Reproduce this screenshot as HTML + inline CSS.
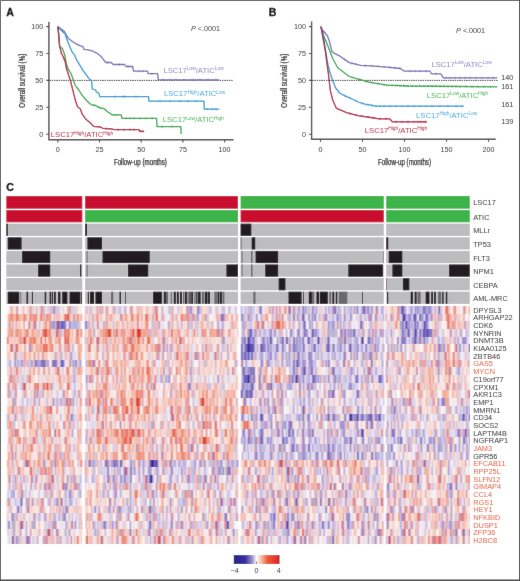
<!DOCTYPE html>
<html><head><meta charset="utf-8"><title>Figure</title><style>
html,body{margin:0;padding:0;background:#fff;}
body{width:520px;height:581px;overflow:hidden;position:relative;}
svg{position:absolute;left:0;top:0;display:block;}
text{font-family:"Liberation Sans",sans-serif;}
</style></head><body>
<svg width="520" height="581" viewBox="0 0 520 581">
<defs><filter id="gb" filterUnits="userSpaceOnUse" x="0" y="0" width="520" height="581"><feConvolveMatrix order="3" kernelMatrix="0 1 0 1 12 1 0 1 0" divisor="16" edgeMode="duplicate"/></filter></defs>
<g filter="url(#gb)"><rect width="520" height="581" fill="#fff"/>
<text x="6.3" y="15.6" font-size="10.6" fill="#000" text-anchor="start" font-family="Liberation Sans, sans-serif" font-weight="bold" stroke="#000" stroke-width="0.3">A</text>
<text x="268.8" y="15.6" font-size="10.6" fill="#000" text-anchor="start" font-family="Liberation Sans, sans-serif" font-weight="bold" stroke="#000" stroke-width="0.3">B</text>
<text x="6.3" y="190.5" font-size="10.6" fill="#000" text-anchor="start" font-family="Liberation Sans, sans-serif" font-weight="bold" stroke="#000" stroke-width="0.3">C</text>
<path d="M48.9 21.7V139.7H233.6" fill="none" stroke="#4a4a4a" stroke-width="1.4"/>
<path d="M46.1 26.6h2.8M46.1 53.5h2.8M46.1 80.4h2.8M46.1 107.3h2.8M46.1 134.2h2.8M57.8 139.7v2.8M99.5 139.7v2.8M141.2 139.7v2.8M182.9 139.7v2.8M224.6 139.7v2.8" stroke="#4a4a4a" stroke-width="1.1"/>
<text x="43.2" y="29.1" font-size="7.2" fill="#2a2a2a" text-anchor="end" font-family="Liberation Sans, sans-serif" >100</text>
<text x="43.2" y="56.0" font-size="7.2" fill="#2a2a2a" text-anchor="end" font-family="Liberation Sans, sans-serif" >75</text>
<text x="43.2" y="82.9" font-size="7.2" fill="#2a2a2a" text-anchor="end" font-family="Liberation Sans, sans-serif" >50</text>
<text x="43.2" y="109.8" font-size="7.2" fill="#2a2a2a" text-anchor="end" font-family="Liberation Sans, sans-serif" >25</text>
<text x="43.2" y="136.7" font-size="7.2" fill="#2a2a2a" text-anchor="end" font-family="Liberation Sans, sans-serif" >0</text>
<text x="57.8" y="152.2" font-size="7.2" fill="#2a2a2a" text-anchor="middle" font-family="Liberation Sans, sans-serif" >0</text>
<text x="99.5" y="152.2" font-size="7.2" fill="#2a2a2a" text-anchor="middle" font-family="Liberation Sans, sans-serif" >25</text>
<text x="141.2" y="152.2" font-size="7.2" fill="#2a2a2a" text-anchor="middle" font-family="Liberation Sans, sans-serif" >50</text>
<text x="182.9" y="152.2" font-size="7.2" fill="#2a2a2a" text-anchor="middle" font-family="Liberation Sans, sans-serif" >75</text>
<text x="224.6" y="152.2" font-size="7.2" fill="#2a2a2a" text-anchor="middle" font-family="Liberation Sans, sans-serif" >100</text>
<path d="M49.5 80.4H233" stroke="#111" stroke-width="1.0" stroke-dasharray="1.3 1.0"/>
<text transform="translate(25.0 80.7) rotate(-90)" font-size="8.6" fill="#222" stroke="#222" stroke-width="0.25" text-anchor="middle" font-family="Liberation Sans, sans-serif" textLength="54" lengthAdjust="spacingAndGlyphs">Overall survival (%)</text>
<text x="140.4" y="164.6" font-size="8.6" fill="#222" stroke="#222" stroke-width="0.25" text-anchor="middle" font-family="Liberation Sans, sans-serif" textLength="53" lengthAdjust="spacingAndGlyphs">Follow-up (months)</text>
<text x="191" y="31.2" font-size="7.2" fill="#333" font-family="Liberation Sans, sans-serif"><tspan font-style="italic">P</tspan> &lt;.0001</text>
<path d="M57.8 26.6 L61.2 29.1 L64.3 31.2 L65.3 33.3 L68.4 38.4 L72.5 41.5 L75.6 43.6 L79.8 45.6 L82.9 46.7 L83.9 49.3 L88.0 49.8 L92.2 50.8 L95.0 52.4 L97.7 53.7 L101.0 56.4 L103.1 59.1 L105.8 62.5 L111.2 62.5 L113.2 64.5 L124.6 64.5 L126.0 66.5 L132.7 66.5 L133.5 71.2 L147.5 71.2 L148.3 73.7 L157.6 73.7 L158.3 79.8 L219.2 79.8" fill="none" stroke="#766bb2" stroke-width="1.3" stroke-linejoin="round"/>
<path d="M57.8 26.6 L61.2 30.2 L65.3 34.3 L66.4 38.4 L67.4 40.5 L69.4 45.6 L71.5 50.8 L73.1 53.4 L74.6 54.9 L76.7 60.1 L79.8 65.2 L81.8 68.3 L82.9 70.4 L86.0 74.5 L89.1 78.7 L91.6 80.7 L92.2 88.8 L95.7 90.0 L96.3 92.0 L99.0 93.4 L99.7 96.6 L148.6 96.6 L148.9 101.2 L204.0 101.2 L204.3 109.2 L219.3 109.2" fill="none" stroke="#2b97cf" stroke-width="1.3" stroke-linejoin="round"/>
<path d="M57.8 26.6 L58.6 35.3 L59.6 46.7 L62.2 48.2 L64.8 54.9 L66.4 64.2 L68.4 69.4 L71.0 73.5 L73.6 80.7 L75.1 85.0 L76.5 87.0 L78.8 90.0 L82.2 95.4 L86.9 100.8 L89.6 103.5 L91.6 104.8 L95.7 105.5 L99.0 107.5 L104.4 108.8 L107.1 111.5 L110.5 113.6 L111.8 114.9 L121.2 114.9 L121.9 118.3 L156.6 118.3 L157.0 126.6 L180.8 126.6 L181.2 134.0" fill="none" stroke="#31a345" stroke-width="1.3" stroke-linejoin="round"/>
<path d="M57.8 26.6 L58.6 32.2 L59.6 45.6 L61.2 52.9 L63.3 57.0 L65.3 62.2 L66.4 68.3 L68.4 74.5 L70.5 80.7 L71.5 85.0 L72.8 90.0 L75.5 100.8 L77.5 106.8 L80.2 108.8 L82.2 114.2 L85.6 118.9 L89.6 122.3 L93.6 126.3 L100.4 127.0 L103.1 128.4 L112.5 129.0 L113.8 129.7 L139.2 129.7 L139.6 131.4 L144.2 131.4" fill="none" stroke="#b0153b" stroke-width="1.3" stroke-linejoin="round"/>
<path d="M108.0 61.4v2.2M119.2 63.4v2.2M128.0 65.4v2.2M139.4 70.1v2.2M143.0 70.1v2.2M152.0 72.6v2.2M163.0 78.7v2.2M170.0 78.7v2.2M176.0 78.7v2.2M184.0 78.7v2.2M192.0 78.7v2.2M200.0 78.7v2.2M208.0 78.7v2.2M216.0 78.7v2.2" stroke="#766bb2" stroke-width="0.8" fill="none"/>
<path d="M115.0 95.5v2.2M122.8 95.5v2.2M124.5 95.5v2.2M136.0 95.5v2.2M160.0 100.1v2.2M170.0 100.1v2.2M180.0 100.1v2.2M188.0 100.1v2.2M196.0 100.1v2.2M207.0 108.1v2.2M212.0 108.1v2.2M216.0 108.1v2.2" stroke="#2b97cf" stroke-width="0.8" fill="none"/>
<path d="M94.0 104.1v2.2M98.0 105.8v2.2M114.0 113.8v2.2M117.0 113.8v2.2M126.0 117.2v2.2M130.0 117.2v2.2M134.0 117.2v2.2M140.0 117.2v2.2M146.0 117.2v2.2M152.0 117.2v2.2M162.0 125.5v2.2M172.0 125.5v2.2" stroke="#31a345" stroke-width="0.8" fill="none"/>
<path d="M106.0 127.5v2.2M118.0 128.6v2.2M124.0 128.6v2.2M130.0 128.6v2.2M134.0 128.6v2.2M141.0 130.3v2.2M143.0 130.3v2.2" stroke="#b0153b" stroke-width="0.8" fill="none"/>
<text x="163.4" y="73.1" fill="#8b82c2" font-size="7.7" font-family="Liberation Sans, sans-serif">LSC17<tspan font-size="4.8" dy="-2.7">Low</tspan><tspan dy="2.7">/ATIC</tspan><tspan font-size="4.8" dy="-2.7">Low</tspan></text>
<text x="163.9" y="96.2" fill="#3aa7de" font-size="7.7" font-family="Liberation Sans, sans-serif">LSC17<tspan font-size="4.8" dy="-2.7">High</tspan><tspan dy="2.7">/ATIC</tspan><tspan font-size="4.8" dy="-2.7">Low</tspan></text>
<text x="162.7" y="122.2" fill="#42b050" font-size="7.7" font-family="Liberation Sans, sans-serif">LSC17<tspan font-size="4.8" dy="-2.7">Low</tspan><tspan dy="2.7">/ATIC</tspan><tspan font-size="4.8" dy="-2.7">High</tspan></text>
<text x="50.8" y="137.3" fill="#b8203f" font-size="7.7" font-family="Liberation Sans, sans-serif">LSC17<tspan font-size="4.8" dy="-2.7">High</tspan><tspan dy="2.7">/ATIC</tspan><tspan font-size="4.8" dy="-2.7">High</tspan></text>
<path d="M311.6 21.5V139.3H495.8" fill="none" stroke="#4a4a4a" stroke-width="1.4"/>
<path d="M308.8 26.6h2.8M308.8 53.5h2.8M308.8 80.4h2.8M308.8 107.3h2.8M308.8 134.2h2.8M320.5 139.3v2.8M362.5 139.3v2.8M404.5 139.3v2.8M446.5 139.3v2.8M488.5 139.3v2.8" stroke="#4a4a4a" stroke-width="1.1"/>
<text x="306.0" y="29.1" font-size="7.2" fill="#2a2a2a" text-anchor="end" font-family="Liberation Sans, sans-serif" >100</text>
<text x="306.0" y="56.0" font-size="7.2" fill="#2a2a2a" text-anchor="end" font-family="Liberation Sans, sans-serif" >75</text>
<text x="306.0" y="82.9" font-size="7.2" fill="#2a2a2a" text-anchor="end" font-family="Liberation Sans, sans-serif" >50</text>
<text x="306.0" y="109.8" font-size="7.2" fill="#2a2a2a" text-anchor="end" font-family="Liberation Sans, sans-serif" >25</text>
<text x="306.0" y="136.7" font-size="7.2" fill="#2a2a2a" text-anchor="end" font-family="Liberation Sans, sans-serif" >0</text>
<text x="320.5" y="152.2" font-size="7.2" fill="#2a2a2a" text-anchor="middle" font-family="Liberation Sans, sans-serif" >0</text>
<text x="362.5" y="152.2" font-size="7.2" fill="#2a2a2a" text-anchor="middle" font-family="Liberation Sans, sans-serif" >50</text>
<text x="404.5" y="152.2" font-size="7.2" fill="#2a2a2a" text-anchor="middle" font-family="Liberation Sans, sans-serif" >100</text>
<text x="446.5" y="152.2" font-size="7.2" fill="#2a2a2a" text-anchor="middle" font-family="Liberation Sans, sans-serif" >150</text>
<text x="488.5" y="152.2" font-size="7.2" fill="#2a2a2a" text-anchor="middle" font-family="Liberation Sans, sans-serif" >200</text>
<path d="M312.2 80.4H498" stroke="#111" stroke-width="1.0" stroke-dasharray="1.3 1.0"/>
<text transform="translate(286.5 80.7) rotate(-90)" font-size="8.6" fill="#222" stroke="#222" stroke-width="0.25" text-anchor="middle" font-family="Liberation Sans, sans-serif" textLength="54" lengthAdjust="spacingAndGlyphs">Overall survival (%)</text>
<text x="404.5" y="164.6" font-size="8.6" fill="#222" stroke="#222" stroke-width="0.25" text-anchor="middle" font-family="Liberation Sans, sans-serif" textLength="53" lengthAdjust="spacingAndGlyphs">Follow-up (months)</text>
<text x="456.1" y="32.9" font-size="7.2" fill="#333" font-family="Liberation Sans, sans-serif"><tspan font-style="italic">P</tspan> &lt;.0001</text>
<path d="M320.9 26.6 L322.5 30.0 L325.8 33.8 L327.5 36.0 L329.2 40.7 L332.0 51.7 L335.0 53.6 L340.0 56.2 L349.2 62.6 L360.8 65.4 L370.8 65.8 L387.0 67.1 L400.4 68.5 L404.4 71.2 L430.0 71.2 L431.4 73.8 L440.8 73.8 L443.5 77.9 L497.3 77.9" fill="none" stroke="#766bb2" stroke-width="1.3" stroke-linejoin="round"/>
<path d="M320.9 26.6 L324.4 37.9 L325.8 40.7 L328.5 47.5 L332.7 58.5 L337.7 67.7 L349.2 76.5 L358.5 79.2 L368.0 81.9 L376.0 83.3 L387.0 85.2 L408.5 86.0 L497.3 86.8" fill="none" stroke="#31a345" stroke-width="1.3" stroke-linejoin="round"/>
<path d="M320.9 26.6 L323.0 33.8 L325.8 51.7 L327.8 64.1 L329.9 72.3 L332.7 80.6 L335.4 87.5 L339.6 93.0 L345.0 95.8 L353.3 99.5 L358.0 102.0 L365.0 104.2 L376.0 106.2 L463.7 106.2" fill="none" stroke="#2b97cf" stroke-width="1.3" stroke-linejoin="round"/>
<path d="M320.9 26.6 L325.0 49.2 L328.5 74.6 L330.4 90.8 L332.7 100.0 L336.2 108.1 L346.5 112.7 L358.1 115.7 L370.8 117.5 L378.8 118.8 L389.6 118.8 L392.3 121.8 L426.8 121.8" fill="none" stroke="#b0153b" stroke-width="1.3" stroke-linejoin="round"/>
<path d="M345.0 58.6v2.2M352.0 62.2v2.2M356.0 63.1v2.2M365.0 64.5v2.2M372.0 64.8v2.2M378.0 65.3v2.2M384.0 65.8v2.2M390.0 66.3v2.2M395.0 66.8v2.2M400.0 67.4v2.2M410.0 70.1v2.2M415.0 70.1v2.2M420.0 70.1v2.2M426.0 70.1v2.2M436.0 72.7v2.2M446.0 76.8v2.2M450.0 76.8v2.2M455.0 76.8v2.2M460.0 76.8v2.2M465.0 76.8v2.2M470.0 76.8v2.2M476.0 76.8v2.2M482.0 76.8v2.2M488.0 76.8v2.2M493.0 76.8v2.2" stroke="#766bb2" stroke-width="0.8" fill="none"/>
<path d="M352.0 76.2v2.2M360.0 78.5v2.2M366.0 80.2v2.2M372.0 81.5v2.2M378.0 82.5v2.2M384.0 83.6v2.2M388.0 84.1v2.2M392.0 84.3v2.2M396.0 84.4v2.2M400.0 84.6v2.2M404.0 84.7v2.2M408.0 84.9v2.2M412.0 84.9v2.2M416.0 85.0v2.2M420.0 85.0v2.2M424.0 85.0v2.2M428.0 85.1v2.2M432.0 85.1v2.2M436.0 85.1v2.2M440.0 85.2v2.2M444.0 85.2v2.2M448.0 85.3v2.2M452.0 85.3v2.2M456.0 85.3v2.2M460.0 85.4v2.2M466.0 85.4v2.2M472.0 85.5v2.2M478.0 85.5v2.2M484.0 85.6v2.2M490.0 85.6v2.2" stroke="#31a345" stroke-width="0.8" fill="none"/>
<path d="M345.0 94.7v2.2M350.0 96.9v2.2M356.0 99.8v2.2M362.0 102.2v2.2M368.0 103.6v2.2M372.0 104.4v2.2M376.0 105.1v2.2M380.0 105.1v2.2M384.0 105.1v2.2M390.0 105.1v2.2M396.0 105.1v2.2M402.0 105.1v2.2M408.0 105.1v2.2M414.0 105.1v2.2M420.0 105.1v2.2M426.0 105.1v2.2M432.0 105.1v2.2M440.0 105.1v2.2M448.0 105.1v2.2M456.0 105.1v2.2M462.0 105.1v2.2" stroke="#2b97cf" stroke-width="0.8" fill="none"/>
<path d="M350.0 112.5v2.2M356.0 114.1v2.2M362.0 115.2v2.2M368.0 116.0v2.2M374.0 116.9v2.2M380.0 117.7v2.2M386.0 117.7v2.2M396.0 120.7v2.2M402.0 120.7v2.2M408.0 120.7v2.2M414.0 120.7v2.2M418.0 120.7v2.2M421.0 120.7v2.2M424.0 120.7v2.2M426.0 120.7v2.2" stroke="#b0153b" stroke-width="0.8" fill="none"/>
<text x="431.4" y="67.1" fill="#8b82c2" font-size="7.7" font-family="Liberation Sans, sans-serif">LSC17<tspan font-size="4.8" dy="-2.7">Low</tspan><tspan dy="2.7">/ATIC</tspan><tspan font-size="4.8" dy="-2.7">Low</tspan></text>
<text x="426.8" y="98.1" fill="#42b050" font-size="7.7" font-family="Liberation Sans, sans-serif">LSC17<tspan font-size="4.8" dy="-2.7">Low</tspan><tspan dy="2.7">/ATIC</tspan><tspan font-size="4.8" dy="-2.7">High</tspan></text>
<text x="416.0" y="117.5" fill="#3aa7de" font-size="7.7" font-family="Liberation Sans, sans-serif">LSC17<tspan font-size="4.8" dy="-2.7">High</tspan><tspan dy="2.7">/ATIC</tspan><tspan font-size="4.8" dy="-2.7">Low</tspan></text>
<text x="364.8" y="133.1" fill="#b8203f" font-size="7.7" font-family="Liberation Sans, sans-serif">LSC17<tspan font-size="4.8" dy="-2.7">High</tspan><tspan dy="2.7">/ATIC</tspan><tspan font-size="4.8" dy="-2.7">High</tspan></text>
<text x="501.2" y="80.1" font-size="7.2" fill="#222" text-anchor="start" font-family="Liberation Sans, sans-serif" >140</text>
<text x="501.2" y="89.1" font-size="7.2" fill="#222" text-anchor="start" font-family="Liberation Sans, sans-serif" >161</text>
<text x="501.2" y="107" font-size="7.2" fill="#222" text-anchor="start" font-family="Liberation Sans, sans-serif" >161</text>
<text x="501.2" y="124.4" font-size="7.2" fill="#222" text-anchor="start" font-family="Liberation Sans, sans-serif" >139</text>
<rect x="6.3" y="196" width="76.0" height="12.7" fill="#c8102e"/>
<rect x="6.3" y="210.1" width="76.0" height="12.2" fill="#c8102e"/>
<rect x="6.3" y="223.7" width="76.0" height="12.2" fill="#bdbdbf"/>
<rect x="6.3" y="237.3" width="76.0" height="12.2" fill="#bdbdbf"/>
<rect x="6.3" y="250.9" width="76.0" height="12.2" fill="#bdbdbf"/>
<rect x="6.3" y="264.5" width="76.0" height="12.2" fill="#bdbdbf"/>
<rect x="6.3" y="278.1" width="76.0" height="12.2" fill="#bdbdbf"/>
<rect x="6.3" y="291.7" width="76.0" height="12.2" fill="#bdbdbf"/>
<rect x="85.1" y="196" width="152.9" height="12.7" fill="#c8102e"/>
<rect x="85.1" y="210.1" width="152.9" height="12.2" fill="#3cb449"/>
<rect x="85.1" y="223.7" width="152.9" height="12.2" fill="#bdbdbf"/>
<rect x="85.1" y="237.3" width="152.9" height="12.2" fill="#bdbdbf"/>
<rect x="85.1" y="250.9" width="152.9" height="12.2" fill="#bdbdbf"/>
<rect x="85.1" y="264.5" width="152.9" height="12.2" fill="#bdbdbf"/>
<rect x="85.1" y="278.1" width="152.9" height="12.2" fill="#bdbdbf"/>
<rect x="85.1" y="291.7" width="152.9" height="12.2" fill="#bdbdbf"/>
<rect x="240.6" y="196" width="143.2" height="12.7" fill="#3cb449"/>
<rect x="240.6" y="210.1" width="143.2" height="12.2" fill="#c8102e"/>
<rect x="240.6" y="223.7" width="143.2" height="12.2" fill="#bdbdbf"/>
<rect x="240.6" y="237.3" width="143.2" height="12.2" fill="#bdbdbf"/>
<rect x="240.6" y="250.9" width="143.2" height="12.2" fill="#bdbdbf"/>
<rect x="240.6" y="264.5" width="143.2" height="12.2" fill="#bdbdbf"/>
<rect x="240.6" y="278.1" width="143.2" height="12.2" fill="#bdbdbf"/>
<rect x="240.6" y="291.7" width="143.2" height="12.2" fill="#bdbdbf"/>
<rect x="386.2" y="196" width="83.6" height="12.7" fill="#3cb449"/>
<rect x="386.2" y="210.1" width="83.6" height="12.2" fill="#3cb449"/>
<rect x="386.2" y="223.7" width="83.6" height="12.2" fill="#bdbdbf"/>
<rect x="386.2" y="237.3" width="83.6" height="12.2" fill="#bdbdbf"/>
<rect x="386.2" y="250.9" width="83.6" height="12.2" fill="#bdbdbf"/>
<rect x="386.2" y="264.5" width="83.6" height="12.2" fill="#bdbdbf"/>
<rect x="386.2" y="278.1" width="83.6" height="12.2" fill="#bdbdbf"/>
<rect x="386.2" y="291.7" width="83.6" height="12.2" fill="#bdbdbf"/>
<rect x="6.3" y="223.7" width="1.5" height="12.2" fill="#231f20"/>
<rect x="85.1" y="223.7" width="1.9" height="12.2" fill="#231f20"/>
<rect x="240.6" y="223.7" width="10.7" height="12.2" fill="#231f20"/>
<rect x="7.8" y="237.3" width="13.8" height="12.2" fill="#231f20"/>
<rect x="87.4" y="237.3" width="14.6" height="12.2" fill="#231f20"/>
<rect x="240.6" y="237.3" width="1.0" height="12.2" fill="#6a6a6a"/>
<rect x="251.7" y="237.3" width="3.5" height="12.2" fill="#231f20"/>
<rect x="386.2" y="237.3" width="2.0" height="12.2" fill="#231f20"/>
<rect x="22.1" y="250.9" width="28.1" height="12.2" fill="#231f20"/>
<rect x="86.6" y="250.9" width="1.0" height="12.2" fill="#6a6a6a"/>
<rect x="102.5" y="250.9" width="47.3" height="12.2" fill="#231f20"/>
<rect x="241.5" y="250.9" width="1.0" height="12.2" fill="#6a6a6a"/>
<rect x="251" y="250.9" width="1.5" height="12.2" fill="#6a6a6a"/>
<rect x="255.6" y="250.9" width="22.5" height="12.2" fill="#231f20"/>
<rect x="383.2" y="250.9" width="0.6" height="12.2" fill="#6a6a6a"/>
<rect x="388.8" y="250.9" width="13.5" height="12.2" fill="#231f20"/>
<rect x="38.1" y="264.5" width="12.1" height="12.2" fill="#231f20"/>
<rect x="80" y="264.5" width="1.3" height="12.2" fill="#231f20"/>
<rect x="86.6" y="264.5" width="1.0" height="12.2" fill="#6a6a6a"/>
<rect x="128" y="264.5" width="20.2" height="12.2" fill="#231f20"/>
<rect x="226.4" y="264.5" width="11.6" height="12.2" fill="#231f20"/>
<rect x="241.5" y="264.5" width="1.0" height="12.2" fill="#6a6a6a"/>
<rect x="251" y="264.5" width="1.5" height="12.2" fill="#6a6a6a"/>
<rect x="265.2" y="264.5" width="12.9" height="12.2" fill="#231f20"/>
<rect x="348.3" y="264.5" width="34.6" height="12.2" fill="#231f20"/>
<rect x="392.4" y="264.5" width="9.9" height="12.2" fill="#231f20"/>
<rect x="449.1" y="264.5" width="20.7" height="12.2" fill="#231f20"/>
<rect x="278.7" y="278.1" width="6.7" height="12.2" fill="#231f20"/>
<rect x="386.2" y="278.1" width="0.8" height="12.2" fill="#6a6a6a"/>
<rect x="402.9" y="278.1" width="6.4" height="12.2" fill="#231f20"/>
<rect x="7.8" y="291.7" width="11.4" height="12.2" fill="#231f20"/>
<rect x="20.4" y="291.7" width="0.8" height="12.2" fill="#6a6a6a"/>
<rect x="26.5" y="291.7" width="1.6" height="12.2" fill="#231f20"/>
<rect x="31.9" y="291.7" width="1.1" height="12.2" fill="#231f20"/>
<rect x="44.7" y="291.7" width="1.5" height="12.2" fill="#231f20"/>
<rect x="49.6" y="291.7" width="1.6" height="12.2" fill="#231f20"/>
<rect x="51.9" y="291.7" width="1.1" height="12.2" fill="#231f20"/>
<rect x="53.9" y="291.7" width="1.9" height="12.2" fill="#231f20"/>
<rect x="58" y="291.7" width="2.4" height="12.2" fill="#231f20"/>
<rect x="62.2" y="291.7" width="5.1" height="12.2" fill="#231f20"/>
<rect x="69.6" y="291.7" width="10.8" height="12.2" fill="#231f20"/>
<rect x="81.2" y="291.7" width="0.8" height="12.2" fill="#231f20"/>
<rect x="87.8" y="291.7" width="1.2" height="12.2" fill="#231f20"/>
<rect x="90" y="291.7" width="4.0" height="12.2" fill="#231f20"/>
<rect x="95.5" y="291.7" width="6.5" height="12.2" fill="#231f20"/>
<rect x="111" y="291.7" width="2.3" height="12.2" fill="#6a6a6a"/>
<rect x="119.5" y="291.7" width="1.5" height="12.2" fill="#231f20"/>
<rect x="125" y="291.7" width="0.7" height="12.2" fill="#231f20"/>
<rect x="153.1" y="291.7" width="8.8" height="12.2" fill="#231f20"/>
<rect x="163.8" y="291.7" width="2.1" height="12.2" fill="#231f20"/>
<rect x="165.9" y="291.7" width="2.1" height="12.2" fill="#6a6a6a"/>
<rect x="170.8" y="291.7" width="1.1" height="12.2" fill="#6a6a6a"/>
<rect x="173.8" y="291.7" width="2.0" height="12.2" fill="#231f20"/>
<rect x="176.9" y="291.7" width="1.9" height="12.2" fill="#231f20"/>
<rect x="180" y="291.7" width="1.9" height="12.2" fill="#231f20"/>
<rect x="183" y="291.7" width="1.4" height="12.2" fill="#6a6a6a"/>
<rect x="185" y="291.7" width="1.9" height="12.2" fill="#231f20"/>
<rect x="187.5" y="291.7" width="1.2" height="12.2" fill="#6a6a6a"/>
<rect x="189.4" y="291.7" width="1.2" height="12.2" fill="#231f20"/>
<rect x="191.25" y="291.7" width="1.8" height="12.2" fill="#231f20"/>
<rect x="194.4" y="291.7" width="1.2" height="12.2" fill="#6a6a6a"/>
<rect x="196.25" y="291.7" width="1.2" height="12.2" fill="#231f20"/>
<rect x="198.1" y="291.7" width="2.5" height="12.2" fill="#231f20"/>
<rect x="201.9" y="291.7" width="2.5" height="12.2" fill="#6a6a6a"/>
<rect x="205" y="291.7" width="2.5" height="12.2" fill="#231f20"/>
<rect x="208.1" y="291.7" width="1.9" height="12.2" fill="#231f20"/>
<rect x="214.4" y="291.7" width="2.5" height="12.2" fill="#6a6a6a"/>
<rect x="217.5" y="291.7" width="1.9" height="12.2" fill="#231f20"/>
<rect x="220" y="291.7" width="1.9" height="12.2" fill="#231f20"/>
<rect x="222.5" y="291.7" width="1.9" height="12.2" fill="#6a6a6a"/>
<rect x="253.3" y="291.7" width="2.2" height="12.2" fill="#6a6a6a"/>
<rect x="288.5" y="291.7" width="13.1" height="12.2" fill="#231f20"/>
<rect x="303.2" y="291.7" width="0.8" height="12.2" fill="#231f20"/>
<rect x="308.8" y="291.7" width="3.1" height="12.2" fill="#231f20"/>
<rect x="311.9" y="291.7" width="2.3" height="12.2" fill="#6a6a6a"/>
<rect x="316.5" y="291.7" width="2.7" height="12.2" fill="#231f20"/>
<rect x="320" y="291.7" width="7.8" height="12.2" fill="#231f20"/>
<rect x="329.3" y="291.7" width="1.9" height="12.2" fill="#6a6a6a"/>
<rect x="332.4" y="291.7" width="1.8" height="12.2" fill="#231f20"/>
<rect x="335.8" y="291.7" width="1.5" height="12.2" fill="#231f20"/>
<rect x="338.8" y="291.7" width="8.5" height="12.2" fill="#6a6a6a"/>
<rect x="362" y="291.7" width="0.8" height="12.2" fill="#231f20"/>
<rect x="387" y="291.7" width="1.2" height="12.2" fill="#231f20"/>
<rect x="410.7" y="291.7" width="2.2" height="12.2" fill="#231f20"/>
<rect x="414.7" y="291.7" width="1.9" height="12.2" fill="#231f20"/>
<rect x="417.5" y="291.7" width="3.1" height="12.2" fill="#6a6a6a"/>
<rect x="425.7" y="291.7" width="3.7" height="12.2" fill="#231f20"/>
<rect x="431.2" y="291.7" width="1.8" height="12.2" fill="#231f20"/>
<rect x="434" y="291.7" width="1.8" height="12.2" fill="#231f20"/>
<rect x="438.1" y="291.7" width="3.1" height="12.2" fill="#6a6a6a"/>
<rect x="442.2" y="291.7" width="1.4" height="12.2" fill="#231f20"/>
<rect x="445.8" y="291.7" width="1.5" height="12.2" fill="#231f20"/>
<text x="473.2" y="205.25" font-size="7.9" fill="#2a2a2a" text-anchor="start" font-family="Liberation Sans, sans-serif" transform="translate(473.2 0) scale(0.94 1) translate(-473.2 0)">LSC17</text>
<text x="473.2" y="219.79999999999998" font-size="7.9" fill="#2a2a2a" text-anchor="start" font-family="Liberation Sans, sans-serif" transform="translate(473.2 0) scale(0.94 1) translate(-473.2 0)">ATIC</text>
<text x="473.2" y="233.39999999999998" font-size="7.9" fill="#2a2a2a" text-anchor="start" font-family="Liberation Sans, sans-serif" transform="translate(473.2 0) scale(0.94 1) translate(-473.2 0)">MLLr</text>
<text x="473.2" y="246.99999999999997" font-size="7.9" fill="#2a2a2a" text-anchor="start" font-family="Liberation Sans, sans-serif" transform="translate(473.2 0) scale(0.94 1) translate(-473.2 0)">TP53</text>
<text x="473.2" y="260.6" font-size="7.9" fill="#2a2a2a" text-anchor="start" font-family="Liberation Sans, sans-serif" transform="translate(473.2 0) scale(0.94 1) translate(-473.2 0)">FLT3</text>
<text x="473.2" y="274.20000000000005" font-size="7.9" fill="#2a2a2a" text-anchor="start" font-family="Liberation Sans, sans-serif" transform="translate(473.2 0) scale(0.94 1) translate(-473.2 0)">NPM1</text>
<text x="473.2" y="287.80000000000007" font-size="7.9" fill="#2a2a2a" text-anchor="start" font-family="Liberation Sans, sans-serif" transform="translate(473.2 0) scale(0.94 1) translate(-473.2 0)">CEBPA</text>
<text x="473.2" y="301.40000000000003" font-size="7.9" fill="#2a2a2a" text-anchor="start" font-family="Liberation Sans, sans-serif" transform="translate(473.2 0) scale(0.94 1) translate(-473.2 0)">AML-MRC</text>
<text x="473.2" y="312.73999999999995" font-size="7.8" fill="#2a2a2a" text-anchor="start" font-family="Liberation Sans, sans-serif" transform="translate(473.2 0) scale(0.95 1) translate(-473.2 0)">DPYSL3</text>
<text x="473.2" y="320.41999999999996" font-size="7.8" fill="#2a2a2a" text-anchor="start" font-family="Liberation Sans, sans-serif" transform="translate(473.2 0) scale(0.95 1) translate(-473.2 0)">ARHGAP22</text>
<text x="473.2" y="328.09999999999997" font-size="7.8" fill="#2a2a2a" text-anchor="start" font-family="Liberation Sans, sans-serif" transform="translate(473.2 0) scale(0.95 1) translate(-473.2 0)">CDK6</text>
<text x="473.2" y="335.78" font-size="7.8" fill="#2a2a2a" text-anchor="start" font-family="Liberation Sans, sans-serif" transform="translate(473.2 0) scale(0.95 1) translate(-473.2 0)">NYNRIN</text>
<text x="473.2" y="343.46" font-size="7.8" fill="#2a2a2a" text-anchor="start" font-family="Liberation Sans, sans-serif" transform="translate(473.2 0) scale(0.95 1) translate(-473.2 0)">DNMT3B</text>
<text x="473.2" y="351.14" font-size="7.8" fill="#2a2a2a" text-anchor="start" font-family="Liberation Sans, sans-serif" transform="translate(473.2 0) scale(0.95 1) translate(-473.2 0)">KIAA0125</text>
<text x="473.2" y="358.82" font-size="7.8" fill="#2a2a2a" text-anchor="start" font-family="Liberation Sans, sans-serif" transform="translate(473.2 0) scale(0.95 1) translate(-473.2 0)">ZBTB46</text>
<text x="473.2" y="366.5" font-size="7.8" fill="#e05a3c" text-anchor="start" font-family="Liberation Sans, sans-serif" transform="translate(473.2 0) scale(0.95 1) translate(-473.2 0)">GAS5</text>
<text x="473.2" y="374.17999999999995" font-size="7.8" fill="#e05a3c" text-anchor="start" font-family="Liberation Sans, sans-serif" transform="translate(473.2 0) scale(0.95 1) translate(-473.2 0)">MYCN</text>
<text x="473.2" y="381.85999999999996" font-size="7.8" fill="#2a2a2a" text-anchor="start" font-family="Liberation Sans, sans-serif" transform="translate(473.2 0) scale(0.95 1) translate(-473.2 0)">C19orf77</text>
<text x="473.2" y="389.53999999999996" font-size="7.8" fill="#2a2a2a" text-anchor="start" font-family="Liberation Sans, sans-serif" transform="translate(473.2 0) scale(0.95 1) translate(-473.2 0)">CPXM1</text>
<text x="473.2" y="397.21999999999997" font-size="7.8" fill="#2a2a2a" text-anchor="start" font-family="Liberation Sans, sans-serif" transform="translate(473.2 0) scale(0.95 1) translate(-473.2 0)">AKR1C3</text>
<text x="473.2" y="404.9" font-size="7.8" fill="#2a2a2a" text-anchor="start" font-family="Liberation Sans, sans-serif" transform="translate(473.2 0) scale(0.95 1) translate(-473.2 0)">EMP1</text>
<text x="473.2" y="412.58" font-size="7.8" fill="#2a2a2a" text-anchor="start" font-family="Liberation Sans, sans-serif" transform="translate(473.2 0) scale(0.95 1) translate(-473.2 0)">MMRN1</text>
<text x="473.2" y="420.26" font-size="7.8" fill="#2a2a2a" text-anchor="start" font-family="Liberation Sans, sans-serif" transform="translate(473.2 0) scale(0.95 1) translate(-473.2 0)">CD34</text>
<text x="473.2" y="427.93999999999994" font-size="7.8" fill="#2a2a2a" text-anchor="start" font-family="Liberation Sans, sans-serif" transform="translate(473.2 0) scale(0.95 1) translate(-473.2 0)">SOCS2</text>
<text x="473.2" y="435.62" font-size="7.8" fill="#2a2a2a" text-anchor="start" font-family="Liberation Sans, sans-serif" transform="translate(473.2 0) scale(0.95 1) translate(-473.2 0)">LAPTM4B</text>
<text x="473.2" y="443.29999999999995" font-size="7.8" fill="#2a2a2a" text-anchor="start" font-family="Liberation Sans, sans-serif" transform="translate(473.2 0) scale(0.95 1) translate(-473.2 0)">NGFRAP1</text>
<text x="473.2" y="450.97999999999996" font-size="7.8" fill="#e05a3c" text-anchor="start" font-family="Liberation Sans, sans-serif" transform="translate(473.2 0) scale(0.95 1) translate(-473.2 0)">JAM3</text>
<text x="473.2" y="458.65999999999997" font-size="7.8" fill="#2a2a2a" text-anchor="start" font-family="Liberation Sans, sans-serif" transform="translate(473.2 0) scale(0.95 1) translate(-473.2 0)">GPR56</text>
<text x="473.2" y="466.34" font-size="7.8" fill="#e05a3c" text-anchor="start" font-family="Liberation Sans, sans-serif" transform="translate(473.2 0) scale(0.95 1) translate(-473.2 0)">EFCAB11</text>
<text x="473.2" y="474.02" font-size="7.8" fill="#e05a3c" text-anchor="start" font-family="Liberation Sans, sans-serif" transform="translate(473.2 0) scale(0.95 1) translate(-473.2 0)">RPP25L</text>
<text x="473.2" y="481.69999999999993" font-size="7.8" fill="#e05a3c" text-anchor="start" font-family="Liberation Sans, sans-serif" transform="translate(473.2 0) scale(0.95 1) translate(-473.2 0)">SLFN12</text>
<text x="473.2" y="489.38" font-size="7.8" fill="#e05a3c" text-anchor="start" font-family="Liberation Sans, sans-serif" transform="translate(473.2 0) scale(0.95 1) translate(-473.2 0)">GIMAP4</text>
<text x="473.2" y="497.05999999999995" font-size="7.8" fill="#e05a3c" text-anchor="start" font-family="Liberation Sans, sans-serif" transform="translate(473.2 0) scale(0.95 1) translate(-473.2 0)">CCL4</text>
<text x="473.2" y="504.74" font-size="7.8" fill="#e05a3c" text-anchor="start" font-family="Liberation Sans, sans-serif" transform="translate(473.2 0) scale(0.95 1) translate(-473.2 0)">RGS1</text>
<text x="473.2" y="512.42" font-size="7.8" fill="#e05a3c" text-anchor="start" font-family="Liberation Sans, sans-serif" transform="translate(473.2 0) scale(0.95 1) translate(-473.2 0)">HEY1</text>
<text x="473.2" y="520.1" font-size="7.8" fill="#e05a3c" text-anchor="start" font-family="Liberation Sans, sans-serif" transform="translate(473.2 0) scale(0.95 1) translate(-473.2 0)">NFKBID</text>
<text x="473.2" y="527.78" font-size="7.8" fill="#e05a3c" text-anchor="start" font-family="Liberation Sans, sans-serif" transform="translate(473.2 0) scale(0.95 1) translate(-473.2 0)">DUSP1</text>
<text x="473.2" y="535.4599999999999" font-size="7.8" fill="#e05a3c" text-anchor="start" font-family="Liberation Sans, sans-serif" transform="translate(473.2 0) scale(0.95 1) translate(-473.2 0)">ZFP36</text>
<text x="473.2" y="543.14" font-size="7.8" fill="#e05a3c" text-anchor="start" font-family="Liberation Sans, sans-serif" transform="translate(473.2 0) scale(0.95 1) translate(-473.2 0)">H2BC8</text>
<defs><filter id="bl" filterUnits="userSpaceOnUse" x="6" y="306" width="464" height="238"><feConvolveMatrix order="3 1" kernelMatrix="1 2 1" divisor="4" edgeMode="duplicate"/></filter></defs>
<g shape-rendering="crispEdges" filter="url(#bl)"><path d="M338 309.8h1M357 309.8h1M426 309.8h1M242 317.5h1M293 317.5h1M315 317.5h1M344 317.5h1M404 317.5h1M414 317.5h1M420 317.5h1M422 317.5h1M56 325.2h1M58 325.2h1M403 325.2h1M351 332.9h1M402 332.9h1M405 332.9h1M424 332.9h1M427 332.9h1M242 340.6h1M244 340.6h1M249 340.6h1M282 340.6h1M286 340.6h1M424 340.6h1M242 348.2h1M248 348.2h2M251 348.2h1M268 348.2h1M297 348.2h1M333 348.2h1M242 355.9h1M251 355.9h1M262 355.9h1M282 355.9h1M35 363.6h1M70 363.6h1M282 363.6h1M371 363.6h1M244 371.3h1M248 371.3h1M251 371.3h1M253 371.3h1M332 371.3h1M438 371.3h1M248 379.0h2M259 379.0h1M289 379.0h1M297 379.0h1M251 386.6h1M271 386.6h1M242 394.3h1M247 394.3h1M249 394.3h1M251 394.3h1M73 402.0h1M71 417.4h1M328 417.4h1M350 417.4h1M357 417.4h2M371 417.4h1M459 417.4h1M285 425.0h1M303 425.0h1M293 432.7h1M312 432.7h1M400 432.7h1M256 440.4h1M401 440.4h1M438 440.4h1M459 440.4h1M282 448.1h1M293 448.1h1M381 448.1h1M388 448.1h1M357 455.8h1M362 455.8h1M120 463.4h2M151 463.4h3M156 463.4h1M228 463.4h1M108 471.1h1M220 471.1h1M223 471.1h1M226 471.1h1M9 478.8h1M130 478.8h1M150 478.8h1M152 478.8h1M418 478.8h1M66 486.5h1M334 486.5h1M342 486.5h1M130 494.2h1M273 494.2h1M9 501.8h1M21 501.8h1M61 501.8h1M130 509.5h1M150 509.5h1M346 517.2h1M149 524.9h1M228 524.9h1M268 524.9h1M288 524.9h1M368 524.9h1M130 532.6h1M13 540.2h1M262 540.2h1M333 540.2h1" stroke="#322396" stroke-width="7.68"/><path d="M313 332.9h1M363 332.9h1M420 332.9h1M362 340.6h1M414 340.6h1M276 348.2h1M303 348.2h1M397 348.2h1M363 355.9h1M371 355.9h1M43 363.6h1M268 363.6h1M297 363.6h1M166 379.0h1M245 379.0h1M251 379.0h1M53 402.0h1M367 417.4h1M379 417.4h1M463 417.4h1M271 425.0h1M362 432.7h1M262 440.4h1M378 440.4h1M270 448.1h1M280 448.1h1M357 448.1h1M340 455.8h1M105 463.4h1M204 463.4h1M228 471.1h1M288 478.8h1M346 494.2h1M203 517.2h1M9 524.9h1M12 524.9h1M32 524.9h1M66 524.9h1M120 532.6h1M295 540.2h1" stroke="#3c2b9e" stroke-width="7.68"/><path d="M344 309.8h1M363 309.8h1M303 317.5h1M62 325.2h1M400 325.2h1M405 325.2h2M415 325.2h1M424 325.2h1M328 332.9h1M267 340.6h1M270 340.6h1M309 340.6h1M341 340.6h1M416 340.6h1M289 348.2h1M329 348.2h1M391 348.2h1M245 355.9h1M248 355.9h1M61 363.6h1M63 363.6h1M303 371.3h1M303 379.0h1M357 379.0h1M268 386.6h1M282 394.3h1M300 402.0h1M303 409.7h1M467 409.7h1M256 417.4h1M262 417.4h1M334 417.4h1M376 417.4h1M443 417.4h1M282 432.7h1M282 440.4h1M351 440.4h1M191 448.1h1M282 455.8h1M305 455.8h1M292 471.1h1M157 478.8h1M22 494.2h1M170 501.8h1M296 501.8h1M320 501.8h1M66 509.5h1M256 509.5h1M12 517.2h1M291 517.2h1M319 517.2h1M14 524.9h1M21 524.9h1M54 524.9h1M322 524.9h1M387 524.9h1M233 532.6h1M305 540.2h1" stroke="#4534a5" stroke-width="7.68"/><path d="M289 309.8h1M371 309.8h1M75 325.2h1M262 325.2h1M312 325.2h1M250 332.9h1M290 332.9h1M332 332.9h1M415 332.9h1M434 332.9h1M222 340.6h1M264 340.6h1M361 340.6h1M420 340.6h1M438 340.6h1M247 348.2h1M350 348.2h1M294 355.9h1M438 355.9h1M31 363.6h1M303 363.6h1M382 363.6h1M297 371.3h1M369 371.3h1M450 371.3h1M247 379.0h1M253 379.0h1M295 379.0h1M312 379.0h1M340 379.0h1M242 386.6h1M244 386.6h1M391 394.3h1M391 409.7h1M420 409.7h1M299 417.4h1M303 417.4h1M351 417.4h1M288 432.7h1M343 432.7h1M361 432.7h1M251 440.4h1M400 440.4h1M421 440.4h1M244 448.1h1M260 448.1h1M421 448.1h1M438 448.1h1M256 455.8h1M344 455.8h1M393 455.8h1M44 463.4h1M217 463.4h1M15 478.8h1M67 478.8h1M113 478.8h1M151 478.8h1M198 478.8h1M215 478.8h1M11 494.2h1M298 494.2h1M320 494.2h1M32 501.8h1M150 501.8h1M367 509.5h1M130 524.9h1M298 524.9h1M451 524.9h1M463 532.6h1M16 540.2h1M37 540.2h1M267 540.2h1" stroke="#4e3cac" stroke-width="7.68"/><path d="M402 309.8h1M405 309.8h1M222 317.5h1M403 317.5h1M419 317.5h1M426 317.5h1M337 325.2h1M360 325.2h1M425 325.2h1M330 332.9h1M336 332.9h1M353 332.9h1M409 332.9h1M423 332.9h1M426 332.9h1M248 340.6h1M253 340.6h1M271 340.6h1M287 340.6h1M317 340.6h1M328 340.6h1M260 348.2h1M293 348.2h1M244 355.9h1M252 355.9h1M286 355.9h1M321 355.9h1M332 355.9h1M357 355.9h1M15 363.6h1M45 363.6h1M328 363.6h1M242 371.3h1M293 371.3h1M311 371.3h1M271 379.0h1M380 379.0h1M303 386.6h1M37 394.3h1M241 394.3h1M13 402.0h1M70 402.0h1M98 409.7h1M275 409.7h1M328 409.7h1M362 409.7h1M251 417.4h1M321 417.4h1M349 417.4h1M383 417.4h1M438 417.4h1M262 432.7h1M465 432.7h1M434 440.4h1M463 440.4h1M308 448.1h1M428 448.1h1M434 448.1h1M299 455.8h1M303 455.8h1M328 455.8h1M89 463.4h1M92 463.4h1M170 463.4h1M237 463.4h1M297 463.4h1M148 471.1h1M200 478.8h1M388 486.5h1M80 494.2h1M189 494.2h1M215 494.2h1M220 494.2h1M286 494.2h1M26 501.8h1M57 501.8h1M287 501.8h1M316 501.8h1M328 501.8h1M28 509.5h1M220 509.5h1M326 509.5h1M364 509.5h1M172 524.9h1M207 524.9h1M273 524.9h1M287 524.9h1M57 532.6h1M65 532.6h1M332 532.6h1M26 540.2h1M451 540.2h1M456 540.2h1" stroke="#5844b4" stroke-width="7.68"/><path d="M191 309.8h1M325 309.8h1M401 309.8h1M403 309.8h1M424 309.8h1M428 309.8h1M431 309.8h1M312 317.5h1M375 317.5h1M438 317.5h1M54 325.2h1M77 325.2h1M303 325.2h1M305 325.2h1M332 325.2h1M254 332.9h1M312 332.9h1M334 332.9h1M345 332.9h1M391 332.9h1M414 332.9h1M245 340.6h1M247 340.6h1M297 340.6h1M318 340.6h1M344 340.6h1M350 340.6h1M368 340.6h2M401 340.6h1M427 340.6h1M282 348.2h1M344 348.2h1M366 348.2h1M375 348.2h1M388 348.2h1M444 348.2h1M456 348.2h1M270 355.9h1M308 355.9h1M351 355.9h1M354 355.9h1M73 363.6h1M242 363.6h1M305 363.6h1M190 371.3h1M260 371.3h1M312 371.3h1M357 371.3h1M169 379.0h1M191 379.0h1M244 379.0h1M296 379.0h1M338 379.0h1M371 379.0h1M379 379.0h1M438 379.0h1M270 386.6h1M330 386.6h1M350 386.6h1M344 394.3h1M15 402.0h1M280 402.0h1M371 402.0h1M282 409.7h1M357 409.7h1M450 409.7h1M172 417.4h1M261 417.4h1M329 417.4h1M338 417.4h1M362 417.4h1M378 417.4h1M265 425.0h1M344 425.0h1M357 425.0h1M367 425.0h1M371 425.0h1M15 432.7h1M72 432.7h1M278 432.7h1M289 432.7h1M297 432.7h1M363 432.7h1M466 432.7h1M244 440.4h1M249 440.4h1M286 440.4h1M291 440.4h1M376 440.4h1M262 448.1h1M284 448.1h1M309 448.1h1M366 448.1h1M441 448.1h1M446 448.1h1M467 448.1h1M263 455.8h1M317 455.8h1M372 455.8h1M375 455.8h1M113 463.4h1M157 463.4h1M396 463.4h1M425 463.4h1M125 471.1h1M156 471.1h1M163 471.1h1M181 471.1h1M194 471.1h1M212 471.1h1M287 471.1h2M391 471.1h1M448 471.1h1M139 478.8h1M146 478.8h1M177 478.8h1M205 478.8h1M322 478.8h1M440 478.8h1M456 478.8h1M74 486.5h1M120 486.5h1M65 494.2h1M108 494.2h1M288 494.2h1M325 494.2h1M183 501.8h1M329 501.8h1M333 501.8h1M377 501.8h1M18 509.5h1M113 509.5h1M371 509.5h1M451 509.5h1M226 517.2h1M34 524.9h1M256 524.9h1M286 524.9h1M442 524.9h1M288 532.6h1M12 540.2h1M71 540.2h1M327 540.2h1M332 540.2h1M368 540.2h1" stroke="#6350ba" stroke-width="7.68"/><path d="M293 309.8h1M303 309.8h1M312 309.8h1M350 309.8h1M438 309.8h2M297 317.5h1M302 317.5h1M338 317.5h1M405 317.5h1M35 325.2h1M61 325.2h1M70 325.2h1M242 325.2h1M409 325.2h1M94 332.9h1M251 332.9h1M271 332.9h1M341 332.9h1M407 332.9h1M412 332.9h1M416 332.9h1M429 332.9h1M251 340.6h1M262 340.6h1M280 340.6h1M293 340.6h2M303 340.6h1M319 340.6h1M345 340.6h1M348 340.6h1M357 340.6h1M363 340.6h1M397 340.6h1M409 340.6h1M412 340.6h1M29 348.2h1M167 348.2h1M227 348.2h1M252 348.2h1M254 348.2h1M261 348.2h2M311 348.2h1M314 348.2h2M318 348.2h1M326 348.2h1M378 348.2h1M383 348.2h1M401 348.2h1M463 348.2h1M469 348.2h1M260 355.9h1M298 355.9h1M41 363.6h1M52 363.6h1M75 363.6h1M86 363.6h1M205 363.6h1M262 363.6h1M294 363.6h1M296 363.6h1M294 371.3h1M304 371.3h2M364 371.3h1M386 371.3h1M74 379.0h1M218 379.0h1M313 379.0h1M318 379.0h1M328 379.0h1M355 379.0h1M368 379.0h1M249 386.6h1M259 386.6h1M341 386.6h1M246 394.3h1M309 394.3h1M332 394.3h1M245 402.0h1M462 402.0h1M242 417.4h1M254 417.4h1M308 417.4h1M345 417.4h1M352 417.4h1M365 417.4h1M469 417.4h1M102 425.0h1M120 425.0h1M260 432.7h1M271 432.7h1M386 432.7h1M436 432.7h1M443 432.7h1M468 432.7h1M91 440.4h1M267 440.4h1M283 440.4h1M303 440.4h1M347 440.4h1M350 440.4h1M398 440.4h1M136 448.1h1M256 448.1h1M329 448.1h1M350 448.1h1M369 448.1h1M391 448.1h1M459 448.1h1M15 455.8h1M248 455.8h1M271 455.8h1M358 455.8h1M371 455.8h1M378 455.8h1M438 455.8h1M26 463.4h1M90 463.4h1M111 463.4h1M139 463.4h1M200 463.4h1M210 463.4h1M221 463.4h1M114 471.1h1M130 471.1h1M134 471.1h1M171 471.1h1M232 471.1h1M272 471.1h1M376 471.1h1M407 471.1h1M120 478.8h1M124 478.8h2M149 478.8h1M44 486.5h1M105 486.5h1M115 486.5h1M156 486.5h1M207 486.5h1M217 486.5h1M387 486.5h1M398 486.5h1M51 494.2h1M120 494.2h1M109 501.8h1M286 501.8h1M314 501.8h1M451 501.8h1M95 509.5h1M119 509.5h1M128 509.5h1M229 509.5h1M242 509.5h1M413 509.5h1M445 509.5h1M54 517.2h1M225 517.2h1M293 517.2h1M348 517.2h1M52 524.9h1M75 524.9h1M116 524.9h1M215 524.9h1M227 524.9h1M264 524.9h1M373 524.9h1M449 524.9h1M48 532.6h1M170 532.6h1M286 532.6h1M391 532.6h1M442 532.6h1M456 532.6h1M102 540.2h1M258 540.2h1M280 540.2h1M375 540.2h1M389 540.2h1" stroke="#6e5bbf" stroke-width="7.68"/><path d="M70 309.8h1M156 309.8h1M169 309.8h1M198 309.8h1M273 309.8h1M333 309.8h1M335 309.8h1M364 309.8h1M376 309.8h1M415 309.8h1M256 317.5h1M288 317.5h1M351 317.5h1M371 317.5h1M416 317.5h1M64 325.2h1M244 325.2h1M328 325.2h1M334 325.2h1M340 325.2h1M361 325.2h1M371 325.2h1M414 325.2h1M298 332.9h1M304 332.9h1M354 332.9h1M403 332.9h1M431 332.9h1M224 340.6h1M254 340.6h1M283 340.6h1M299 340.6h1M302 340.6h1M339 340.6h1M372 340.6h1M404 340.6h1M245 348.2h1M250 348.2h1M253 348.2h1M295 348.2h1M328 348.2h1M341 348.2h1M371 348.2h1M405 348.2h1M438 348.2h1M15 355.9h1M61 355.9h1M197 355.9h1M275 355.9h1M344 355.9h1M381 355.9h1M53 363.6h1M56 363.6h1M92 363.6h1M165 363.6h1M293 363.6h1M309 363.6h1M344 363.6h1M459 363.6h1M169 371.3h1M254 371.3h1M301 371.3h1M334 371.3h1M351 371.3h1M458 371.3h1M86 379.0h1M254 379.0h1M293 379.0h1M315 379.0h1M323 379.0h1M350 379.0h1M153 386.6h1M246 386.6h1M253 386.6h1M299 386.6h1M338 386.6h1M459 386.6h1M358 394.3h1M376 394.3h1M27 402.0h1M34 402.0h1M39 402.0h1M268 402.0h1M282 402.0h1M438 402.0h1M269 409.7h1M293 409.7h1M343 409.7h1M375 409.7h1M394 409.7h1M463 409.7h1M191 417.4h1M252 417.4h1M260 417.4h1M317 417.4h1M336 417.4h1M354 417.4h1M363 417.4h1M369 417.4h2M256 425.0h1M340 425.0h1M342 425.0h1M244 432.7h1M249 432.7h1M254 432.7h1M302 432.7h2M310 432.7h1M313 432.7h1M327 432.7h1M337 432.7h1M357 432.7h1M394 432.7h1M86 440.4h1M248 440.4h1M261 440.4h1M294 440.4h1M309 440.4h1M363 440.4h1M371 440.4h1M464 440.4h1M197 448.1h1M273 448.1h1M291 448.1h1M297 448.1h1M332 448.1h1M354 448.1h1M408 448.1h1M427 448.1h1M162 455.8h1M242 455.8h1M261 455.8h1M286 455.8h1M310 455.8h1M322 455.8h1M330 455.8h1M386 455.8h1M388 455.8h1M434 455.8h1M52 463.4h1M107 463.4h1M114 463.4h1M116 463.4h1M150 463.4h1M154 463.4h2M279 463.4h1M424 463.4h1M94 471.1h1M131 471.1h1M420 471.1h1M440 471.1h1M32 478.8h1M36 478.8h1M108 478.8h1M188 478.8h1M295 478.8h1M298 478.8h1M79 486.5h1M170 486.5h1M203 486.5h1M450 486.5h2M456 486.5h1M70 494.2h1M271 494.2h1M293 494.2h1M387 494.2h1M393 494.2h1M451 494.2h1M130 501.8h1M192 501.8h1M221 501.8h1M234 501.8h1M261 501.8h1M273 501.8h1M297 501.8h1M364 501.8h1M142 509.5h1M170 509.5h1M252 509.5h1M64 517.2h1M117 517.2h1M119 517.2h1M260 517.2h1M273 517.2h2M288 517.2h1M333 517.2h1M349 517.2h1M401 517.2h1M104 524.9h1M271 524.9h1M274 524.9h1M348 524.9h1M362 524.9h1M377 524.9h1M26 532.6h1M255 532.6h1M297 532.6h1M403 532.6h1M409 532.6h1M453 532.6h1M150 540.2h1M358 540.2h1M397 540.2h1" stroke="#7966c4" stroke-width="7.68"/><path d="M53 309.8h1M187 309.8h1M197 309.8h1M260 309.8h2M299 309.8h1M302 309.8h1M340 309.8h1M354 309.8h1M367 309.8h1M381 309.8h1M398 309.8h1M418 309.8h1M423 309.8h1M429 309.8h1M205 317.5h1M290 317.5h1M325 317.5h1M391 317.5h1M402 317.5h1M413 317.5h1M415 317.5h1M65 325.2h1M85 325.2h1M159 325.2h1M310 325.2h1M343 325.2h1M402 325.2h1M417 325.2h2M427 325.2h1M56 332.9h1M61 332.9h1M244 332.9h1M274 332.9h1M286 332.9h1M315 332.9h1M376 332.9h1M408 332.9h1M419 332.9h1M466 332.9h1M98 340.6h1M277 340.6h1M307 340.6h2M327 340.6h1M402 340.6h1M405 340.6h1M415 340.6h1M458 340.6h1M462 340.6h1M159 348.2h1M211 348.2h1M222 348.2h1M241 348.2h1M246 348.2h1M265 348.2h1M270 348.2h1M283 348.2h1M299 348.2h1M327 348.2h1M349 348.2h1M358 348.2h1M369 348.2h1M393 348.2h1M439 348.2h1M218 355.9h1M241 355.9h1M249 355.9h1M271 355.9h1M289 355.9h1M310 355.9h1M345 355.9h1M365 355.9h1M10 363.6h1M21 363.6h1M38 363.6h1M55 363.6h1M62 363.6h1M94 363.6h1M191 363.6h1M235 363.6h1M261 363.6h1M286 363.6h1M311 363.6h2M343 363.6h1M387 363.6h1M250 371.3h1M299 379.0h1M309 379.0h1M335 379.0h1M362 379.0h1M189 386.6h2M252 386.6h1M277 386.6h1M307 386.6h2M334 386.6h1M453 386.6h1M8 394.3h1M63 394.3h1M244 394.3h1M252 394.3h1M299 394.3h1M328 394.3h2M333 394.3h1M357 394.3h1M66 402.0h1M260 402.0h1M274 402.0h1M303 402.0h1M355 402.0h1M391 402.0h1M403 402.0h1M409 402.0h1M442 402.0h2M304 409.7h1M371 409.7h1M15 417.4h1M268 417.4h1M271 417.4h1M309 417.4h1M360 417.4h1M375 417.4h1M380 417.4h1M420 417.4h1M427 417.4h1M466 417.4h1M63 425.0h1M151 425.0h1M193 425.0h1M254 425.0h1M277 425.0h1M290 425.0h2M308 425.0h1M334 425.0h1M391 425.0h1M450 425.0h1M466 425.0h1M381 432.7h1M391 432.7h1M393 432.7h1M416 432.7h1M459 432.7h1M153 440.4h1M270 440.4h1M327 440.4h1M394 440.4h1M409 440.4h1M416 440.4h1M431 440.4h1M440 440.4h1M264 448.1h1M328 448.1h1M333 448.1h1M392 448.1h1M405 448.1h1M451 448.1h1M455 448.1h1M327 455.8h1M334 455.8h1M347 455.8h1M85 463.4h1M94 463.4h1M117 463.4h1M131 463.4h1M133 463.4h1M149 463.4h1M165 463.4h1M183 463.4h1M195 463.4h1M401 463.4h1M117 471.1h1M139 471.1h1M158 471.1h1M172 471.1h1M188 471.1h1M218 471.1h1M229 471.1h1M339 471.1h1M344 471.1h1M368 471.1h1M51 478.8h1M107 478.8h1M206 478.8h1M258 478.8h1M291 478.8h1M340 478.8h1M9 486.5h1M31 486.5h1M130 486.5h1M418 486.5h1M13 494.2h1M115 494.2h1M147 494.2h1M153 494.2h1M156 494.2h1M163 494.2h1M182 494.2h1M192 494.2h1M28 501.8h1M65 501.8h1M145 501.8h1M311 501.8h1M400 501.8h1M17 509.5h1M117 509.5h1M218 509.5h1M361 509.5h1M399 509.5h1M435 509.5h1M34 517.2h1M59 517.2h1M91 517.2h1M156 517.2h1M178 517.2h1M271 517.2h1M287 517.2h1M377 517.2h1M442 517.2h1M20 524.9h1M26 524.9h1M150 524.9h1M178 524.9h1M182 524.9h1M323 524.9h1M347 524.9h1M426 524.9h1M14 532.6h1M69 532.6h1M98 532.6h1M156 532.6h1M217 532.6h1M306 532.6h1M363 532.6h1M377 532.6h1M379 532.6h1M401 532.6h1M464 532.6h1M29 540.2h1M46 540.2h1M159 540.2h1M287 540.2h1M300 540.2h1M348 540.2h1M380 540.2h1" stroke="#8472ca" stroke-width="7.68"/><path d="M42 309.8h1M54 309.8h1M102 309.8h1M125 309.8h1M162 309.8h1M222 309.8h1M241 309.8h1M259 309.8h1M290 309.8h1M306 309.8h1M313 309.8h1M329 309.8h1M334 309.8h1M368 309.8h1M411 309.8h1M420 309.8h1M197 317.5h1M221 317.5h1M223 317.5h1M248 317.5h1M308 317.5h2M365 317.5h1M383 317.5h1M409 317.5h2M425 317.5h1M427 317.5h1M51 325.2h1M59 325.2h1M63 325.2h1M69 325.2h1M86 325.2h1M98 325.2h1M113 325.2h1M168 325.2h1M218 325.2h1M304 325.2h1M316 325.2h1M407 325.2h1M421 325.2h1M423 325.2h1M218 332.9h1M242 332.9h1M270 332.9h1M305 332.9h1M307 332.9h1M340 332.9h1M369 332.9h1M372 332.9h1M383 332.9h1M428 332.9h1M430 332.9h1M450 332.9h1M460 332.9h1M256 340.6h1M312 340.6h1M378 340.6h1M418 340.6h1M465 340.6h1M170 348.2h1M205 348.2h1M244 348.2h1M257 348.2h1M263 348.2h2M273 348.2h1M277 348.2h1M304 348.2h1M334 348.2h1M337 348.2h1M339 348.2h1M351 348.2h1M355 348.2h1M357 348.2h1M459 348.2h2M71 355.9h1M158 355.9h1M247 355.9h1M254 355.9h1M268 355.9h1M299 355.9h1M305 355.9h1M315 355.9h1M335 355.9h1M405 355.9h1M425 355.9h1M18 363.6h1M36 363.6h1M47 363.6h1M54 363.6h1M76 363.6h1M80 363.6h1M246 363.6h1M278 363.6h1M299 363.6h1M326 363.6h1M329 363.6h1M354 363.6h1M372 363.6h1M398 363.6h1M431 363.6h1M438 363.6h1M227 371.3h1M333 371.3h1M367 371.3h1M400 371.3h1M456 371.3h1M161 379.0h1M242 379.0h1M246 379.0h1M291 379.0h2M314 379.0h1M320 379.0h1M365 379.0h1M382 379.0h1M414 379.0h1M147 386.6h1M151 386.6h1M280 386.6h1M287 386.6h1M289 386.6h1M383 386.6h1M74 394.3h1M79 394.3h1M170 394.3h1M334 394.3h1M61 402.0h1M236 402.0h1M265 402.0h1M267 402.0h1M328 402.0h1M396 402.0h1M251 409.7h1M268 409.7h1M274 409.7h1M280 409.7h1M297 409.7h1M457 409.7h1M460 409.7h1M213 417.4h1M243 417.4h1M248 417.4h1M302 417.4h1M333 417.4h1M344 417.4h1M355 417.4h1M397 417.4h1M462 417.4h1M464 417.4h1M14 425.0h1M153 425.0h1M288 425.0h2M372 425.0h1M387 425.0h1M398 425.0h1M37 432.7h1M54 432.7h1M242 432.7h1M248 432.7h1M277 432.7h1M292 432.7h1M392 432.7h1M423 432.7h1M457 432.7h2M462 432.7h1M260 440.4h1M287 440.4h1M340 440.4h1M344 440.4h2M362 440.4h1M368 440.4h1M411 440.4h1M420 440.4h1M424 440.4h1M450 440.4h1M156 448.1h1M211 448.1h1M251 448.1h1M303 448.1h1M312 448.1h1M318 448.1h1M321 448.1h1M340 448.1h1M344 448.1h1M450 448.1h1M197 455.8h1M301 455.8h1M332 455.8h1M354 455.8h1M376 455.8h1M390 455.8h1M418 455.8h1M450 455.8h1M12 463.4h1M54 463.4h1M130 463.4h1M171 463.4h1M253 463.4h1M288 463.4h1M346 463.4h1M387 463.4h1M37 471.1h1M120 471.1h1M143 471.1h1M279 471.1h1M301 471.1h1M317 471.1h1M320 471.1h1M402 471.1h1M460 471.1h1M57 478.8h1M71 478.8h1M92 478.8h1M127 478.8h1M171 478.8h1M182 478.8h1M189 478.8h1M203 478.8h1M218 478.8h1M366 478.8h1M368 478.8h1M64 486.5h1M76 486.5h1M125 486.5h1M146 486.5h1M214 486.5h1M377 486.5h1M420 486.5h1M447 486.5h1M69 494.2h1M103 494.2h1M116 494.2h1M184 494.2h1M207 494.2h1M247 494.2h1M260 494.2h1M268 494.2h1M280 494.2h1M20 501.8h1M43 501.8h1M222 501.8h1M264 501.8h1M305 501.8h1M321 501.8h1M438 501.8h1M464 501.8h1M21 509.5h1M109 509.5h1M149 509.5h1M191 509.5h1M259 509.5h1M267 509.5h1M375 509.5h1M425 509.5h1M44 517.2h1M65 517.2h1M146 517.2h1M159 517.2h1M205 517.2h1M275 517.2h1M297 517.2h1M332 517.2h1M363 517.2h1M368 517.2h1M374 517.2h1M387 517.2h1M403 517.2h1M71 524.9h1M103 524.9h1M112 524.9h1M158 524.9h1M165 524.9h1M193 524.9h1M226 524.9h1M302 524.9h1M307 524.9h1M313 524.9h1M328 524.9h2M342 524.9h1M353 524.9h1M400 524.9h1M407 524.9h1M440 524.9h1M52 532.6h1M149 532.6h1M273 532.6h1M284 532.6h1M320 532.6h1M334 532.6h1M361 532.6h1M368 532.6h1M380 532.6h1M445 532.6h1M27 540.2h1M60 540.2h1M133 540.2h1M163 540.2h1M192 540.2h1M293 540.2h1M304 540.2h1M329 540.2h1M346 540.2h1M418 540.2h1M432 540.2h1" stroke="#9383d0" stroke-width="7.68"/><path d="M16 309.8h1M36 309.8h1M58 309.8h1M120 309.8h1M172 309.8h1M209 309.8h1M224 309.8h1M248 309.8h1M251 309.8h1M305 309.8h1M308 309.8h1M348 309.8h1M361 309.8h1M365 309.8h1M383 309.8h1M417 309.8h1M463 309.8h1M153 317.5h1M194 317.5h1M241 317.5h1M244 317.5h1M251 317.5h1M261 317.5h1M282 317.5h1M294 317.5h1M314 317.5h1M319 317.5h1M326 317.5h1M333 317.5h1M336 317.5h1M340 317.5h1M368 317.5h1M428 317.5h1M430 317.5h2M28 325.2h1M53 325.2h1M60 325.2h1M92 325.2h1M152 325.2h1M191 325.2h1M195 325.2h1M293 325.2h1M299 325.2h1M309 325.2h1M369 325.2h1M412 325.2h1M438 325.2h1M465 325.2h1M197 332.9h1M222 332.9h1M248 332.9h2M291 332.9h1M297 332.9h1M306 332.9h1M316 332.9h1M344 332.9h1M348 332.9h1M355 332.9h1M380 332.9h1M386 332.9h1M425 332.9h1M131 340.6h1M164 340.6h1M290 340.6h1M296 340.6h1M300 340.6h1M325 340.6h1M329 340.6h1M376 340.6h1M403 340.6h1M443 340.6h1M463 340.6h2M107 348.2h1M218 348.2h1M267 348.2h1M271 348.2h1M278 348.2h1M285 348.2h1M294 348.2h1M313 348.2h1M353 348.2h1M362 348.2h1M365 348.2h1M395 348.2h1M414 348.2h1M441 348.2h1M70 355.9h1M102 355.9h1M195 355.9h1M214 355.9h1M256 355.9h1M302 355.9h1M311 355.9h1M340 355.9h1M369 355.9h2M376 355.9h1M434 355.9h1M458 355.9h1M40 363.6h1M42 363.6h1M44 363.6h1M48 363.6h1M289 363.6h1M298 363.6h1M325 363.6h1M349 363.6h1M361 363.6h1M425 363.6h1M436 363.6h1M439 363.6h1M443 363.6h1M73 371.3h1M75 371.3h1M243 371.3h1M246 371.3h1M309 371.3h1M376 371.3h1M398 371.3h1M416 371.3h1M420 371.3h1M459 371.3h1M11 379.0h1M27 379.0h1M168 379.0h1M260 379.0h1M264 379.0h1M325 379.0h1M329 379.0h1M334 379.0h1M356 379.0h1M378 379.0h1M387 379.0h1M420 379.0h1M22 386.6h1M187 386.6h1M222 386.6h1M247 386.6h1M260 386.6h1M290 386.6h1M300 386.6h1M311 386.6h1M315 386.6h1M348 386.6h1M15 394.3h1M100 394.3h1M192 394.3h1M250 394.3h1M285 394.3h1M342 394.3h1M356 394.3h1M371 394.3h1M22 402.0h1M56 402.0h1M86 402.0h1M244 402.0h1M297 402.0h1M309 402.0h1M312 402.0h1M321 402.0h1M344 402.0h1M411 402.0h1M441 402.0h1M48 409.7h1M109 409.7h1M260 409.7h1M349 409.7h1M358 409.7h1M380 409.7h1M393 409.7h1M400 409.7h1M446 409.7h1M455 409.7h1M7 417.4h1M73 417.4h1M290 417.4h1M296 417.4h1M326 417.4h1M332 417.4h1M356 417.4h1M361 417.4h1M368 417.4h1M391 417.4h1M411 417.4h1M440 417.4h1M53 425.0h1M262 425.0h1M282 425.0h2M321 425.0h1M394 425.0h1M222 432.7h1M243 432.7h1M251 432.7h1M261 432.7h1M273 432.7h1M275 432.7h1M309 432.7h1M341 432.7h1M398 432.7h1M406 432.7h1M412 432.7h1M434 432.7h1M441 432.7h1M241 440.4h1M254 440.4h1M259 440.4h1M268 440.4h1M271 440.4h1M284 440.4h1M293 440.4h1M315 440.4h1M334 440.4h1M356 440.4h1M397 440.4h1M407 440.4h1M433 440.4h1M444 440.4h1M466 440.4h1M469 440.4h1M102 448.1h1M292 448.1h1M296 448.1h1M302 448.1h1M304 448.1h1M323 448.1h1M335 448.1h1M338 448.1h1M346 448.1h1M374 448.1h1M383 448.1h1M400 448.1h1M224 455.8h1M254 455.8h1M270 455.8h1M278 455.8h1M280 455.8h1M291 455.8h1M315 455.8h1M329 455.8h1M338 455.8h1M341 455.8h1M361 455.8h1M460 455.8h1M466 455.8h2M25 463.4h1M106 463.4h1M115 463.4h1M142 463.4h1M144 463.4h1M173 463.4h1M175 463.4h1M178 463.4h2M181 463.4h1M194 463.4h1M219 463.4h1M286 463.4h1M448 463.4h1M123 471.1h1M150 471.1h2M192 471.1h1M215 471.1h1M256 471.1h1M323 471.1h1M374 471.1h1M432 471.1h1M20 478.8h1M24 478.8h1M73 478.8h2M85 478.8h1M95 478.8h1M131 478.8h1M147 478.8h1M169 478.8h1M227 478.8h1M242 478.8h1M252 478.8h1M264 478.8h1M267 478.8h1M307 478.8h1M327 478.8h1M332 478.8h1M373 478.8h1M375 478.8h1M389 478.8h1M401 478.8h1M21 486.5h1M48 486.5h1M52 486.5h1M103 486.5h1M113 486.5h1M211 486.5h1M298 486.5h1M368 486.5h1M430 486.5h1M468 486.5h1M45 494.2h1M100 494.2h1M152 494.2h1M315 494.2h1M376 494.2h1M415 494.2h1M48 501.8h1M69 501.8h1M71 501.8h1M76 501.8h1M114 501.8h1M127 501.8h1M153 501.8h1M178 501.8h1M217 501.8h1M256 501.8h1M280 501.8h1M345 501.8h2M372 501.8h1M460 501.8h1M120 509.5h1M167 509.5h1M181 509.5h2M288 509.5h1M325 509.5h1M354 509.5h1M401 509.5h1M427 509.5h1M14 517.2h1M62 517.2h1M72 517.2h1M128 517.2h1M153 517.2h1M236 517.2h1M270 517.2h1M300 517.2h1M307 517.2h1M375 517.2h1M393 517.2h1M451 517.2h1M459 517.2h2M79 524.9h1M94 524.9h1M105 524.9h1M163 524.9h1M181 524.9h1M190 524.9h1M205 524.9h1M217 524.9h1M258 524.9h1M266 524.9h1M296 524.9h1M319 524.9h1M332 524.9h1M447 524.9h1M456 524.9h1M20 532.6h1M56 532.6h1M95 532.6h1M105 532.6h1M324 532.6h1M362 532.6h1M375 532.6h1M451 532.6h1M18 540.2h1M43 540.2h1M57 540.2h1M228 540.2h1M233 540.2h1M241 540.2h1M386 540.2h1M438 540.2h1" stroke="#a294d6" stroke-width="7.68"/><path d="M31 309.8h1M56 309.8h1M73 309.8h1M112 309.8h1M118 309.8h1M189 309.8h2M235 309.8h1M250 309.8h1M315 309.8h2M336 309.8h1M412 309.8h1M422 309.8h1M92 317.5h1M120 317.5h1M162 317.5h1M249 317.5h1M257 317.5h1M304 317.5h1M337 317.5h1M347 317.5h1M350 317.5h1M360 317.5h2M370 317.5h1M376 317.5h1M379 317.5h1M407 317.5h2M39 325.2h1M72 325.2h2M79 325.2h1M104 325.2h1M197 325.2h1M212 325.2h1M223 325.2h1M251 325.2h1M329 325.2h1M345 325.2h1M350 325.2h1M362 325.2h1M411 325.2h1M426 325.2h1M159 332.9h1M252 332.9h1M256 332.9h1M259 332.9h2M263 332.9h1M265 332.9h1M275 332.9h1M282 332.9h1M299 332.9h1M303 332.9h1M311 332.9h1M347 332.9h1M349 332.9h1M381 332.9h1M417 332.9h1M422 332.9h1M443 332.9h1M451 332.9h1M456 332.9h1M87 340.6h1M153 340.6h1M250 340.6h1M263 340.6h1M269 340.6h1M321 340.6h1M338 340.6h1M355 340.6h1M375 340.6h1M386 340.6h1M398 340.6h1M419 340.6h1M422 340.6h1M455 340.6h1M466 340.6h1M72 348.2h1M98 348.2h1M164 348.2h1M191 348.2h1M300 348.2h1M309 348.2h1M321 348.2h1M340 348.2h1M361 348.2h1M400 348.2h1M440 348.2h1M443 348.2h1M21 355.9h1M162 355.9h1M167 355.9h1M170 355.9h1M191 355.9h1M227 355.9h1M246 355.9h1M288 355.9h1M297 355.9h1M303 355.9h1M309 355.9h1M317 355.9h1M328 355.9h1M334 355.9h1M356 355.9h1M367 355.9h1M388 355.9h1M14 363.6h1M17 363.6h1M60 363.6h1M79 363.6h1M107 363.6h1M199 363.6h1M245 363.6h1M270 363.6h1M275 363.6h1M314 363.6h1M363 363.6h1M420 363.6h1M428 363.6h1M38 371.3h1M62 371.3h1M98 371.3h1M164 371.3h1M308 371.3h1M328 371.3h1M340 371.3h1M348 371.3h1M350 371.3h1M372 371.3h1M375 371.3h1M441 371.3h1M87 379.0h1M91 379.0h1M120 379.0h1M164 379.0h1M205 379.0h1M217 379.0h1M222 379.0h1M228 379.0h1M243 379.0h1M307 379.0h1M333 379.0h1M343 379.0h1M345 379.0h1M381 379.0h1M393 379.0h1M461 379.0h1M15 386.6h1M20 386.6h1M174 386.6h1M224 386.6h1M262 386.6h1M267 386.6h1M282 386.6h1M292 386.6h1M310 386.6h1M312 386.6h1M351 386.6h1M354 386.6h1M357 386.6h1M368 386.6h1M10 394.3h1M35 394.3h1M42 394.3h2M87 394.3h1M153 394.3h1M245 394.3h1M262 394.3h1M268 394.3h1M304 394.3h1M317 394.3h1M353 394.3h1M361 394.3h1M367 394.3h1M388 394.3h1M102 402.0h1M193 402.0h1M277 402.0h1M293 402.0h1M308 402.0h1M317 402.0h1M369 402.0h1M383 402.0h1M392 402.0h1M400 402.0h1M404 402.0h1M434 402.0h1M444 402.0h1M467 402.0h1M14 409.7h1M37 409.7h1M101 409.7h1M170 409.7h1M261 409.7h1M302 409.7h1M309 409.7h1M395 409.7h1M437 409.7h2M465 409.7h1M469 409.7h1M21 417.4h1M60 417.4h1M86 417.4h1M120 417.4h1M153 417.4h1M197 417.4h1M241 417.4h1M270 417.4h1M275 417.4h1M283 417.4h1M286 417.4h1M288 417.4h1M307 417.4h1M313 417.4h1M316 417.4h1M372 417.4h1M393 417.4h2M400 417.4h1M402 417.4h1M423 417.4h1M7 425.0h1M70 425.0h1M77 425.0h1M169 425.0h1M260 425.0h1M280 425.0h1M299 425.0h1M309 425.0h1M328 425.0h1M355 425.0h1M370 425.0h1M402 425.0h1M440 425.0h1M468 425.0h1M86 432.7h1M286 432.7h1M290 432.7h1M307 432.7h1M328 432.7h1M330 432.7h1M332 432.7h1M344 432.7h1M351 432.7h1M358 432.7h1M415 432.7h1M418 432.7h1M420 432.7h1M450 432.7h1M26 440.4h1M41 440.4h1M51 440.4h1M150 440.4h1M194 440.4h1M222 440.4h1M242 440.4h1M302 440.4h1M311 440.4h1M314 440.4h1M316 440.4h1M319 440.4h1M332 440.4h1M337 440.4h1M349 440.4h1M375 440.4h1M379 440.4h1M382 440.4h1M387 440.4h1M428 440.4h3M113 448.1h1M116 448.1h1M153 448.1h1M224 448.1h1M247 448.1h1M254 448.1h1M294 448.1h1M305 448.1h1M316 448.1h1M320 448.1h1M325 448.1h1M327 448.1h1M363 448.1h1M411 448.1h1M439 448.1h1M443 448.1h1M463 448.1h1M56 455.8h1M211 455.8h2M255 455.8h1M292 455.8h1M307 455.8h1M316 455.8h1M364 455.8h1M381 455.8h1M394 455.8h1M403 455.8h1M462 455.8h1M108 463.4h1M185 463.4h1M192 463.4h1M208 463.4h1M212 463.4h1M215 463.4h1M231 463.4h3M315 463.4h2M377 463.4h1M419 463.4h1M449 463.4h1M34 471.1h1M74 471.1h1M101 471.1h1M104 471.1h1M107 471.1h1M124 471.1h1M205 471.1h1M217 471.1h1M255 471.1h1M304 471.1h1M315 471.1h1M377 471.1h1M418 471.1h1M12 478.8h1M93 478.8h1M116 478.8h1M121 478.8h2M247 478.8h1M262 478.8h1M287 478.8h1M293 478.8h1M297 478.8h1M325 478.8h1M363 478.8h1M414 478.8h1M15 486.5h1M58 486.5h1M150 486.5h1M189 486.5h1M197 486.5h1M200 486.5h1M226 486.5h1M262 486.5h1M304 486.5h1M319 486.5h1M322 486.5h1M350 486.5h2M449 486.5h1M455 486.5h1M14 494.2h1M25 494.2h1M29 494.2h1M78 494.2h1M143 494.2h1M175 494.2h1M246 494.2h1M253 494.2h1M256 494.2h1M266 494.2h1M278 494.2h1M310 494.2h1M339 494.2h1M345 494.2h1M350 494.2h1M449 494.2h1M115 501.8h1M126 501.8h1M204 501.8h1M227 501.8h1M233 501.8h1M245 501.8h1M284 501.8h1M295 501.8h1M307 501.8h1M334 501.8h1M340 501.8h1M355 501.8h1M374 501.8h1M398 501.8h1M403 501.8h1M9 509.5h1M67 509.5h1M94 509.5h1M108 509.5h1M133 509.5h1M137 509.5h1M144 509.5h1M152 509.5h2M155 509.5h1M223 509.5h1M228 509.5h1M260 509.5h1M291 509.5h1M348 509.5h1M366 509.5h1M391 509.5h3M418 509.5h1M446 509.5h1M463 509.5h1M45 517.2h1M69 517.2h1M109 517.2h1M111 517.2h1M150 517.2h1M166 517.2h1M171 517.2h1M189 517.2h1M329 517.2h1M386 517.2h1M402 517.2h1M420 517.2h1M424 517.2h1M426 517.2h1M8 524.9h1M48 524.9h1M56 524.9h1M97 524.9h1M113 524.9h1M170 524.9h2M201 524.9h1M219 524.9h1M243 524.9h1M247 524.9h1M255 524.9h1M280 524.9h1M291 524.9h1M295 524.9h1M351 524.9h1M412 524.9h1M445 524.9h1M13 532.6h1M133 532.6h1M143 532.6h1M150 532.6h1M153 532.6h1M222 532.6h1M247 532.6h1M275 532.6h1M289 532.6h1M310 532.6h1M315 532.6h1M348 532.6h1M425 532.6h1M457 532.6h1M117 540.2h1M180 540.2h1M260 540.2h1M278 540.2h1M283 540.2h1M376 540.2h1M464 540.2h1" stroke="#b2a6dd" stroke-width="7.68"/><path d="M87 309.8h1M91 309.8h1M178 309.8h1M199 309.8h1M228 309.8h2M244 309.8h2M253 309.8h1M270 309.8h1M280 309.8h1M297 309.8h2M317 309.8h1M328 309.8h1M362 309.8h1M369 309.8h1M410 309.8h1M414 309.8h1M425 309.8h1M440 309.8h1M191 317.5h1M224 317.5h1M277 317.5h1M298 317.5h1M311 317.5h1M323 317.5h1M327 317.5h1M329 317.5h1M332 317.5h1M341 317.5h1M345 317.5h1M349 317.5h1M363 317.5h1M411 317.5h1M440 317.5h1M52 325.2h1M87 325.2h1M134 325.2h1M156 325.2h1M177 325.2h1M189 325.2h1M217 325.2h1M221 325.2h2M249 325.2h1M298 325.2h1M388 325.2h1M408 325.2h1M428 325.2h1M152 332.9h1M162 332.9h1M191 332.9h1M255 332.9h1M269 332.9h1M280 332.9h1M293 332.9h1M317 332.9h2M343 332.9h1M350 332.9h1M357 332.9h1M361 332.9h1M368 332.9h1M375 332.9h1M379 332.9h1M388 332.9h1M394 332.9h1M400 332.9h1M438 332.9h1M461 332.9h1M468 332.9h1M109 340.6h1M162 340.6h1M167 340.6h1M227 340.6h1M241 340.6h1M252 340.6h1M278 340.6h1M289 340.6h1M311 340.6h1M323 340.6h1M354 340.6h1M356 340.6h1M367 340.6h1M370 340.6h2M379 340.6h1M387 340.6h1M391 340.6h1M423 340.6h1M425 340.6h1M450 340.6h1M457 340.6h1M15 348.2h1M174 348.2h1M224 348.2h1M231 348.2h1M320 348.2h1M331 348.2h1M348 348.2h1M374 348.2h1M377 348.2h1M54 355.9h2M75 355.9h1M85 355.9h1M150 355.9h1M187 355.9h1M199 355.9h1M265 355.9h1M267 355.9h1M277 355.9h1M284 355.9h1M292 355.9h1M301 355.9h1M312 355.9h1M318 355.9h1M323 355.9h1M343 355.9h1M350 355.9h1M375 355.9h1M421 355.9h1M444 355.9h1M22 363.6h1M24 363.6h1M27 363.6h3M32 363.6h1M37 363.6h1M72 363.6h1M168 363.6h1M212 363.6h1M267 363.6h1M287 363.6h1M290 363.6h1M301 363.6h2M308 363.6h1M310 363.6h1M336 363.6h3M393 363.6h1M27 371.3h1M48 371.3h1M191 371.3h1M197 371.3h1M249 371.3h1M252 371.3h1M261 371.3h1M290 371.3h1M337 371.3h1M353 371.3h2M382 371.3h1M425 371.3h1M15 379.0h1M19 379.0h1M22 379.0h1M70 379.0h1M92 379.0h1M102 379.0h1M185 379.0h1M250 379.0h1M262 379.0h1M274 379.0h1M301 379.0h1M316 379.0h2M336 379.0h1M358 379.0h1M372 379.0h1M405 379.0h1M7 386.6h1M52 386.6h1M74 386.6h1M86 386.6h2M109 386.6h1M164 386.6h1M210 386.6h1M243 386.6h1M273 386.6h1M281 386.6h1M320 386.6h1M333 386.6h1M344 386.6h1M349 386.6h1M352 386.6h1M367 386.6h1M393 386.6h1M400 386.6h1M414 386.6h1M22 394.3h1M25 394.3h1M58 394.3h1M194 394.3h1M224 394.3h1M248 394.3h1M278 394.3h1M295 394.3h1M303 394.3h1M308 394.3h1M313 394.3h1M318 394.3h1M369 394.3h1M420 394.3h1M434 394.3h1M30 402.0h1M47 402.0h1M58 402.0h1M63 402.0h2M76 402.0h1M115 402.0h1M120 402.0h1M197 402.0h1M251 402.0h1M261 402.0h1M304 402.0h1M350 402.0h1M362 402.0h1M378 402.0h1M429 402.0h1M460 402.0h1M21 409.7h2M56 409.7h1M93 409.7h1M111 409.7h1M190 409.7h1M222 409.7h1M233 409.7h1M256 409.7h1M263 409.7h1M290 409.7h1M311 409.7h1M313 409.7h1M321 409.7h1M333 409.7h1M350 409.7h1M376 409.7h1M388 409.7h1M405 409.7h1M411 409.7h2M418 409.7h1M42 417.4h1M51 417.4h1M53 417.4h1M72 417.4h1M75 417.4h1M182 417.4h1M245 417.4h1M263 417.4h1M297 417.4h1M325 417.4h1M327 417.4h1M381 417.4h1M403 417.4h1M412 417.4h1M414 417.4h1M426 417.4h1M433 417.4h1M446 417.4h1M453 417.4h1M461 417.4h1M87 425.0h1M92 425.0h1M109 425.0h1M129 425.0h1M139 425.0h1M201 425.0h1M263 425.0h1M267 425.0h2M270 425.0h1M275 425.0h2M304 425.0h1M318 425.0h1M341 425.0h1M343 425.0h1M356 425.0h1M380 425.0h1M383 425.0h1M388 425.0h1M442 425.0h1M453 425.0h1M87 432.7h1M100 432.7h1M136 432.7h1M258 432.7h1M263 432.7h1M323 432.7h1M349 432.7h1M354 432.7h1M369 432.7h1M375 432.7h1M378 432.7h1M408 432.7h1M424 432.7h1M455 432.7h1M32 440.4h1M38 440.4h1M43 440.4h1M66 440.4h1M162 440.4h1M192 440.4h1M235 440.4h1M245 440.4h1M247 440.4h1M255 440.4h1M304 440.4h1M324 440.4h1M328 440.4h2M335 440.4h1M346 440.4h1M355 440.4h1M369 440.4h1M380 440.4h1M391 440.4h1M393 440.4h1M446 440.4h1M451 440.4h1M15 448.1h1M43 448.1h1M70 448.1h1M150 448.1h1M162 448.1h1M190 448.1h1M218 448.1h1M235 448.1h2M278 448.1h1M285 448.1h1M289 448.1h1M313 448.1h1M343 448.1h1M349 448.1h1M367 448.1h1M376 448.1h1M390 448.1h1M409 448.1h1M462 448.1h1M466 448.1h1M469 448.1h1M51 455.8h1M87 455.8h1M96 455.8h1M251 455.8h1M257 455.8h1M259 455.8h1M273 455.8h1M277 455.8h1M289 455.8h1M294 455.8h1M302 455.8h1M318 455.8h1M337 455.8h1M382 455.8h1M415 455.8h1M420 455.8h1M444 455.8h1M446 455.8h1M457 455.8h1M66 463.4h1M78 463.4h1M101 463.4h1M143 463.4h1M147 463.4h1M163 463.4h1M199 463.4h1M205 463.4h1M222 463.4h1M236 463.4h1M322 463.4h1M363 463.4h1M393 463.4h1M397 463.4h1M407 463.4h2M413 463.4h1M429 463.4h1M442 463.4h1M14 471.1h1M18 471.1h1M52 471.1h1M65 471.1h1M99 471.1h1M119 471.1h1M135 471.1h1M142 471.1h1M149 471.1h1M166 471.1h1M169 471.1h1M178 471.1h1M182 471.1h1M184 471.1h1M199 471.1h1M204 471.1h1M222 471.1h1M268 471.1h1M286 471.1h1M328 471.1h1M362 471.1h1M367 471.1h1M389 471.1h1M393 471.1h1M397 471.1h1M401 471.1h1M416 471.1h1M424 471.1h1M449 471.1h1M451 471.1h1M464 471.1h1M26 478.8h1M35 478.8h1M80 478.8h1M109 478.8h1M114 478.8h1M142 478.8h1M170 478.8h1M191 478.8h2M194 478.8h1M210 478.8h1M214 478.8h1M226 478.8h1M233 478.8h1M248 478.8h1M273 478.8h1M323 478.8h1M362 478.8h1M421 478.8h1M426 478.8h1M449 478.8h1M461 478.8h1M13 486.5h1M25 486.5h1M67 486.5h1M108 486.5h1M133 486.5h1M137 486.5h1M141 486.5h1M178 486.5h1M231 486.5h1M260 486.5h1M300 486.5h1M323 486.5h1M326 486.5h1M329 486.5h1M346 486.5h1M457 486.5h1M460 486.5h1M463 486.5h1M8 494.2h1M21 494.2h1M67 494.2h1M73 494.2h1M113 494.2h1M166 494.2h1M228 494.2h1M252 494.2h1M262 494.2h1M363 494.2h1M400 494.2h1M15 501.8h1M18 501.8h1M22 501.8h1M54 501.8h1M56 501.8h1M62 501.8h1M67 501.8h1M70 501.8h1M100 501.8h1M132 501.8h1M140 501.8h1M143 501.8h1M157 501.8h1M171 501.8h1M180 501.8h2M184 501.8h1M213 501.8h1M246 501.8h1M262 501.8h1M337 501.8h1M380 501.8h1M383 501.8h1M43 509.5h1M60 509.5h1M62 509.5h1M65 509.5h1M98 509.5h1M105 509.5h1M122 509.5h1M124 509.5h1M163 509.5h1M166 509.5h1M175 509.5h1M178 509.5h1M264 509.5h1M273 509.5h1M298 509.5h1M318 509.5h1M333 509.5h1M407 509.5h1M411 509.5h1M437 509.5h1M442 509.5h1M464 509.5h1M11 517.2h1M24 517.2h1M29 517.2h1M33 517.2h1M38 517.2h2M76 517.2h1M127 517.2h1M144 517.2h1M163 517.2h1M224 517.2h1M232 517.2h1M292 517.2h1M358 517.2h1M445 517.2h1M450 517.2h1M46 524.9h1M50 524.9h1M93 524.9h1M99 524.9h1M106 524.9h1M123 524.9h1M138 524.9h1M151 524.9h1M195 524.9h1M221 524.9h1M242 524.9h1M262 524.9h1M284 524.9h1M297 524.9h1M310 524.9h1M325 524.9h1M327 524.9h1M334 524.9h1M349 524.9h1M363 524.9h2M431 524.9h1M437 524.9h1M127 532.6h1M139 532.6h1M166 532.6h1M184 532.6h1M221 532.6h1M234 532.6h1M256 532.6h1M267 532.6h2M279 532.6h1M323 532.6h1M337 532.6h1M346 532.6h1M418 532.6h1M33 540.2h1M67 540.2h1M108 540.2h1M118 540.2h1M147 540.2h1M152 540.2h1M185 540.2h1M188 540.2h2M223 540.2h1M229 540.2h1M253 540.2h1M291 540.2h1M310 540.2h1M372 540.2h1M399 540.2h1M402 540.2h1M442 540.2h1M453 540.2h1" stroke="#c2b8e4" stroke-width="7.68"/><path d="M22 309.8h1M48 309.8h2M75 309.8h1M86 309.8h1M94 309.8h1M96 309.8h1M115 309.8h1M200 309.8h2M210 309.8h1M216 309.8h2M254 309.8h1M277 309.8h1M294 309.8h1M309 309.8h1M322 309.8h1M332 309.8h1M346 309.8h1M351 309.8h1M355 309.8h2M358 309.8h1M372 309.8h1M375 309.8h1M378 309.8h1M400 309.8h1M404 309.8h1M408 309.8h1M416 309.8h1M430 309.8h1M433 309.8h1M56 317.5h1M76 317.5h1M170 317.5h1M175 317.5h1M190 317.5h1M198 317.5h2M207 317.5h2M218 317.5h1M250 317.5h1M253 317.5h1M260 317.5h1M299 317.5h1M320 317.5h1M330 317.5h1M356 317.5h2M390 317.5h1M398 317.5h1M423 317.5h1M434 317.5h1M457 317.5h1M32 325.2h1M88 325.2h1M94 325.2h1M170 325.2h1M182 325.2h1M187 325.2h1M208 325.2h1M230 325.2h1M248 325.2h1M268 325.2h1M271 325.2h1M301 325.2h1M323 325.2h1M330 325.2h2M333 325.2h1M383 325.2h1M391 325.2h1M401 325.2h1M416 325.2h1M436 325.2h1M467 325.2h1M169 332.9h1M201 332.9h1M232 332.9h1M264 332.9h1M268 332.9h1M292 332.9h1M314 332.9h1M358 332.9h1M374 332.9h1M410 332.9h1M421 332.9h1M437 332.9h1M441 332.9h1M183 340.6h1M200 340.6h1M234 340.6h1M260 340.6h1M266 340.6h1M272 340.6h1M281 340.6h1M315 340.6h1M382 340.6h1M392 340.6h1M406 340.6h1M411 340.6h1M413 340.6h1M429 340.6h1M431 340.6h1M434 340.6h1M436 340.6h1M441 340.6h2M31 348.2h1M58 348.2h1M61 348.2h1M73 348.2h1M161 348.2h1M183 348.2h1M256 348.2h1M291 348.2h2M296 348.2h1M301 348.2h2M308 348.2h1M332 348.2h1M345 348.2h1M356 348.2h1M360 348.2h1M367 348.2h1M376 348.2h1M381 348.2h1M434 348.2h1M468 348.2h1M16 355.9h1M63 355.9h1M73 355.9h1M104 355.9h1M120 355.9h1M125 355.9h1M129 355.9h1M174 355.9h1M243 355.9h1M273 355.9h1M276 355.9h1M319 355.9h1M325 355.9h1M327 355.9h1M329 355.9h1M337 355.9h1M339 355.9h1M361 355.9h1M368 355.9h1M383 355.9h1M391 355.9h1M420 355.9h1M459 355.9h1M7 363.6h1M9 363.6h1M20 363.6h1M34 363.6h1M39 363.6h1M155 363.6h1M169 363.6h1M237 363.6h1M248 363.6h1M260 363.6h1M288 363.6h1M292 363.6h1M304 363.6h1M315 363.6h1M320 363.6h1M333 363.6h1M362 363.6h1M391 363.6h1M394 363.6h1M415 363.6h1M467 363.6h1M8 371.3h1M13 371.3h1M20 371.3h2M110 371.3h1M114 371.3h1M136 371.3h1M166 371.3h1M215 371.3h1M234 371.3h2M245 371.3h1M247 371.3h1M282 371.3h1M291 371.3h1M299 371.3h1M302 371.3h1M310 371.3h1M316 371.3h2M339 371.3h1M352 371.3h1M371 371.3h1M389 371.3h1M391 371.3h1M405 371.3h1M21 379.0h1M41 379.0h1M53 379.0h1M63 379.0h1M75 379.0h1M112 379.0h1M156 379.0h1M160 379.0h1M189 379.0h1M198 379.0h1M208 379.0h1M214 379.0h1M225 379.0h1M284 379.0h1M300 379.0h1M302 379.0h1M306 379.0h1M326 379.0h1M346 379.0h1M348 379.0h1M360 379.0h2M364 379.0h1M376 379.0h1M383 379.0h1M397 379.0h1M402 379.0h1M450 379.0h1M28 386.6h1M75 386.6h1M92 386.6h1M115 386.6h1M197 386.6h1M206 386.6h1M208 386.6h2M220 386.6h1M241 386.6h1M250 386.6h1M286 386.6h1M291 386.6h1M309 386.6h1M361 386.6h1M370 386.6h1M380 386.6h1M391 386.6h1M394 386.6h1M51 394.3h1M56 394.3h1M72 394.3h1M144 394.3h1M157 394.3h1M172 394.3h1M222 394.3h1M256 394.3h1M271 394.3h1M286 394.3h1M293 394.3h1M320 394.3h1M325 394.3h1M330 394.3h1M343 394.3h1M345 394.3h1M365 394.3h1M395 394.3h1M460 394.3h1M466 394.3h2M35 402.0h1M46 402.0h1M54 402.0h1M57 402.0h1M88 402.0h1M143 402.0h1M246 402.0h1M249 402.0h2M273 402.0h1M295 402.0h1M305 402.0h1M334 402.0h1M345 402.0h1M357 402.0h1M388 402.0h1M398 402.0h1M402 402.0h1M405 402.0h1M413 402.0h1M430 402.0h1M439 402.0h1M469 402.0h1M73 409.7h1M92 409.7h1M94 409.7h1M179 409.7h1M185 409.7h1M264 409.7h1M273 409.7h1M310 409.7h1M332 409.7h1M334 409.7h1M344 409.7h1M360 409.7h1M389 409.7h1M399 409.7h1M427 409.7h1M466 409.7h1M14 417.4h1M18 417.4h1M24 417.4h1M27 417.4h1M70 417.4h1M92 417.4h1M129 417.4h1M155 417.4h1M166 417.4h1M170 417.4h1M201 417.4h1M204 417.4h1M237 417.4h1M257 417.4h1M259 417.4h1M282 417.4h1M294 417.4h1M298 417.4h1M300 417.4h1M305 417.4h1M346 417.4h1M353 417.4h1M374 417.4h1M386 417.4h1M389 417.4h1M404 417.4h1M416 417.4h1M465 417.4h1M22 425.0h1M73 425.0h1M90 425.0h1M145 425.0h1M149 425.0h1M160 425.0h1M189 425.0h1M205 425.0h1M211 425.0h1M261 425.0h1M264 425.0h1M284 425.0h1M301 425.0h1M310 425.0h3M323 425.0h1M332 425.0h1M347 425.0h1M350 425.0h1M376 425.0h1M378 425.0h1M418 425.0h1M425 425.0h1M456 425.0h2M463 425.0h1M92 432.7h1M151 432.7h1M190 432.7h1M220 432.7h1M253 432.7h1M259 432.7h1M268 432.7h1M283 432.7h1M285 432.7h1M291 432.7h1M299 432.7h1M305 432.7h1M318 432.7h1M334 432.7h1M338 432.7h1M345 432.7h1M355 432.7h1M371 432.7h1M411 432.7h1M413 432.7h1M419 432.7h1M422 432.7h1M446 432.7h1M452 432.7h1M463 432.7h1M8 440.4h1M14 440.4h1M56 440.4h1M74 440.4h1M80 440.4h1M111 440.4h1M252 440.4h1M263 440.4h1M265 440.4h1M273 440.4h1M285 440.4h1M308 440.4h1M318 440.4h1M353 440.4h1M386 440.4h1M389 440.4h1M395 440.4h1M425 440.4h1M441 440.4h2M465 440.4h1M10 448.1h1M22 448.1h1M58 448.1h1M72 448.1h1M94 448.1h1M104 448.1h1M124 448.1h1M160 448.1h1M169 448.1h1M219 448.1h1M243 448.1h1M249 448.1h1M259 448.1h1M266 448.1h1M268 448.1h1M274 448.1h1M299 448.1h1M301 448.1h1M315 448.1h1M334 448.1h1M337 448.1h1M341 448.1h1M360 448.1h1M371 448.1h1M417 448.1h1M425 448.1h1M432 448.1h2M436 448.1h1M440 448.1h1M456 448.1h1M458 448.1h1M13 455.8h1M43 455.8h1M61 455.8h3M70 455.8h1M76 455.8h1M86 455.8h1M94 455.8h1M149 455.8h1M155 455.8h1M190 455.8h1M195 455.8h1M237 455.8h1M246 455.8h1M260 455.8h1M266 455.8h1M268 455.8h1M287 455.8h1M290 455.8h1M298 455.8h1M304 455.8h1M309 455.8h1M312 455.8h1M321 455.8h1M365 455.8h1M369 455.8h1M379 455.8h1M425 455.8h1M436 455.8h1M447 455.8h1M468 455.8h1M43 463.4h1M65 463.4h1M95 463.4h1M100 463.4h1M112 463.4h1M118 463.4h1M122 463.4h1M158 463.4h1M174 463.4h1M184 463.4h1M190 463.4h1M201 463.4h1M214 463.4h1M220 463.4h1M226 463.4h1M234 463.4h1M276 463.4h1M283 463.4h1M313 463.4h1M364 463.4h1M368 463.4h1M380 463.4h1M386 463.4h1M400 463.4h1M402 463.4h1M416 463.4h1M421 463.4h1M428 463.4h1M438 463.4h1M43 471.1h1M56 471.1h1M106 471.1h1M111 471.1h1M137 471.1h1M144 471.1h1M161 471.1h1M167 471.1h1M175 471.1h1M207 471.1h1M214 471.1h1M219 471.1h1M227 471.1h1M246 471.1h1M273 471.1h1M282 471.1h1M291 471.1h1M308 471.1h1M324 471.1h1M363 471.1h1M398 471.1h1M400 471.1h1M431 471.1h1M14 478.8h1M21 478.8h1M46 478.8h1M54 478.8h1M61 478.8h1M69 478.8h1M79 478.8h1M81 478.8h1M103 478.8h1M105 478.8h1M112 478.8h1M117 478.8h1M128 478.8h1M143 478.8h1M154 478.8h1M159 478.8h1M175 478.8h1M185 478.8h2M193 478.8h1M201 478.8h1M236 478.8h1M245 478.8h1M266 478.8h1M270 478.8h1M286 478.8h1M304 478.8h1M316 478.8h1M328 478.8h1M345 478.8h2M351 478.8h1M369 478.8h1M371 478.8h1M377 478.8h1M379 478.8h1M391 478.8h1M393 478.8h1M416 478.8h1M419 478.8h1M12 486.5h1M34 486.5h1M36 486.5h1M41 486.5h1M47 486.5h1M54 486.5h1M65 486.5h1M81 486.5h1M85 486.5h1M116 486.5h1M122 486.5h1M140 486.5h1M142 486.5h1M144 486.5h1M151 486.5h1M169 486.5h1M187 486.5h1M192 486.5h1M210 486.5h1M268 486.5h1M279 486.5h1M305 486.5h1M371 486.5h1M374 486.5h1M401 486.5h1M407 486.5h2M416 486.5h1M433 486.5h1M17 494.2h1M32 494.2h1M38 494.2h2M43 494.2h1M71 494.2h1M104 494.2h1M132 494.2h1M141 494.2h1M145 494.2h1M169 494.2h1M196 494.2h1M227 494.2h1M236 494.2h1M295 494.2h1M297 494.2h1M305 494.2h1M316 494.2h1M321 494.2h1M335 494.2h1M340 494.2h1M349 494.2h1M358 494.2h1M374 494.2h2M388 494.2h1M448 494.2h1M450 494.2h1M12 501.8h1M16 501.8h1M36 501.8h2M55 501.8h1M73 501.8h1M89 501.8h1M133 501.8h1M236 501.8h1M251 501.8h1M275 501.8h1M302 501.8h1M306 501.8h1M325 501.8h1M366 501.8h1M421 501.8h1M19 509.5h1M26 509.5h1M39 509.5h1M76 509.5h1M121 509.5h1M126 509.5h1M151 509.5h1M159 509.5h1M185 509.5h1M199 509.5h1M205 509.5h1M210 509.5h1M232 509.5h1M237 509.5h1M241 509.5h1M248 509.5h1M255 509.5h1M272 509.5h1M274 509.5h1M287 509.5h1M304 509.5h1M315 509.5h1M352 509.5h1M368 509.5h1M387 509.5h1M394 509.5h1M400 509.5h1M409 509.5h1M431 509.5h1M436 509.5h1M13 517.2h1M18 517.2h1M21 517.2h1M40 517.2h1M52 517.2h1M56 517.2h1M58 517.2h1M80 517.2h1M102 517.2h1M152 517.2h1M170 517.2h1M234 517.2h1M256 517.2h1M268 517.2h1M325 517.2h1M347 517.2h1M364 517.2h1M376 517.2h1M380 517.2h1M456 517.2h1M7 524.9h1M35 524.9h1M62 524.9h1M74 524.9h1M111 524.9h1M115 524.9h1M125 524.9h1M141 524.9h1M147 524.9h1M160 524.9h1M175 524.9h1M199 524.9h1M229 524.9h1M233 524.9h1M252 524.9h1M260 524.9h1M281 524.9h1M311 524.9h1M315 524.9h1M333 524.9h1M335 524.9h1M350 524.9h1M370 524.9h1M401 524.9h1M409 524.9h1M415 524.9h1M419 524.9h1M424 524.9h1M450 524.9h1M8 532.6h1M21 532.6h1M31 532.6h1M43 532.6h1M46 532.6h1M67 532.6h1M93 532.6h2M96 532.6h1M145 532.6h1M159 532.6h1M163 532.6h1M182 532.6h1M211 532.6h2M215 532.6h1M236 532.6h1M245 532.6h1M266 532.6h1M269 532.6h1M271 532.6h1M281 532.6h3M287 532.6h1M307 532.6h1M344 532.6h1M349 532.6h1M370 532.6h1M402 532.6h1M467 532.6h1M9 540.2h1M17 540.2h1M20 540.2h2M30 540.2h1M61 540.2h1M65 540.2h1M92 540.2h1M175 540.2h1M200 540.2h1M274 540.2h1M286 540.2h1M288 540.2h1M317 540.2h1M403 540.2h1M420 540.2h1M469 540.2h1" stroke="#d0c8ea" stroke-width="7.68"/><path d="M43 309.8h1M50 309.8h1M72 309.8h1M101 309.8h1M109 309.8h1M122 309.8h1M129 309.8h1M133 309.8h1M149 309.8h1M153 309.8h1M164 309.8h1M177 309.8h1M236 309.8h1M242 309.8h1M246 309.8h1M249 309.8h1M271 309.8h1M283 309.8h1M300 309.8h1M304 309.8h1M320 309.8h1M327 309.8h1M347 309.8h1M353 309.8h1M382 309.8h1M409 309.8h1M419 309.8h1M421 309.8h1M434 309.8h1M436 309.8h1M43 317.5h1M72 317.5h1M94 317.5h1M161 317.5h1M185 317.5h1M234 317.5h1M245 317.5h1M273 317.5h3M301 317.5h1M313 317.5h1M353 317.5h1M381 317.5h2M401 317.5h1M406 317.5h1M421 317.5h1M439 317.5h1M468 317.5h1M7 325.2h2M15 325.2h1M66 325.2h1M68 325.2h1M74 325.2h1M100 325.2h1M105 325.2h1M109 325.2h1M139 325.2h1M150 325.2h1M153 325.2h1M161 325.2h1M174 325.2h1M180 325.2h1M243 325.2h1M250 325.2h1M256 325.2h1M273 325.2h1M291 325.2h1M327 325.2h1M341 325.2h1M349 325.2h1M354 325.2h1M357 325.2h1M381 325.2h1M392 325.2h1M410 325.2h1M450 325.2h1M459 325.2h1M468 325.2h1M39 332.9h1M87 332.9h1M92 332.9h1M98 332.9h1M120 332.9h1M149 332.9h1M151 332.9h1M153 332.9h1M261 332.9h1M266 332.9h2M273 332.9h1M276 332.9h2M300 332.9h1M302 332.9h1M309 332.9h1M319 332.9h1M322 332.9h2M325 332.9h1M360 332.9h1M367 332.9h1M390 332.9h1M401 332.9h1M404 332.9h1M214 340.6h1M243 340.6h1M261 340.6h1M268 340.6h1M288 340.6h1M295 340.6h1M304 340.6h1M310 340.6h1M313 340.6h1M332 340.6h3M337 340.6h1M343 340.6h1M351 340.6h3M374 340.6h1M383 340.6h1M407 340.6h1M426 340.6h1M439 340.6h1M453 340.6h1M460 340.6h1M467 340.6h1M9 348.2h1M13 348.2h1M66 348.2h1M86 348.2h2M102 348.2h1M104 348.2h1M120 348.2h1M123 348.2h1M165 348.2h1M169 348.2h1M193 348.2h1M274 348.2h2M280 348.2h2M288 348.2h1M312 348.2h1M317 348.2h1M336 348.2h1M338 348.2h1M354 348.2h1M466 348.2h1M37 355.9h1M66 355.9h1M175 355.9h1M204 355.9h1M209 355.9h1M212 355.9h1M220 355.9h1M222 355.9h1M236 355.9h1M250 355.9h1M258 355.9h2M266 355.9h1M269 355.9h1M274 355.9h1M290 355.9h1M293 355.9h1M338 355.9h1M342 355.9h1M379 355.9h1M412 355.9h1M422 355.9h1M439 355.9h2M443 355.9h1M463 355.9h1M466 355.9h4M8 363.6h1M58 363.6h2M64 363.6h2M77 363.6h1M81 363.6h1M128 363.6h1M153 363.6h1M158 363.6h1M175 363.6h1M193 363.6h1M243 363.6h1M251 363.6h1M269 363.6h1M271 363.6h3M280 363.6h1M284 363.6h1M300 363.6h1M316 363.6h1M321 363.6h1M340 363.6h1M342 363.6h1M357 363.6h1M427 363.6h1M56 371.3h1M87 371.3h1M129 371.3h1M153 371.3h1M195 371.3h1M198 371.3h1M224 371.3h1M267 371.3h1M271 371.3h1M289 371.3h1M295 371.3h1M307 371.3h1M313 371.3h1M325 371.3h1M329 371.3h1M336 371.3h1M338 371.3h1M344 371.3h2M361 371.3h1M363 371.3h1M378 371.3h2M383 371.3h1M397 371.3h1M403 371.3h1M434 371.3h1M463 371.3h1M469 371.3h1M24 379.0h1M119 379.0h1M136 379.0h1M151 379.0h1M157 379.0h2M175 379.0h1M194 379.0h1M197 379.0h1M202 379.0h1M230 379.0h1M233 379.0h1M241 379.0h1M252 379.0h1M304 379.0h2M308 379.0h1M337 379.0h1M344 379.0h1M347 379.0h1M349 379.0h1M352 379.0h1M375 379.0h1M391 379.0h1M398 379.0h1M403 379.0h1M418 379.0h1M457 379.0h1M463 379.0h1M466 379.0h1M42 386.6h1M53 386.6h2M70 386.6h2M131 386.6h1M143 386.6h1M159 386.6h1M170 386.6h1M191 386.6h1M248 386.6h1M272 386.6h1M274 386.6h1M288 386.6h1M304 386.6h1M316 386.6h1M319 386.6h1M326 386.6h1M328 386.6h1M335 386.6h1M345 386.6h2M353 386.6h1M355 386.6h1M363 386.6h1M381 386.6h1M422 386.6h1M445 386.6h1M458 386.6h1M13 394.3h2M36 394.3h1M39 394.3h1M52 394.3h1M62 394.3h1M75 394.3h1M98 394.3h1M115 394.3h1M175 394.3h1M218 394.3h1M253 394.3h1M257 394.3h1M261 394.3h1M265 394.3h1M267 394.3h1M269 394.3h1M276 394.3h1M280 394.3h1M306 394.3h1M310 394.3h1M315 394.3h1M326 394.3h1M374 394.3h1M381 394.3h1M429 394.3h1M458 394.3h2M19 402.0h1M24 402.0h1M48 402.0h1M72 402.0h1M79 402.0h1M104 402.0h1M156 402.0h1M162 402.0h1M187 402.0h1M189 402.0h1M194 402.0h1M212 402.0h1M255 402.0h1M263 402.0h1M283 402.0h1M286 402.0h1M288 402.0h1M301 402.0h1M313 402.0h1M320 402.0h1M343 402.0h1M348 402.0h1M351 402.0h2M356 402.0h1M363 402.0h1M367 402.0h1M375 402.0h1M379 402.0h2M414 402.0h2M420 402.0h1M422 402.0h1M457 402.0h1M70 409.7h1M77 409.7h1M85 409.7h1M167 409.7h1M183 409.7h1M194 409.7h1M254 409.7h2M271 409.7h1M294 409.7h1M300 409.7h1M308 409.7h1M327 409.7h1M329 409.7h2M338 409.7h1M354 409.7h1M363 409.7h1M367 409.7h1M369 409.7h1M381 409.7h1M386 409.7h1M397 409.7h2M404 409.7h1M452 409.7h1M456 409.7h1M8 417.4h1M22 417.4h1M41 417.4h1M61 417.4h1M69 417.4h1M88 417.4h1M98 417.4h1M101 417.4h1M125 417.4h1M162 417.4h1M164 417.4h1M210 417.4h2M219 417.4h1M222 417.4h1M269 417.4h1M280 417.4h1M285 417.4h1M287 417.4h1M293 417.4h1M301 417.4h1M322 417.4h1M324 417.4h1M335 417.4h1M348 417.4h1M366 417.4h1M377 417.4h1M388 417.4h1M398 417.4h1M401 417.4h1M405 417.4h3M421 417.4h1M436 417.4h1M442 417.4h1M444 417.4h1M13 425.0h1M42 425.0h1M51 425.0h1M71 425.0h1M94 425.0h2M114 425.0h1M144 425.0h1M167 425.0h1M185 425.0h1M197 425.0h1M200 425.0h1M226 425.0h1M230 425.0h1M286 425.0h1M295 425.0h1M335 425.0h1M337 425.0h1M365 425.0h1M369 425.0h1M379 425.0h1M381 425.0h1M397 425.0h1M403 425.0h1M424 425.0h1M427 425.0h1M432 425.0h1M444 425.0h1M459 425.0h1M62 432.7h1M71 432.7h1M94 432.7h1M163 432.7h1M170 432.7h1M205 432.7h1M218 432.7h1M235 432.7h1M245 432.7h1M256 432.7h1M280 432.7h2M304 432.7h1M306 432.7h1M320 432.7h2M325 432.7h1M340 432.7h1M356 432.7h1M360 432.7h1M374 432.7h1M376 432.7h1M389 432.7h1M395 432.7h1M426 432.7h1M428 432.7h1M433 432.7h1M444 432.7h1M454 432.7h1M469 432.7h1M35 440.4h1M61 440.4h1M85 440.4h1M93 440.4h1M140 440.4h1M164 440.4h1M253 440.4h1M269 440.4h1M272 440.4h1M277 440.4h2M280 440.4h1M289 440.4h1M296 440.4h1M310 440.4h1M312 440.4h1M333 440.4h1M336 440.4h1M343 440.4h1M354 440.4h1M361 440.4h1M364 440.4h1M390 440.4h1M402 440.4h2M405 440.4h1M419 440.4h1M422 440.4h1M432 440.4h1M443 440.4h1M453 440.4h1M457 440.4h1M27 448.1h1M38 448.1h1M54 448.1h1M56 448.1h1M61 448.1h1M75 448.1h1M144 448.1h1M159 448.1h1M168 448.1h1M189 448.1h1M196 448.1h1M205 448.1h1M222 448.1h1M246 448.1h1M248 448.1h1M258 448.1h1M271 448.1h1M276 448.1h1M306 448.1h1M310 448.1h1M326 448.1h1M330 448.1h1M339 448.1h1M351 448.1h1M353 448.1h1M358 448.1h1M361 448.1h2M378 448.1h1M387 448.1h1M397 448.1h2M415 448.1h1M419 448.1h2M444 448.1h1M452 448.1h1M73 455.8h1M111 455.8h1M128 455.8h1M153 455.8h1M160 455.8h1M222 455.8h1M233 455.8h1M245 455.8h1M262 455.8h1M265 455.8h1M269 455.8h1M274 455.8h1M297 455.8h1M320 455.8h1M326 455.8h1M333 455.8h1M345 455.8h1M349 455.8h3M363 455.8h1M383 455.8h1M389 455.8h1M395 455.8h1M402 455.8h1M411 455.8h1M426 455.8h1M442 455.8h1M452 455.8h1M459 455.8h1M14 463.4h1M24 463.4h1M31 463.4h1M45 463.4h1M93 463.4h1M99 463.4h1M125 463.4h1M140 463.4h1M168 463.4h1M186 463.4h1M191 463.4h1M198 463.4h1M227 463.4h1M229 463.4h1M235 463.4h1M334 463.4h1M336 463.4h1M382 463.4h1M395 463.4h1M409 463.4h1M435 463.4h1M453 463.4h4M47 471.1h1M54 471.1h1M80 471.1h1M87 471.1h1M102 471.1h1M115 471.1h1M128 471.1h2M132 471.1h2M146 471.1h1M157 471.1h1M179 471.1h1M183 471.1h1M186 471.1h1M189 471.1h1M195 471.1h1M221 471.1h1M233 471.1h1M250 471.1h1M318 471.1h1M364 471.1h1M366 471.1h1M371 471.1h1M380 471.1h1M387 471.1h1M392 471.1h1M399 471.1h1M405 471.1h1M409 471.1h2M413 471.1h1M419 471.1h1M421 471.1h1M38 478.8h1M77 478.8h1M86 478.8h1M88 478.8h1M135 478.8h1M138 478.8h1M148 478.8h1M156 478.8h1M167 478.8h1M172 478.8h1M221 478.8h2M228 478.8h1M244 478.8h1M246 478.8h1M260 478.8h1M272 478.8h1M277 478.8h1M309 478.8h1M319 478.8h1M335 478.8h1M349 478.8h1M355 478.8h2M360 478.8h1M374 478.8h1M380 478.8h1M432 478.8h1M451 478.8h1M462 478.8h1M18 486.5h1M27 486.5h1M96 486.5h1M112 486.5h1M129 486.5h1M149 486.5h1M171 486.5h1M176 486.5h1M193 486.5h1M218 486.5h1M230 486.5h1M236 486.5h1M242 486.5h1M256 486.5h1M269 486.5h1M273 486.5h1M309 486.5h1M321 486.5h1M333 486.5h1M345 486.5h1M347 486.5h2M376 486.5h1M380 486.5h1M390 486.5h1M393 486.5h1M403 486.5h1M426 486.5h1M434 486.5h1M444 486.5h1M448 486.5h1M462 486.5h1M7 494.2h1M26 494.2h1M30 494.2h1M50 494.2h1M52 494.2h1M58 494.2h1M122 494.2h1M154 494.2h1M157 494.2h1M218 494.2h1M229 494.2h2M251 494.2h1M261 494.2h1M264 494.2h1M274 494.2h1M291 494.2h1M299 494.2h2M327 494.2h1M333 494.2h1M336 494.2h1M352 494.2h1M356 494.2h1M364 494.2h2M368 494.2h1M391 494.2h1M394 494.2h1M401 494.2h2M413 494.2h1M427 494.2h1M453 494.2h1M14 501.8h1M39 501.8h1M47 501.8h1M49 501.8h1M53 501.8h1M185 501.8h1M215 501.8h1M223 501.8h1M226 501.8h1M228 501.8h2M232 501.8h1M241 501.8h1M247 501.8h1M255 501.8h1M260 501.8h1M267 501.8h1M315 501.8h1M341 501.8h1M348 501.8h1M351 501.8h1M360 501.8h1M387 501.8h1M389 501.8h1M393 501.8h1M407 501.8h1M409 501.8h1M415 501.8h1M429 501.8h1M435 501.8h1M445 501.8h1M461 501.8h1M13 509.5h1M25 509.5h1M51 509.5h1M64 509.5h1M92 509.5h1M96 509.5h1M107 509.5h1M111 509.5h1M132 509.5h1M147 509.5h1M192 509.5h1M208 509.5h1M214 509.5h1M236 509.5h1M271 509.5h1M281 509.5h1M305 509.5h1M307 509.5h1M317 509.5h1M321 509.5h1M323 509.5h1M329 509.5h1M376 509.5h1M419 509.5h1M429 509.5h2M438 509.5h1M440 509.5h1M17 517.2h1M37 517.2h1M42 517.2h1M55 517.2h1M61 517.2h1M67 517.2h1M75 517.2h1M79 517.2h1M116 517.2h1M126 517.2h1M157 517.2h1M173 517.2h1M179 517.2h1M183 517.2h1M193 517.2h1M214 517.2h1M217 517.2h1M251 517.2h1M272 517.2h1M286 517.2h1M289 517.2h1M305 517.2h1M313 517.2h1M320 517.2h1M328 517.2h1M366 517.2h1M391 517.2h1M452 517.2h1M45 524.9h1M60 524.9h1M64 524.9h1M76 524.9h1M107 524.9h1M120 524.9h1M133 524.9h1M152 524.9h1M161 524.9h1M177 524.9h1M184 524.9h1M189 524.9h1M192 524.9h1M197 524.9h2M208 524.9h1M210 524.9h1M245 524.9h1M275 524.9h1M304 524.9h2M314 524.9h1M316 524.9h1M320 524.9h2M324 524.9h1M337 524.9h1M346 524.9h1M376 524.9h1M383 524.9h1M386 524.9h1M389 524.9h1M402 524.9h1M453 524.9h1M460 524.9h1M7 532.6h1M24 532.6h1M37 532.6h2M44 532.6h1M62 532.6h1M68 532.6h1M73 532.6h2M79 532.6h1M147 532.6h1M173 532.6h1M187 532.6h1M195 532.6h1M206 532.6h1M226 532.6h1M231 532.6h1M260 532.6h3M317 532.6h1M341 532.6h1M357 532.6h1M366 532.6h1M397 532.6h1M416 532.6h1M468 532.6h1M32 540.2h1M51 540.2h1M55 540.2h1M66 540.2h1M176 540.2h1M199 540.2h1M217 540.2h1M219 540.2h1M256 540.2h1M266 540.2h1M270 540.2h1M298 540.2h1M302 540.2h1M308 540.2h1M311 540.2h1M353 540.2h1M363 540.2h1M371 540.2h1M448 540.2h2" stroke="#ded8f0" stroke-width="7.68"/><path d="M9 309.8h1M37 309.8h1M45 309.8h2M59 309.8h1M61 309.8h2M64 309.8h1M78 309.8h1M88 309.8h1M104 309.8h1M108 309.8h1M117 309.8h1M119 309.8h1M126 309.8h1M166 309.8h3M170 309.8h1M176 309.8h1M185 309.8h1M192 309.8h1M212 309.8h1M220 309.8h2M231 309.8h2M252 309.8h1M256 309.8h1M263 309.8h1M265 309.8h1M287 309.8h1M314 309.8h1M326 309.8h1M345 309.8h1M359 309.8h2M370 309.8h1M380 309.8h1M389 309.8h1M427 309.8h1M441 309.8h1M444 309.8h1M452 309.8h1M456 309.8h1M86 317.5h2M102 317.5h1M104 317.5h1M112 317.5h1M117 317.5h1M149 317.5h1M167 317.5h1M169 317.5h1M195 317.5h1M215 317.5h1M243 317.5h1M246 317.5h1M254 317.5h2M268 317.5h1M271 317.5h1M285 317.5h1M291 317.5h1M306 317.5h1M316 317.5h1M318 317.5h1M321 317.5h1M334 317.5h2M339 317.5h1M366 317.5h2M372 317.5h1M380 317.5h1M394 317.5h1M400 317.5h1M412 317.5h1M424 317.5h1M429 317.5h1M443 317.5h1M453 317.5h1M458 317.5h1M14 325.2h1M40 325.2h1M67 325.2h1M71 325.2h1M78 325.2h1M80 325.2h1M102 325.2h1M120 325.2h1M126 325.2h1M143 325.2h1M164 325.2h1M167 325.2h1M190 325.2h1M193 325.2h1M199 325.2h1M207 325.2h1M224 325.2h1M227 325.2h1M229 325.2h1M245 325.2h1M259 325.2h1M265 325.2h1M288 325.2h1M294 325.2h1M302 325.2h1M315 325.2h1M320 325.2h1M342 325.2h1M344 325.2h1M346 325.2h1M351 325.2h1M359 325.2h1M365 325.2h1M372 325.2h1M376 325.2h1M387 325.2h1M413 325.2h1M419 325.2h2M422 325.2h1M430 325.2h2M434 325.2h1M456 325.2h1M37 332.9h1M52 332.9h1M60 332.9h1M71 332.9h1M79 332.9h1M115 332.9h1M182 332.9h2M185 332.9h1M189 332.9h1M208 332.9h1M226 332.9h1M241 332.9h1M246 332.9h1M262 332.9h1M278 332.9h1M294 332.9h1M333 332.9h1M352 332.9h1M364 332.9h1M393 332.9h1M398 332.9h1M413 332.9h1M439 332.9h1M457 332.9h1M459 332.9h1M465 332.9h1M469 332.9h1M12 340.6h1M17 340.6h1M22 340.6h1M53 340.6h1M86 340.6h1M92 340.6h1M107 340.6h1M113 340.6h1M116 340.6h1M174 340.6h1M177 340.6h1M203 340.6h1M208 340.6h1M218 340.6h1M265 340.6h1M273 340.6h2M279 340.6h1M284 340.6h1M301 340.6h1M305 340.6h1M330 340.6h2M335 340.6h1M340 340.6h1M347 340.6h1M359 340.6h2M388 340.6h1M440 340.6h1M444 340.6h1M446 340.6h1M469 340.6h1M27 348.2h1M56 348.2h1M63 348.2h1M74 348.2h1M94 348.2h1M111 348.2h1M115 348.2h1M129 348.2h1M151 348.2h1M181 348.2h1M194 348.2h1M199 348.2h1M203 348.2h1M215 348.2h1M234 348.2h1M243 348.2h1M266 348.2h1M269 348.2h1M279 348.2h1M284 348.2h1M298 348.2h1M305 348.2h1M307 348.2h1M316 348.2h1M322 348.2h1M342 348.2h2M363 348.2h2M398 348.2h1M403 348.2h1M407 348.2h1M411 348.2h1M423 348.2h1M428 348.2h1M445 348.2h1M450 348.2h1M458 348.2h1M18 355.9h1M22 355.9h1M58 355.9h1M72 355.9h1M93 355.9h1M109 355.9h1M115 355.9h1M145 355.9h1M154 355.9h1M160 355.9h1M182 355.9h1M189 355.9h1M225 355.9h1M230 355.9h1M253 355.9h1M261 355.9h1M263 355.9h1M280 355.9h1M283 355.9h1M285 355.9h1M300 355.9h1M304 355.9h1M326 355.9h1M331 355.9h1M359 355.9h2M397 355.9h1M409 355.9h1M418 355.9h1M428 355.9h1M451 355.9h1M460 355.9h2M19 363.6h1M100 363.6h1M102 363.6h1M133 363.6h1M156 363.6h1M159 363.6h1M190 363.6h1M204 363.6h1M214 363.6h1M224 363.6h1M232 363.6h1M247 363.6h1M250 363.6h1M257 363.6h1M263 363.6h1M277 363.6h1M283 363.6h1M295 363.6h1M313 363.6h1M327 363.6h1M334 363.6h1M352 363.6h1M356 363.6h1M360 363.6h1M364 363.6h1M367 363.6h1M377 363.6h1M380 363.6h2M383 363.6h1M399 363.6h2M411 363.6h1M429 363.6h1M440 363.6h1M31 371.3h1M54 371.3h1M63 371.3h1M86 371.3h1M94 371.3h1M105 371.3h1M112 371.3h2M158 371.3h1M170 371.3h1M175 371.3h1M192 371.3h1M210 371.3h1M218 371.3h1M241 371.3h1M257 371.3h1M283 371.3h1M292 371.3h1M314 371.3h1M320 371.3h1M327 371.3h1M335 371.3h1M341 371.3h1M362 371.3h1M373 371.3h2M377 371.3h1M380 371.3h1M393 371.3h2M411 371.3h1M433 371.3h1M442 371.3h1M444 371.3h1M451 371.3h1M454 371.3h1M460 371.3h2M31 379.0h1M42 379.0h1M45 379.0h1M52 379.0h1M54 379.0h1M73 379.0h1M99 379.0h1M104 379.0h1M110 379.0h1M115 379.0h1M159 379.0h1M165 379.0h1M203 379.0h1M209 379.0h2M212 379.0h1M231 379.0h1M273 379.0h1M294 379.0h1M310 379.0h1M319 379.0h1M342 379.0h1M353 379.0h2M369 379.0h1M374 379.0h1M425 379.0h1M434 379.0h1M436 379.0h1M469 379.0h1M17 386.6h1M33 386.6h1M56 386.6h1M61 386.6h1M63 386.6h1M72 386.6h2M76 386.6h1M85 386.6h1M100 386.6h1M110 386.6h1M136 386.6h1M140 386.6h1M199 386.6h1M215 386.6h1M234 386.6h1M245 386.6h1M254 386.6h1M263 386.6h1M276 386.6h1M278 386.6h1M293 386.6h2M296 386.6h1M298 386.6h1M314 386.6h1M323 386.6h1M325 386.6h1M331 386.6h1M343 386.6h1M347 386.6h1M356 386.6h1M378 386.6h1M392 386.6h1M397 386.6h2M423 386.6h1M425 386.6h1M438 386.6h1M443 386.6h1M462 386.6h1M464 386.6h1M468 386.6h1M20 394.3h1M27 394.3h2M33 394.3h1M53 394.3h1M61 394.3h1M71 394.3h1M80 394.3h1M85 394.3h1M160 394.3h1M189 394.3h1M243 394.3h1M260 394.3h1M264 394.3h1M275 394.3h1M290 394.3h2M298 394.3h1M338 394.3h1M348 394.3h1M355 394.3h1M360 394.3h1M372 394.3h1M379 394.3h1M400 394.3h1M403 394.3h1M414 394.3h1M437 394.3h1M463 394.3h1M8 402.0h1M23 402.0h1M29 402.0h1M31 402.0h1M37 402.0h1M40 402.0h1M59 402.0h1M116 402.0h1M174 402.0h1M195 402.0h1M256 402.0h2M271 402.0h1M289 402.0h2M298 402.0h2M307 402.0h1M311 402.0h1M316 402.0h1M326 402.0h2M340 402.0h2M353 402.0h1M361 402.0h1M377 402.0h1M389 402.0h1M431 402.0h1M449 402.0h1M451 402.0h1M456 402.0h1M464 402.0h1M466 402.0h1M15 409.7h1M24 409.7h1M36 409.7h1M60 409.7h2M63 409.7h1M71 409.7h1M86 409.7h1M112 409.7h1M151 409.7h1M169 409.7h1M175 409.7h1M200 409.7h1M218 409.7h1M258 409.7h1M262 409.7h1M267 409.7h1M287 409.7h1M292 409.7h1M314 409.7h1M340 409.7h1M345 409.7h1M355 409.7h1M365 409.7h1M403 409.7h1M416 409.7h1M443 409.7h1M462 409.7h1M13 417.4h1M26 417.4h1M38 417.4h1M63 417.4h1M87 417.4h1M93 417.4h1M165 417.4h1M167 417.4h1M189 417.4h2M247 417.4h1M249 417.4h1M289 417.4h1M304 417.4h1M310 417.4h1M339 417.4h1M343 417.4h1M364 417.4h1M387 417.4h1M392 417.4h1M408 417.4h1M422 417.4h1M428 417.4h1M430 417.4h1M447 417.4h1M451 417.4h1M458 417.4h1M460 417.4h1M467 417.4h1M35 425.0h2M52 425.0h1M76 425.0h1M80 425.0h1M93 425.0h1M98 425.0h1M117 425.0h1M123 425.0h1M141 425.0h1M150 425.0h1M162 425.0h1M165 425.0h1M187 425.0h1M192 425.0h1M218 425.0h2M224 425.0h2M234 425.0h3M249 425.0h1M251 425.0h1M287 425.0h1M293 425.0h1M306 425.0h1M315 425.0h1M331 425.0h1M364 425.0h1M374 425.0h1M393 425.0h1M411 425.0h1M414 425.0h2M422 425.0h1M438 425.0h1M443 425.0h1M449 425.0h1M460 425.0h1M462 425.0h1M10 432.7h1M20 432.7h1M47 432.7h1M51 432.7h1M61 432.7h1M74 432.7h1M146 432.7h1M168 432.7h1M197 432.7h2M255 432.7h1M267 432.7h1M294 432.7h2M311 432.7h1M315 432.7h1M317 432.7h1M346 432.7h1M348 432.7h1M353 432.7h1M370 432.7h1M373 432.7h1M403 432.7h1M405 432.7h1M437 432.7h3M456 432.7h1M27 440.4h1M54 440.4h1M70 440.4h1M92 440.4h1M104 440.4h1M141 440.4h1M158 440.4h2M167 440.4h1M177 440.4h1M220 440.4h1M224 440.4h1M243 440.4h1M246 440.4h1M266 440.4h1M274 440.4h1M279 440.4h1M288 440.4h1M292 440.4h1M299 440.4h1M317 440.4h1M321 440.4h1M331 440.4h1M338 440.4h1M341 440.4h1M358 440.4h1M366 440.4h1M372 440.4h1M374 440.4h1M399 440.4h1M406 440.4h1M415 440.4h1M418 440.4h1M439 440.4h1M462 440.4h1M9 448.1h1M17 448.1h1M53 448.1h1M73 448.1h1M76 448.1h1M85 448.1h2M135 448.1h1M185 448.1h1M198 448.1h1M202 448.1h1M207 448.1h1M257 448.1h1M265 448.1h1M267 448.1h1M269 448.1h1M275 448.1h1M277 448.1h1M295 448.1h1M314 448.1h1M356 448.1h1M372 448.1h1M389 448.1h1M402 448.1h1M414 448.1h1M423 448.1h1M461 448.1h1M465 448.1h1M21 455.8h1M34 455.8h2M71 455.8h1M129 455.8h1M134 455.8h1M158 455.8h1M164 455.8h1M174 455.8h1M191 455.8h1M201 455.8h1M218 455.8h1M244 455.8h1M249 455.8h1M267 455.8h1M275 455.8h2M283 455.8h2M293 455.8h1M300 455.8h1M306 455.8h1M308 455.8h1M313 455.8h2M323 455.8h1M336 455.8h1M356 455.8h1M359 455.8h1M377 455.8h1M380 455.8h1M391 455.8h1M398 455.8h1M400 455.8h1M405 455.8h1M412 455.8h2M424 455.8h1M437 455.8h1M439 455.8h1M441 455.8h1M443 455.8h1M451 455.8h1M463 455.8h1M465 455.8h1M71 463.4h1M86 463.4h1M96 463.4h1M102 463.4h1M110 463.4h1M128 463.4h2M136 463.4h1M141 463.4h1M145 463.4h1M161 463.4h1M180 463.4h1M189 463.4h1M193 463.4h1M224 463.4h1M262 463.4h1M267 463.4h1M287 463.4h1M321 463.4h1M328 463.4h1M390 463.4h1M403 463.4h1M426 463.4h1M431 463.4h1M452 463.4h1M460 463.4h1M466 463.4h1M25 471.1h1M28 471.1h1M64 471.1h1M67 471.1h1M91 471.1h1M103 471.1h1M110 471.1h1M153 471.1h1M173 471.1h1M176 471.1h2M193 471.1h1M197 471.1h1M201 471.1h1M203 471.1h1M211 471.1h1M236 471.1h1M245 471.1h1M247 471.1h1M252 471.1h2M257 471.1h2M260 471.1h1M270 471.1h2M293 471.1h1M295 471.1h1M297 471.1h1M307 471.1h1M316 471.1h1M325 471.1h1M331 471.1h1M337 471.1h1M346 471.1h1M348 471.1h1M378 471.1h1M414 471.1h1M437 471.1h1M442 471.1h1M456 471.1h1M461 471.1h1M467 471.1h2M28 478.8h1M43 478.8h2M50 478.8h1M64 478.8h1M91 478.8h1M123 478.8h1M137 478.8h1M178 478.8h1M180 478.8h1M212 478.8h1M229 478.8h1M237 478.8h1M253 478.8h1M256 478.8h1M268 478.8h1M274 478.8h1M338 478.8h1M353 478.8h1M435 478.8h1M447 478.8h2M464 478.8h1M26 486.5h1M33 486.5h1M43 486.5h1M51 486.5h1M59 486.5h1M68 486.5h1M93 486.5h1M106 486.5h2M131 486.5h2M152 486.5h1M182 486.5h4M188 486.5h1M194 486.5h1M205 486.5h1M232 486.5h2M261 486.5h1M267 486.5h1M275 486.5h1M280 486.5h1M287 486.5h2M310 486.5h1M325 486.5h1M332 486.5h1M337 486.5h1M344 486.5h1M375 486.5h1M389 486.5h1M399 486.5h1M414 486.5h1M419 486.5h1M421 486.5h1M423 486.5h1M435 486.5h1M438 486.5h1M464 486.5h1M467 486.5h1M9 494.2h1M12 494.2h1M44 494.2h1M48 494.2h1M68 494.2h1M79 494.2h1M99 494.2h1M105 494.2h1M110 494.2h1M112 494.2h1M117 494.2h2M121 494.2h1M142 494.2h1M168 494.2h1M179 494.2h1M181 494.2h1M203 494.2h1M205 494.2h1M214 494.2h1M221 494.2h1M225 494.2h2M231 494.2h1M245 494.2h1M285 494.2h1M303 494.2h1M311 494.2h1M319 494.2h1M323 494.2h1M342 494.2h1M344 494.2h1M348 494.2h1M367 494.2h1M373 494.2h1M383 494.2h1M392 494.2h1M397 494.2h1M407 494.2h1M431 494.2h1M439 494.2h1M442 494.2h1M459 494.2h1M467 494.2h1M11 501.8h1M52 501.8h1M72 501.8h1M106 501.8h1M116 501.8h1M119 501.8h1M128 501.8h1M137 501.8h1M146 501.8h1M149 501.8h1M152 501.8h1M158 501.8h1M166 501.8h1M176 501.8h2M200 501.8h1M211 501.8h1M250 501.8h1M258 501.8h1M269 501.8h1M282 501.8h2M288 501.8h1M308 501.8h1M339 501.8h1M344 501.8h1M368 501.8h1M371 501.8h1M376 501.8h1M392 501.8h1M426 501.8h1M449 501.8h2M459 501.8h1M465 501.8h1M16 509.5h1M49 509.5h1M52 509.5h1M61 509.5h1M72 509.5h1M101 509.5h1M123 509.5h1M127 509.5h1M131 509.5h1M140 509.5h1M143 509.5h1M158 509.5h1M179 509.5h1M200 509.5h1M204 509.5h1M216 509.5h1M234 509.5h1M247 509.5h1M254 509.5h1M268 509.5h1M276 509.5h2M286 509.5h1M293 509.5h1M319 509.5h2M322 509.5h1M339 509.5h1M342 509.5h1M346 509.5h1M349 509.5h1M362 509.5h1M370 509.5h1M377 509.5h1M386 509.5h1M448 509.5h1M450 509.5h1M8 517.2h2M27 517.2h1M47 517.2h1M51 517.2h1M93 517.2h1M96 517.2h1M104 517.2h2M131 517.2h2M142 517.2h1M148 517.2h1M158 517.2h1M164 517.2h1M176 517.2h1M182 517.2h1M200 517.2h1M206 517.2h1M220 517.2h1M227 517.2h1M235 517.2h1M252 517.2h1M261 517.2h1M280 517.2h1M296 517.2h1M310 517.2h1M317 517.2h2M326 517.2h2M338 517.2h1M345 517.2h1M350 517.2h2M353 517.2h2M372 517.2h1M411 517.2h1M421 517.2h1M423 517.2h1M438 517.2h1M454 517.2h1M468 517.2h1M24 524.9h1M27 524.9h1M31 524.9h1M43 524.9h1M51 524.9h1M65 524.9h1M69 524.9h1M98 524.9h1M100 524.9h1M102 524.9h1M108 524.9h1M129 524.9h1M139 524.9h1M146 524.9h1M148 524.9h1M156 524.9h1M159 524.9h1M166 524.9h1M168 524.9h1M185 524.9h1M200 524.9h1M241 524.9h1M246 524.9h1M251 524.9h1M253 524.9h1M267 524.9h1M269 524.9h2M272 524.9h1M293 524.9h1M309 524.9h1M317 524.9h1M339 524.9h1M344 524.9h1M358 524.9h1M413 524.9h1M421 524.9h1M438 524.9h1M452 524.9h1M461 524.9h1M468 524.9h1M12 532.6h1M18 532.6h1M108 532.6h1M117 532.6h1M141 532.6h1M152 532.6h1M165 532.6h1M194 532.6h1M200 532.6h1M218 532.6h1M224 532.6h1M227 532.6h2M232 532.6h1M253 532.6h1M258 532.6h1M272 532.6h1M298 532.6h1M311 532.6h1M328 532.6h1M339 532.6h1M345 532.6h1M350 532.6h1M372 532.6h1M374 532.6h1M392 532.6h1M396 532.6h1M421 532.6h3M427 532.6h1M436 532.6h1M460 532.6h1M7 540.2h2M14 540.2h1M23 540.2h1M39 540.2h1M42 540.2h1M49 540.2h1M54 540.2h1M80 540.2h1M94 540.2h1M96 540.2h1M104 540.2h1M106 540.2h1M111 540.2h1M113 540.2h1M127 540.2h1M129 540.2h2M146 540.2h1M153 540.2h1M156 540.2h1M162 540.2h1M167 540.2h1M183 540.2h1M207 540.2h1M244 540.2h1M249 540.2h1M277 540.2h1M290 540.2h1M292 540.2h1M299 540.2h1M319 540.2h1M323 540.2h3M331 540.2h1M334 540.2h1M339 540.2h1M341 540.2h1M344 540.2h1M351 540.2h1M364 540.2h1M366 540.2h1M395 540.2h1M409 540.2h1M413 540.2h1M416 540.2h1M419 540.2h1M450 540.2h1M459 540.2h1M461 540.2h1" stroke="#ece7f3" stroke-width="7.68"/><path d="M7 309.8h1M15 309.8h1M19 309.8h1M21 309.8h1M25 309.8h2M32 309.8h1M35 309.8h1M65 309.8h1M79 309.8h1M81 309.8h1M95 309.8h1M98 309.8h1M110 309.8h1M121 309.8h1M123 309.8h1M128 309.8h1M134 309.8h2M139 309.8h1M141 309.8h1M143 309.8h1M160 309.8h1M163 309.8h1M165 309.8h1M175 309.8h1M184 309.8h1M203 309.8h1M208 309.8h1M213 309.8h2M226 309.8h2M234 309.8h1M237 309.8h1M243 309.8h1M255 309.8h1M258 309.8h1M262 309.8h1M274 309.8h1M301 309.8h1M307 309.8h1M318 309.8h1M323 309.8h1M330 309.8h1M337 309.8h1M339 309.8h1M342 309.8h1M349 309.8h1M374 309.8h1M379 309.8h1M387 309.8h2M406 309.8h1M413 309.8h1M432 309.8h1M437 309.8h1M443 309.8h1M450 309.8h2M461 309.8h2M467 309.8h1M28 317.5h1M45 317.5h1M52 317.5h1M58 317.5h1M60 317.5h1M63 317.5h1M90 317.5h1M115 317.5h1M118 317.5h1M129 317.5h1M143 317.5h1M151 317.5h1M154 317.5h1M158 317.5h1M166 317.5h1M168 317.5h1M174 317.5h1M177 317.5h1M179 317.5h1M200 317.5h1M210 317.5h2M214 317.5h1M229 317.5h1M235 317.5h1M258 317.5h2M269 317.5h1M289 317.5h1M292 317.5h1M307 317.5h1M310 317.5h1M328 317.5h1M342 317.5h1M348 317.5h1M352 317.5h1M354 317.5h2M358 317.5h1M362 317.5h1M378 317.5h1M387 317.5h2M417 317.5h2M444 317.5h1M460 317.5h1M465 317.5h3M22 325.2h1M25 325.2h3M37 325.2h1M42 325.2h1M55 325.2h1M76 325.2h1M99 325.2h1M112 325.2h1M121 325.2h1M140 325.2h1M149 325.2h1M160 325.2h1M162 325.2h1M165 325.2h2M175 325.2h1M179 325.2h1M183 325.2h1M185 325.2h1M204 325.2h2M210 325.2h1M214 325.2h2M220 325.2h1M235 325.2h1M247 325.2h1M254 325.2h1M266 325.2h1M284 325.2h1M287 325.2h1M296 325.2h2M306 325.2h2M311 325.2h1M314 325.2h1M352 325.2h1M355 325.2h2M364 325.2h1M367 325.2h2M378 325.2h1M399 325.2h1M404 325.2h1M429 325.2h1M439 325.2h1M441 325.2h1M443 325.2h4M13 332.9h1M41 332.9h1M54 332.9h1M74 332.9h1M86 332.9h1M95 332.9h1M158 332.9h1M160 332.9h1M167 332.9h1M190 332.9h1M198 332.9h1M235 332.9h2M245 332.9h1M253 332.9h1M284 332.9h2M287 332.9h3M329 332.9h1M331 332.9h1M335 332.9h1M337 332.9h1M339 332.9h1M356 332.9h1M366 332.9h1M387 332.9h1M395 332.9h2M411 332.9h1M418 332.9h1M433 332.9h1M440 332.9h1M444 332.9h1M446 332.9h1M448 332.9h1M453 332.9h1M463 332.9h2M467 332.9h1M9 340.6h1M27 340.6h1M39 340.6h1M43 340.6h1M47 340.6h1M54 340.6h1M61 340.6h2M80 340.6h1M94 340.6h2M121 340.6h1M154 340.6h2M169 340.6h1M185 340.6h1M187 340.6h1M189 340.6h1M191 340.6h1M197 340.6h2M201 340.6h1M212 340.6h1M216 340.6h1M221 340.6h1M226 340.6h1M229 340.6h1M231 340.6h1M235 340.6h1M246 340.6h1M255 340.6h1M257 340.6h1M259 340.6h1M275 340.6h1M306 340.6h1M316 340.6h1M320 340.6h1M349 340.6h1M364 340.6h2M380 340.6h1M394 340.6h1M396 340.6h1M400 340.6h1M410 340.6h1M428 340.6h1M430 340.6h1M435 340.6h1M437 340.6h1M448 340.6h1M459 340.6h1M8 348.2h1M20 348.2h1M22 348.2h1M26 348.2h1M54 348.2h1M75 348.2h2M91 348.2h1M119 348.2h1M148 348.2h1M168 348.2h1M173 348.2h1M175 348.2h1M179 348.2h1M185 348.2h1M190 348.2h1M192 348.2h1M195 348.2h1M200 348.2h2M210 348.2h1M212 348.2h1M214 348.2h1M220 348.2h1M226 348.2h1M232 348.2h1M237 348.2h1M272 348.2h1M287 348.2h1M310 348.2h1M319 348.2h1M330 348.2h1M335 348.2h1M347 348.2h1M359 348.2h1M368 348.2h1M379 348.2h1M386 348.2h1M392 348.2h1M396 348.2h1M406 348.2h1M409 348.2h1M415 348.2h1M419 348.2h4M436 348.2h1M451 348.2h3M462 348.2h1M464 348.2h1M12 355.9h1M20 355.9h1M27 355.9h1M41 355.9h1M45 355.9h1M48 355.9h1M62 355.9h1M64 355.9h1M74 355.9h1M76 355.9h2M91 355.9h1M98 355.9h1M100 355.9h2M105 355.9h1M110 355.9h1M121 355.9h1M127 355.9h1M134 355.9h1M139 355.9h1M147 355.9h1M149 355.9h1M151 355.9h1M155 355.9h1M164 355.9h1M166 355.9h1M172 355.9h1M193 355.9h1M213 355.9h1M219 355.9h1M223 355.9h1M226 355.9h1M237 355.9h1M257 355.9h1M264 355.9h1M272 355.9h1M295 355.9h1M306 355.9h1M313 355.9h1M320 355.9h1M322 355.9h1M336 355.9h1M341 355.9h1M349 355.9h1M358 355.9h1M380 355.9h1M400 355.9h1M404 355.9h1M406 355.9h3M424 355.9h1M430 355.9h3M437 355.9h1M447 355.9h1M455 355.9h1M462 355.9h1M464 355.9h1M11 363.6h1M13 363.6h1M16 363.6h1M50 363.6h1M66 363.6h1M71 363.6h1M85 363.6h1M97 363.6h1M101 363.6h1M109 363.6h1M137 363.6h1M142 363.6h1M144 363.6h1M149 363.6h1M157 363.6h1M161 363.6h1M170 363.6h1M177 363.6h1M187 363.6h1M194 363.6h4M206 363.6h1M208 363.6h1M213 363.6h1M230 363.6h1M233 363.6h1M244 363.6h1M254 363.6h1M259 363.6h1M265 363.6h1M279 363.6h1M285 363.6h1M307 363.6h1M318 363.6h1M324 363.6h1M330 363.6h1M332 363.6h1M341 363.6h1M350 363.6h1M353 363.6h1M373 363.6h1M376 363.6h1M389 363.6h1M392 363.6h1M407 363.6h1M442 363.6h1M444 363.6h1M462 363.6h1M466 363.6h1M12 371.3h1M22 371.3h1M26 371.3h1M28 371.3h1M36 371.3h1M42 371.3h1M45 371.3h1M47 371.3h1M51 371.3h1M61 371.3h1M65 371.3h1M70 371.3h1M100 371.3h1M123 371.3h1M131 371.3h1M151 371.3h1M156 371.3h1M162 371.3h1M165 371.3h1M173 371.3h1M182 371.3h1M196 371.3h1M201 371.3h1M203 371.3h1M205 371.3h1M208 371.3h1M213 371.3h1M222 371.3h1M230 371.3h2M256 371.3h1M268 371.3h2M277 371.3h1M286 371.3h2M298 371.3h1M318 371.3h1M321 371.3h1M323 371.3h2M355 371.3h2M358 371.3h1M387 371.3h1M390 371.3h1M402 371.3h1M409 371.3h1M412 371.3h1M418 371.3h2M421 371.3h1M426 371.3h1M440 371.3h1M453 371.3h1M455 371.3h1M457 371.3h1M464 371.3h1M468 371.3h1M16 379.0h1M20 379.0h1M36 379.0h2M40 379.0h1M47 379.0h1M61 379.0h1M76 379.0h1M79 379.0h1M94 379.0h1M100 379.0h1M109 379.0h1M118 379.0h1M123 379.0h1M153 379.0h1M163 379.0h1M167 379.0h1M172 379.0h1M177 379.0h2M195 379.0h1M199 379.0h1M201 379.0h1M211 379.0h1M216 379.0h1M219 379.0h1M224 379.0h1M226 379.0h1M229 379.0h1M232 379.0h1M235 379.0h1M256 379.0h1M261 379.0h1M281 379.0h1M322 379.0h1M330 379.0h1M359 379.0h1M363 379.0h1M370 379.0h1M377 379.0h1M394 379.0h1M399 379.0h1M409 379.0h3M417 379.0h1M419 379.0h1M421 379.0h1M431 379.0h1M437 379.0h1M451 379.0h1M455 379.0h1M459 379.0h1M462 379.0h1M468 379.0h1M10 386.6h2M19 386.6h1M21 386.6h1M27 386.6h1M31 386.6h1M49 386.6h1M58 386.6h1M64 386.6h1M66 386.6h1M77 386.6h1M94 386.6h1M98 386.6h1M121 386.6h1M129 386.6h1M144 386.6h1M149 386.6h1M156 386.6h1M160 386.6h3M166 386.6h2M169 386.6h1M177 386.6h1M182 386.6h1M225 386.6h2M256 386.6h2M265 386.6h1M283 386.6h1M285 386.6h1M302 386.6h1M317 386.6h2M321 386.6h2M329 386.6h1M332 386.6h1M337 386.6h1M340 386.6h1M358 386.6h2M364 386.6h1M369 386.6h1M371 386.6h2M388 386.6h1M402 386.6h1M412 386.6h1M415 386.6h2M420 386.6h1M440 386.6h1M442 386.6h1M450 386.6h1M460 386.6h1M463 386.6h1M466 386.6h1M17 394.3h2M21 394.3h1M29 394.3h1M54 394.3h1M59 394.3h1M69 394.3h2M91 394.3h1M104 394.3h1M110 394.3h1M112 394.3h1M114 394.3h1M126 394.3h1M130 394.3h1M159 394.3h1M161 394.3h2M168 394.3h1M179 394.3h1M182 394.3h1M209 394.3h1M211 394.3h1M219 394.3h1M221 394.3h1M235 394.3h1M237 394.3h1M254 394.3h1M270 394.3h1M274 394.3h1M287 394.3h3M292 394.3h1M294 394.3h1M311 394.3h2M314 394.3h1M319 394.3h1M321 394.3h1M323 394.3h1M327 394.3h1M335 394.3h2M347 394.3h1M349 394.3h1M352 394.3h1M354 394.3h1M362 394.3h1M364 394.3h1M392 394.3h2M396 394.3h4M407 394.3h2M411 394.3h1M415 394.3h1M425 394.3h1M438 394.3h4M449 394.3h2M461 394.3h1M464 394.3h1M10 402.0h1M18 402.0h1M21 402.0h1M25 402.0h1M28 402.0h1M41 402.0h1M49 402.0h1M55 402.0h1M74 402.0h1M78 402.0h1M92 402.0h1M95 402.0h1M109 402.0h1M114 402.0h1M144 402.0h2M147 402.0h1M159 402.0h1M177 402.0h1M190 402.0h1M196 402.0h1M198 402.0h1M205 402.0h1M215 402.0h1M218 402.0h1M220 402.0h1M222 402.0h1M224 402.0h1M227 402.0h1M234 402.0h1M241 402.0h1M248 402.0h1M252 402.0h2M266 402.0h1M284 402.0h1M296 402.0h1M302 402.0h1M306 402.0h1M318 402.0h2M325 402.0h1M329 402.0h1M332 402.0h1M335 402.0h1M337 402.0h2M354 402.0h1M358 402.0h1M372 402.0h1M374 402.0h1M381 402.0h2M390 402.0h1M397 402.0h1M416 402.0h1M418 402.0h1M428 402.0h1M440 402.0h1M450 402.0h1M452 402.0h1M455 402.0h1M459 402.0h1M27 409.7h1M29 409.7h1M31 409.7h1M38 409.7h1M53 409.7h1M58 409.7h1M66 409.7h1M74 409.7h1M76 409.7h1M79 409.7h1M95 409.7h1M100 409.7h1M120 409.7h1M140 409.7h3M150 409.7h1M158 409.7h1M160 409.7h1M162 409.7h1M166 409.7h1M168 409.7h1M173 409.7h1M182 409.7h1M191 409.7h1M212 409.7h1M228 409.7h1M249 409.7h1M259 409.7h1M270 409.7h1M284 409.7h3M289 409.7h1M291 409.7h1M296 409.7h1M298 409.7h2M318 409.7h1M326 409.7h1M339 409.7h1M353 409.7h1M356 409.7h1M361 409.7h1M364 409.7h1M372 409.7h1M382 409.7h2M401 409.7h1M407 409.7h1M409 409.7h1M422 409.7h1M425 409.7h1M429 409.7h1M434 409.7h1M441 409.7h2M445 409.7h1M451 409.7h1M454 409.7h1M458 409.7h1M468 409.7h1M10 417.4h1M28 417.4h2M43 417.4h1M52 417.4h1M54 417.4h1M74 417.4h1M100 417.4h1M104 417.4h1M107 417.4h1M135 417.4h1M151 417.4h1M154 417.4h1M158 417.4h2M161 417.4h1M175 417.4h1M185 417.4h1M192 417.4h1M199 417.4h2M208 417.4h1M212 417.4h1M217 417.4h1M233 417.4h1M244 417.4h1M246 417.4h1M253 417.4h1M258 417.4h1M264 417.4h1M267 417.4h1M273 417.4h2M277 417.4h2M284 417.4h1M295 417.4h1M311 417.4h1M315 417.4h1M318 417.4h1M330 417.4h1M337 417.4h1M347 417.4h1M359 417.4h1M382 417.4h1M390 417.4h1M418 417.4h2M425 417.4h1M431 417.4h2M434 417.4h1M437 417.4h1M439 417.4h1M455 417.4h1M15 425.0h3M21 425.0h1M27 425.0h1M45 425.0h1M47 425.0h1M58 425.0h1M61 425.0h2M67 425.0h1M75 425.0h1M78 425.0h1M85 425.0h2M88 425.0h1M91 425.0h1M107 425.0h1M112 425.0h1M116 425.0h1M118 425.0h1M122 425.0h1M126 425.0h1M134 425.0h1M137 425.0h1M140 425.0h1M159 425.0h1M164 425.0h1M170 425.0h1M175 425.0h1M181 425.0h2M184 425.0h1M191 425.0h1M194 425.0h1M213 425.0h1M217 425.0h1M221 425.0h2M229 425.0h1M252 425.0h1M255 425.0h1M259 425.0h1M274 425.0h1M294 425.0h1M297 425.0h1M302 425.0h1M313 425.0h1M324 425.0h3M329 425.0h1M333 425.0h1M336 425.0h1M338 425.0h1M345 425.0h1M349 425.0h1M359 425.0h2M362 425.0h2M375 425.0h1M389 425.0h1M400 425.0h1M405 425.0h1M409 425.0h1M413 425.0h1M421 425.0h1M423 425.0h1M428 425.0h1M437 425.0h1M439 425.0h1M441 425.0h1M446 425.0h1M451 425.0h1M464 425.0h2M469 425.0h1M7 432.7h1M19 432.7h1M22 432.7h1M27 432.7h1M38 432.7h1M41 432.7h1M52 432.7h2M57 432.7h1M63 432.7h1M66 432.7h1M75 432.7h2M79 432.7h1M89 432.7h1M105 432.7h1M109 432.7h1M153 432.7h1M159 432.7h1M161 432.7h1M204 432.7h1M208 432.7h2M213 432.7h1M241 432.7h1M246 432.7h1M257 432.7h1M265 432.7h1M270 432.7h1M284 432.7h1M287 432.7h1M296 432.7h1M314 432.7h1M322 432.7h1M326 432.7h1M339 432.7h1M364 432.7h2M390 432.7h1M399 432.7h1M401 432.7h1M404 432.7h1M414 432.7h1M421 432.7h1M432 432.7h1M442 432.7h1M449 432.7h1M451 432.7h1M453 432.7h1M461 432.7h1M7 440.4h1M15 440.4h1M21 440.4h1M47 440.4h1M68 440.4h1M73 440.4h1M102 440.4h1M156 440.4h1M160 440.4h1M169 440.4h1M183 440.4h1M190 440.4h1M198 440.4h1M214 440.4h1M218 440.4h1M275 440.4h1M281 440.4h1M295 440.4h1M298 440.4h1M306 440.4h2M313 440.4h1M326 440.4h1M357 440.4h1M359 440.4h1M365 440.4h1M381 440.4h1M383 440.4h1M388 440.4h1M392 440.4h1M396 440.4h1M404 440.4h1M410 440.4h1M423 440.4h1M426 440.4h2M455 440.4h2M458 440.4h1M14 448.1h1M18 448.1h1M21 448.1h1M35 448.1h1M41 448.1h1M47 448.1h1M63 448.1h1M71 448.1h1M80 448.1h1M87 448.1h1M95 448.1h1M100 448.1h2M107 448.1h1M110 448.1h1M112 448.1h1M119 448.1h1M125 448.1h1M154 448.1h2M158 448.1h1M164 448.1h1M170 448.1h1M174 448.1h1M178 448.1h1M194 448.1h1M200 448.1h2M208 448.1h1M210 448.1h1M214 448.1h1M223 448.1h1M242 448.1h1M250 448.1h1M252 448.1h1M261 448.1h1M263 448.1h1M281 448.1h1M286 448.1h1M288 448.1h1M311 448.1h1M317 448.1h1M322 448.1h1M336 448.1h1M342 448.1h1M345 448.1h1M348 448.1h1M365 448.1h1M377 448.1h1M386 448.1h1M393 448.1h1M396 448.1h1M406 448.1h1M413 448.1h1M416 448.1h1M424 448.1h1M437 448.1h1M442 448.1h1M448 448.1h1M457 448.1h1M460 448.1h1M468 448.1h1M10 455.8h1M17 455.8h1M19 455.8h1M28 455.8h1M41 455.8h1M45 455.8h1M50 455.8h1M52 455.8h1M75 455.8h1M98 455.8h1M109 455.8h1M119 455.8h1M131 455.8h1M146 455.8h1M151 455.8h1M167 455.8h1M193 455.8h1M199 455.8h1M206 455.8h1M229 455.8h1M231 455.8h1M241 455.8h1M247 455.8h1M250 455.8h1M252 455.8h1M281 455.8h1M295 455.8h2M311 455.8h1M325 455.8h1M335 455.8h1M342 455.8h2M346 455.8h1M348 455.8h1M355 455.8h1M360 455.8h1M367 455.8h1M370 455.8h1M374 455.8h1M387 455.8h1M392 455.8h1M396 455.8h1M401 455.8h1M408 455.8h1M410 455.8h1M414 455.8h1M423 455.8h1M427 455.8h1M431 455.8h1M440 455.8h1M458 455.8h1M464 455.8h1M18 463.4h1M20 463.4h1M22 463.4h1M32 463.4h1M41 463.4h1M53 463.4h1M60 463.4h1M67 463.4h1M74 463.4h3M91 463.4h1M103 463.4h1M126 463.4h1M132 463.4h1M177 463.4h1M182 463.4h1M188 463.4h1M203 463.4h1M207 463.4h1M209 463.4h1M223 463.4h1M256 463.4h1M271 463.4h3M291 463.4h1M298 463.4h1M304 463.4h2M308 463.4h1M342 463.4h1M347 463.4h1M367 463.4h1M371 463.4h1M379 463.4h1M389 463.4h1M392 463.4h1M399 463.4h1M404 463.4h1M418 463.4h1M450 463.4h2M459 463.4h1M464 463.4h1M467 463.4h1M9 471.1h1M15 471.1h2M21 471.1h1M38 471.1h1M53 471.1h1M61 471.1h1M66 471.1h1M68 471.1h1M70 471.1h1M72 471.1h1M75 471.1h2M79 471.1h1M90 471.1h1M93 471.1h1M95 471.1h2M100 471.1h1M105 471.1h1M109 471.1h1M113 471.1h1M121 471.1h2M136 471.1h1M141 471.1h1M145 471.1h1M147 471.1h1M152 471.1h1M155 471.1h1M159 471.1h2M168 471.1h1M180 471.1h1M187 471.1h1M206 471.1h1M209 471.1h2M231 471.1h1M242 471.1h1M262 471.1h1M264 471.1h1M274 471.1h1M305 471.1h2M322 471.1h1M329 471.1h1M333 471.1h1M335 471.1h1M341 471.1h2M345 471.1h1M352 471.1h1M372 471.1h1M375 471.1h1M379 471.1h1M403 471.1h1M408 471.1h1M433 471.1h2M444 471.1h2M447 471.1h1M450 471.1h1M453 471.1h2M466 471.1h1M469 471.1h1M11 478.8h1M16 478.8h1M19 478.8h1M22 478.8h1M25 478.8h1M33 478.8h1M39 478.8h1M55 478.8h1M58 478.8h1M78 478.8h1M89 478.8h1M94 478.8h1M96 478.8h1M100 478.8h2M106 478.8h1M119 478.8h1M126 478.8h1M132 478.8h3M141 478.8h1M153 478.8h1M155 478.8h1M161 478.8h1M163 478.8h2M166 478.8h1M168 478.8h1M173 478.8h1M176 478.8h1M179 478.8h1M199 478.8h1M207 478.8h1M220 478.8h1M223 478.8h1M225 478.8h1M231 478.8h1M234 478.8h1M255 478.8h1M269 478.8h1M279 478.8h1M292 478.8h1M300 478.8h1M305 478.8h1M317 478.8h2M320 478.8h1M333 478.8h1M336 478.8h1M344 478.8h1M370 478.8h1M376 478.8h1M386 478.8h1M395 478.8h1M398 478.8h1M403 478.8h1M423 478.8h1M425 478.8h1M429 478.8h1M434 478.8h1M436 478.8h1M446 478.8h1M450 478.8h1M453 478.8h1M459 478.8h1M463 478.8h1M23 486.5h2M28 486.5h2M32 486.5h1M42 486.5h1M60 486.5h1M80 486.5h1M87 486.5h1M92 486.5h1M94 486.5h1M111 486.5h1M121 486.5h1M134 486.5h1M139 486.5h1M154 486.5h1M177 486.5h1M181 486.5h1M186 486.5h1M191 486.5h1M201 486.5h1M206 486.5h1M212 486.5h1M215 486.5h2M220 486.5h1M228 486.5h1M234 486.5h1M243 486.5h1M246 486.5h1M249 486.5h2M266 486.5h1M283 486.5h1M293 486.5h1M307 486.5h1M315 486.5h1M338 486.5h3M354 486.5h1M360 486.5h1M363 486.5h2M370 486.5h1M386 486.5h1M402 486.5h1M406 486.5h1M409 486.5h1M411 486.5h1M424 486.5h1M431 486.5h1M453 486.5h1M458 486.5h1M461 486.5h1M10 494.2h1M15 494.2h1M24 494.2h1M27 494.2h1M31 494.2h1M33 494.2h2M36 494.2h2M41 494.2h2M55 494.2h1M61 494.2h2M64 494.2h1M74 494.2h1M92 494.2h2M95 494.2h1M98 494.2h1M101 494.2h1M109 494.2h1M111 494.2h1M119 494.2h1M125 494.2h1M131 494.2h1M139 494.2h1M158 494.2h1M170 494.2h2M173 494.2h1M180 494.2h1M183 494.2h1M194 494.2h1M197 494.2h2M211 494.2h1M216 494.2h2M224 494.2h1M232 494.2h1M234 494.2h1M242 494.2h1M257 494.2h1M259 494.2h1M276 494.2h1M289 494.2h1M292 494.2h1M306 494.2h3M312 494.2h2M324 494.2h1M328 494.2h1M330 494.2h1M351 494.2h1M355 494.2h1M359 494.2h1M369 494.2h2M418 494.2h1M423 494.2h2M428 494.2h1M430 494.2h1M433 494.2h3M455 494.2h2M464 494.2h1M469 494.2h1M13 501.8h1M19 501.8h1M23 501.8h1M35 501.8h1M44 501.8h3M59 501.8h1M66 501.8h1M68 501.8h1M74 501.8h1M77 501.8h1M80 501.8h2M88 501.8h1M94 501.8h1M96 501.8h1M98 501.8h1M101 501.8h1M108 501.8h1M120 501.8h1M122 501.8h1M125 501.8h1M131 501.8h1M134 501.8h1M138 501.8h2M141 501.8h1M148 501.8h1M151 501.8h1M155 501.8h2M159 501.8h2M165 501.8h1M174 501.8h2M182 501.8h1M187 501.8h1M189 501.8h1M207 501.8h1M210 501.8h1M219 501.8h1M225 501.8h1M254 501.8h1M277 501.8h1M281 501.8h1M292 501.8h1M301 501.8h1M310 501.8h1M318 501.8h1M323 501.8h1M356 501.8h1M358 501.8h2M361 501.8h1M363 501.8h1M373 501.8h1M379 501.8h1M386 501.8h1M396 501.8h1M402 501.8h1M404 501.8h1M406 501.8h1M408 501.8h1M418 501.8h1M422 501.8h1M424 501.8h2M436 501.8h1M453 501.8h1M8 509.5h1M12 509.5h1M14 509.5h1M23 509.5h2M32 509.5h1M34 509.5h1M36 509.5h1M38 509.5h1M47 509.5h2M55 509.5h1M58 509.5h1M86 509.5h1M89 509.5h2M97 509.5h1M100 509.5h1M112 509.5h1M134 509.5h2M164 509.5h1M174 509.5h1M176 509.5h1M184 509.5h1M188 509.5h2M206 509.5h2M212 509.5h1M215 509.5h1M219 509.5h1M221 509.5h2M224 509.5h1M226 509.5h1M233 509.5h1M245 509.5h1M253 509.5h1M270 509.5h1M306 509.5h1M311 509.5h1M328 509.5h1M335 509.5h1M344 509.5h1M350 509.5h2M363 509.5h1M369 509.5h1M381 509.5h1M395 509.5h1M397 509.5h1M402 509.5h1M408 509.5h1M415 509.5h1M421 509.5h1M441 509.5h1M453 509.5h2M459 509.5h1M461 509.5h1M466 509.5h1M469 509.5h1M10 517.2h1M28 517.2h1M30 517.2h1M41 517.2h1M43 517.2h1M57 517.2h1M60 517.2h1M66 517.2h1M74 517.2h1M77 517.2h1M88 517.2h1M90 517.2h1M95 517.2h1M108 517.2h1M110 517.2h1M113 517.2h2M124 517.2h1M130 517.2h1M133 517.2h1M141 517.2h1M145 517.2h1M161 517.2h1M177 517.2h1M187 517.2h1M196 517.2h2M199 517.2h1M201 517.2h1M204 517.2h1M210 517.2h1M215 517.2h1M222 517.2h1M229 517.2h1M242 517.2h1M247 517.2h2M250 517.2h1M257 517.2h1M264 517.2h1M276 517.2h1M283 517.2h1M290 517.2h1M295 517.2h1M301 517.2h1M304 517.2h1M306 517.2h1M311 517.2h1M322 517.2h3M335 517.2h1M337 517.2h1M344 517.2h1M355 517.2h1M367 517.2h1M379 517.2h1M382 517.2h1M397 517.2h1M428 517.2h1M430 517.2h2M433 517.2h1M443 517.2h2M453 517.2h1M467 517.2h1M10 524.9h2M15 524.9h1M17 524.9h1M28 524.9h1M36 524.9h2M41 524.9h2M47 524.9h1M57 524.9h1M61 524.9h1M63 524.9h1M67 524.9h1M77 524.9h1M80 524.9h1M85 524.9h1M87 524.9h1M90 524.9h2M121 524.9h1M127 524.9h2M131 524.9h2M135 524.9h1M145 524.9h1M164 524.9h1M173 524.9h2M179 524.9h1M187 524.9h1M209 524.9h1M220 524.9h1M222 524.9h1M234 524.9h4M248 524.9h1M254 524.9h1M261 524.9h1M276 524.9h1M289 524.9h1M326 524.9h1M331 524.9h1M340 524.9h1M356 524.9h1M360 524.9h1M366 524.9h1M374 524.9h2M380 524.9h2M390 524.9h1M396 524.9h1M399 524.9h1M408 524.9h1M420 524.9h1M423 524.9h1M425 524.9h1M428 524.9h1M441 524.9h1M15 532.6h1M22 532.6h1M25 532.6h1M28 532.6h1M32 532.6h1M41 532.6h2M61 532.6h1M76 532.6h2M88 532.6h1M92 532.6h1M103 532.6h1M106 532.6h1M109 532.6h1M111 532.6h1M134 532.6h1M151 532.6h1M167 532.6h1M177 532.6h1M179 532.6h1M183 532.6h1M191 532.6h1M205 532.6h1M207 532.6h2M213 532.6h1M223 532.6h1M241 532.6h1M243 532.6h1M278 532.6h1M280 532.6h1M290 532.6h1M300 532.6h2M314 532.6h1M316 532.6h1M322 532.6h1M325 532.6h2M331 532.6h1M353 532.6h1M356 532.6h1M358 532.6h2M389 532.6h1M399 532.6h1M406 532.6h2M411 532.6h1M413 532.6h1M419 532.6h2M426 532.6h1M430 532.6h2M437 532.6h2M448 532.6h1M458 532.6h2M10 540.2h1M25 540.2h1M31 540.2h1M36 540.2h1M38 540.2h1M40 540.2h2M62 540.2h1M64 540.2h1M69 540.2h1M72 540.2h2M75 540.2h1M109 540.2h1M115 540.2h1M143 540.2h2M149 540.2h1M151 540.2h1M174 540.2h1M190 540.2h1M194 540.2h1M197 540.2h1M209 540.2h1M212 540.2h1M214 540.2h1M221 540.2h2M225 540.2h2M232 540.2h1M242 540.2h1M255 540.2h1M264 540.2h1M268 540.2h2M273 540.2h1M275 540.2h2M281 540.2h1M289 540.2h1M297 540.2h1M307 540.2h1M313 540.2h1M315 540.2h2M320 540.2h2M326 540.2h1M328 540.2h1M345 540.2h1M347 540.2h1M350 540.2h1M354 540.2h1M357 540.2h1M361 540.2h1M370 540.2h1M377 540.2h2M383 540.2h1M391 540.2h1M396 540.2h1M414 540.2h1M426 540.2h2M460 540.2h1M466 540.2h1" stroke="#faf5f5" stroke-width="7.68"/><path d="M8 309.8h1M18 309.8h1M34 309.8h1M39 309.8h1M52 309.8h1M57 309.8h1M66 309.8h1M74 309.8h1M93 309.8h1M111 309.8h1M127 309.8h1M144 309.8h2M150 309.8h2M158 309.8h2M182 309.8h2M195 309.8h2M205 309.8h1M223 309.8h1M225 309.8h1M233 309.8h1M267 309.8h1M278 309.8h1M291 309.8h1M296 309.8h1M324 309.8h1M341 309.8h1M343 309.8h1M391 309.8h1M407 309.8h1M457 309.8h1M460 309.8h1M466 309.8h1M38 317.5h1M55 317.5h1M61 317.5h1M79 317.5h1M103 317.5h1M105 317.5h1M107 317.5h1M109 317.5h1M139 317.5h1M144 317.5h1M164 317.5h1M209 317.5h1M212 317.5h1M233 317.5h1M270 317.5h1M280 317.5h1M284 317.5h1M286 317.5h1M296 317.5h1M331 317.5h1M346 317.5h1M364 317.5h1M373 317.5h2M433 317.5h1M437 317.5h1M450 317.5h1M462 317.5h1M469 317.5h1M11 325.2h1M20 325.2h1M38 325.2h1M48 325.2h1M81 325.2h1M91 325.2h1M95 325.2h1M115 325.2h1M123 325.2h1M125 325.2h1M129 325.2h1M135 325.2h1M151 325.2h1M194 325.2h1M196 325.2h1M216 325.2h1M225 325.2h1M228 325.2h1M237 325.2h1M241 325.2h1M252 325.2h1M270 325.2h1M286 325.2h1M290 325.2h1M308 325.2h1M313 325.2h1M319 325.2h1M321 325.2h1M326 325.2h1M335 325.2h2M347 325.2h1M353 325.2h1M358 325.2h1M370 325.2h1M379 325.2h1M382 325.2h1M442 325.2h1M457 325.2h1M463 325.2h1M29 332.9h1M62 332.9h1M96 332.9h1M118 332.9h1M126 332.9h1M129 332.9h1M147 332.9h1M192 332.9h1M200 332.9h1M207 332.9h1M220 332.9h1M225 332.9h1M231 332.9h1M272 332.9h1M283 332.9h1M295 332.9h2M308 332.9h1M320 332.9h1M377 332.9h1M389 332.9h1M406 332.9h1M442 332.9h1M445 332.9h1M15 340.6h1M63 340.6h1M70 340.6h1M74 340.6h1M119 340.6h1M125 340.6h1M144 340.6h1M156 340.6h2M170 340.6h1M178 340.6h1M186 340.6h1M193 340.6h1M195 340.6h1M205 340.6h1M219 340.6h1M225 340.6h1M237 340.6h1M291 340.6h1M298 340.6h1M324 340.6h1M326 340.6h1M358 340.6h1M366 340.6h1M377 340.6h1M381 340.6h1M390 340.6h1M395 340.6h1M408 340.6h1M417 340.6h1M451 340.6h1M456 340.6h1M461 340.6h1M468 340.6h1M23 348.2h1M28 348.2h1M33 348.2h1M39 348.2h1M57 348.2h1M62 348.2h1M70 348.2h1M92 348.2h1M99 348.2h1M101 348.2h1M121 348.2h1M141 348.2h1M145 348.2h1M149 348.2h1M153 348.2h1M182 348.2h1M187 348.2h1M198 348.2h1M208 348.2h1M221 348.2h1M223 348.2h1M229 348.2h1M236 348.2h1M255 348.2h1M259 348.2h1M286 348.2h1M325 348.2h1M352 348.2h1M370 348.2h1M372 348.2h1M380 348.2h1M389 348.2h1M402 348.2h1M404 348.2h1M417 348.2h1M432 348.2h1M446 348.2h1M461 348.2h1M467 348.2h1M10 355.9h1M32 355.9h1M36 355.9h1M39 355.9h1M47 355.9h1M50 355.9h1M53 355.9h1M86 355.9h1M89 355.9h1M92 355.9h1M94 355.9h1M111 355.9h1M114 355.9h1M144 355.9h1M161 355.9h1M165 355.9h1M169 355.9h1M190 355.9h1M201 355.9h1M210 355.9h1M229 355.9h1M231 355.9h1M287 355.9h1M307 355.9h1M316 355.9h1M324 355.9h1M330 355.9h1M333 355.9h1M347 355.9h1M352 355.9h1M355 355.9h1M364 355.9h1M378 355.9h1M382 355.9h1M390 355.9h1M396 355.9h1M413 355.9h2M450 355.9h1M30 363.6h1M49 363.6h1M68 363.6h1M74 363.6h1M96 363.6h1M110 363.6h1M112 363.6h1M118 363.6h1M130 363.6h2M145 363.6h1M150 363.6h1M171 363.6h1M174 363.6h1M183 363.6h1M201 363.6h1M211 363.6h1M218 363.6h2M229 363.6h1M249 363.6h1M256 363.6h1M274 363.6h1M291 363.6h1M317 363.6h1M346 363.6h1M369 363.6h1M397 363.6h1M405 363.6h1M417 363.6h2M450 363.6h1M455 363.6h1M463 363.6h1M9 371.3h1M15 371.3h1M18 371.3h1M25 371.3h1M35 371.3h1M41 371.3h1M60 371.3h1M76 371.3h1M102 371.3h1M120 371.3h1M126 371.3h2M141 371.3h1M144 371.3h1M154 371.3h1M159 371.3h1M172 371.3h1M174 371.3h1M181 371.3h1M217 371.3h1M225 371.3h2M228 371.3h1M236 371.3h2M255 371.3h1M262 371.3h1M264 371.3h1M270 371.3h1M273 371.3h2M288 371.3h1M326 371.3h1M343 371.3h1M360 371.3h1M366 371.3h1M401 371.3h1M414 371.3h1M437 371.3h1M443 371.3h1M7 379.0h2M18 379.0h1M34 379.0h2M44 379.0h1M66 379.0h1M71 379.0h1M85 379.0h1M88 379.0h1M95 379.0h1M98 379.0h1M111 379.0h1M127 379.0h1M138 379.0h1M145 379.0h2M170 379.0h2M179 379.0h1M182 379.0h1M187 379.0h1M190 379.0h1M192 379.0h1M206 379.0h2M215 379.0h1M227 379.0h1M267 379.0h1M269 379.0h1M282 379.0h1M311 379.0h1M327 379.0h1M339 379.0h1M341 379.0h1M388 379.0h1M392 379.0h1M395 379.0h1M400 379.0h1M439 379.0h4M444 379.0h1M452 379.0h1M467 379.0h1M26 386.6h1M39 386.6h1M45 386.6h1M55 386.6h1M79 386.6h2M88 386.6h2M91 386.6h1M93 386.6h1M95 386.6h1M114 386.6h1M120 386.6h1M126 386.6h1M128 386.6h1M152 386.6h1M157 386.6h1M175 386.6h1M178 386.6h1M185 386.6h1M192 386.6h1M195 386.6h1M212 386.6h2M221 386.6h1M227 386.6h1M229 386.6h1M275 386.6h1M297 386.6h1M374 386.6h1M376 386.6h1M382 386.6h1M387 386.6h1M399 386.6h1M405 386.6h1M407 386.6h1M428 386.6h1M431 386.6h1M433 386.6h1M444 386.6h1M456 386.6h1M469 386.6h1M19 394.3h1M41 394.3h1M44 394.3h1M50 394.3h1M60 394.3h1M116 394.3h1M123 394.3h1M146 394.3h1M151 394.3h1M158 394.3h1M165 394.3h1M167 394.3h1M169 394.3h1M173 394.3h1M177 394.3h1M196 394.3h1M198 394.3h1M204 394.3h1M216 394.3h1M229 394.3h1M258 394.3h1M266 394.3h1M273 394.3h1M284 394.3h1M297 394.3h1M346 394.3h1M386 394.3h1M394 394.3h1M406 394.3h1M416 394.3h1M423 394.3h2M427 394.3h1M435 394.3h1M454 394.3h1M462 394.3h1M7 402.0h1M16 402.0h1M26 402.0h1M33 402.0h1M43 402.0h1M45 402.0h1M62 402.0h1M75 402.0h1M96 402.0h1M101 402.0h1M127 402.0h1M134 402.0h1M141 402.0h1M154 402.0h1M161 402.0h1M164 402.0h1M166 402.0h1M183 402.0h1M191 402.0h2M235 402.0h1M242 402.0h1M247 402.0h1M258 402.0h1M269 402.0h2M276 402.0h1M285 402.0h1M291 402.0h1M342 402.0h1M346 402.0h2M360 402.0h1M366 402.0h1M370 402.0h1M386 402.0h2M394 402.0h1M401 402.0h1M412 402.0h1M423 402.0h2M436 402.0h1M453 402.0h1M468 402.0h1M10 409.7h1M18 409.7h1M35 409.7h1M45 409.7h1M54 409.7h2M62 409.7h1M90 409.7h1M102 409.7h1M121 409.7h1M129 409.7h1M153 409.7h1M164 409.7h1M192 409.7h1M197 409.7h1M199 409.7h1M219 409.7h1M227 409.7h1M235 409.7h1M281 409.7h1M288 409.7h1M295 409.7h1M312 409.7h1M315 409.7h1M325 409.7h1M337 409.7h1M341 409.7h1M368 409.7h1M377 409.7h1M408 409.7h1M431 409.7h1M439 409.7h1M444 409.7h1M453 409.7h1M459 409.7h1M461 409.7h1M464 409.7h1M11 417.4h1M17 417.4h1M19 417.4h2M31 417.4h1M45 417.4h1M57 417.4h3M62 417.4h1M76 417.4h1M78 417.4h1M90 417.4h2M94 417.4h2M108 417.4h2M111 417.4h3M121 417.4h1M127 417.4h1M143 417.4h1M146 417.4h2M157 417.4h1M168 417.4h2M181 417.4h1M218 417.4h1M250 417.4h1M292 417.4h1M312 417.4h1M314 417.4h1M319 417.4h1M341 417.4h1M399 417.4h1M424 417.4h1M448 417.4h1M450 417.4h1M454 417.4h1M457 417.4h1M20 425.0h1M26 425.0h1M32 425.0h1M43 425.0h1M54 425.0h1M56 425.0h1M60 425.0h1M89 425.0h1M96 425.0h1M104 425.0h1M125 425.0h1M143 425.0h1M147 425.0h1M156 425.0h2M174 425.0h1M183 425.0h1M190 425.0h1M196 425.0h1M223 425.0h1M233 425.0h1M269 425.0h1M273 425.0h1M279 425.0h1M296 425.0h1M305 425.0h1M316 425.0h2M351 425.0h2M382 425.0h1M404 425.0h1M410 425.0h1M431 425.0h1M433 425.0h1M455 425.0h1M21 432.7h1M28 432.7h1M31 432.7h1M60 432.7h1M70 432.7h1M73 432.7h1M102 432.7h1M156 432.7h1M164 432.7h1M166 432.7h1M187 432.7h1M191 432.7h1M212 432.7h1M219 432.7h1M223 432.7h1M228 432.7h1M231 432.7h1M234 432.7h1M269 432.7h1M274 432.7h1M276 432.7h1M298 432.7h1M319 432.7h1M350 432.7h1M352 432.7h1M368 432.7h1M372 432.7h1M380 432.7h1M396 432.7h1M402 432.7h1M407 432.7h1M409 432.7h2M425 432.7h1M427 432.7h1M430 432.7h1M467 432.7h1M13 440.4h1M22 440.4h1M39 440.4h2M42 440.4h1M49 440.4h1M57 440.4h1M60 440.4h1M62 440.4h2M71 440.4h1M75 440.4h1M88 440.4h1M95 440.4h1M112 440.4h1M138 440.4h1M149 440.4h1M154 440.4h1M168 440.4h1M174 440.4h1M187 440.4h1M201 440.4h1M227 440.4h1M233 440.4h1M264 440.4h1M297 440.4h1M320 440.4h1M322 440.4h1M325 440.4h1M339 440.4h1M342 440.4h1M352 440.4h1M367 440.4h1M370 440.4h1M412 440.4h1M417 440.4h1M437 440.4h1M461 440.4h1M468 440.4h1M29 448.1h1M33 448.1h1M64 448.1h1M97 448.1h1M109 448.1h1M117 448.1h1M141 448.1h1M165 448.1h1M175 448.1h1M177 448.1h1M183 448.1h1M195 448.1h1M212 448.1h1M221 448.1h1M232 448.1h1M241 448.1h1M283 448.1h1M319 448.1h1M347 448.1h1M368 448.1h1M379 448.1h1M394 448.1h2M399 448.1h1M401 448.1h1M412 448.1h1M426 448.1h1M429 448.1h1M435 448.1h1M453 448.1h1M7 455.8h1M14 455.8h1M33 455.8h1M36 455.8h2M59 455.8h1M74 455.8h1M79 455.8h1M92 455.8h1M99 455.8h1M104 455.8h1M120 455.8h1M159 455.8h1M169 455.8h1M173 455.8h1M205 455.8h1M210 455.8h1M234 455.8h1M253 455.8h1M258 455.8h1M264 455.8h1M279 455.8h1M319 455.8h1M353 455.8h1M368 455.8h1M406 455.8h1M421 455.8h1M428 455.8h1M432 455.8h1M449 455.8h1M456 455.8h1M9 463.4h1M11 463.4h1M21 463.4h1M36 463.4h1M48 463.4h1M79 463.4h1M98 463.4h1M172 463.4h1M196 463.4h2M211 463.4h1M242 463.4h1M248 463.4h2M289 463.4h1M292 463.4h1M309 463.4h1M319 463.4h1M340 463.4h1M350 463.4h1M357 463.4h2M365 463.4h2M372 463.4h1M374 463.4h2M388 463.4h1M391 463.4h1M394 463.4h1M410 463.4h2M430 463.4h1M434 463.4h1M436 463.4h1M457 463.4h1M7 471.1h1M27 471.1h1M35 471.1h1M57 471.1h1M89 471.1h1M116 471.1h1M174 471.1h1M208 471.1h1M216 471.1h1M225 471.1h1M280 471.1h1M303 471.1h1M309 471.1h1M312 471.1h2M340 471.1h1M347 471.1h1M358 471.1h1M382 471.1h1M396 471.1h1M404 471.1h1M406 471.1h1M411 471.1h1M422 471.1h1M430 471.1h1M452 471.1h1M463 471.1h1M465 471.1h1M18 478.8h1M30 478.8h1M60 478.8h1M65 478.8h2M90 478.8h1M98 478.8h1M102 478.8h1M129 478.8h1M202 478.8h1M208 478.8h1M219 478.8h1M224 478.8h1M251 478.8h1M280 478.8h1M284 478.8h1M311 478.8h1M313 478.8h1M321 478.8h1M324 478.8h1M326 478.8h1M334 478.8h1M342 478.8h1M347 478.8h2M354 478.8h1M361 478.8h1M364 478.8h1M381 478.8h1M396 478.8h1M399 478.8h2M404 478.8h1M415 478.8h1M424 478.8h1M431 478.8h1M443 478.8h1M458 478.8h1M8 486.5h1M11 486.5h1M37 486.5h2M55 486.5h1M57 486.5h1M73 486.5h1M86 486.5h1M90 486.5h1M100 486.5h2M109 486.5h1M136 486.5h1M138 486.5h1M166 486.5h1M172 486.5h1M190 486.5h1M196 486.5h1M208 486.5h1M224 486.5h1M227 486.5h1M253 486.5h1M264 486.5h1M274 486.5h1M278 486.5h1M286 486.5h1M328 486.5h1M341 486.5h1M383 486.5h1M392 486.5h1M395 486.5h1M410 486.5h1M422 486.5h1M440 486.5h1M442 486.5h1M445 486.5h1M454 486.5h1M16 494.2h1M40 494.2h1M54 494.2h1M57 494.2h1M66 494.2h1M76 494.2h2M81 494.2h1M123 494.2h1M127 494.2h2M133 494.2h1M138 494.2h1M144 494.2h1M174 494.2h1M190 494.2h1M193 494.2h1M210 494.2h1M233 494.2h1M258 494.2h1M269 494.2h2M281 494.2h1M287 494.2h1M304 494.2h1M334 494.2h1M366 494.2h1M372 494.2h1M378 494.2h1M409 494.2h1M414 494.2h1M417 494.2h1M432 494.2h1M441 494.2h1M445 494.2h1M10 501.8h1M17 501.8h1M24 501.8h2M30 501.8h1M64 501.8h1M75 501.8h1M93 501.8h1M103 501.8h1M107 501.8h1M113 501.8h1M117 501.8h1M144 501.8h1M147 501.8h1M169 501.8h1M172 501.8h1M198 501.8h1M202 501.8h2M243 501.8h2M265 501.8h1M272 501.8h1M298 501.8h1M304 501.8h1M309 501.8h1M347 501.8h1M350 501.8h1M367 501.8h1M397 501.8h1M401 501.8h1M411 501.8h1M433 501.8h2M452 501.8h1M455 501.8h1M463 501.8h1M466 501.8h1M22 509.5h1M30 509.5h1M46 509.5h1M70 509.5h1M78 509.5h1M80 509.5h1M88 509.5h1M93 509.5h1M115 509.5h1M125 509.5h1M129 509.5h1M138 509.5h2M168 509.5h1M172 509.5h1M183 509.5h1M193 509.5h1M225 509.5h1M244 509.5h1M283 509.5h1M285 509.5h1M290 509.5h1M309 509.5h2M324 509.5h1M327 509.5h1M334 509.5h1M380 509.5h1M398 509.5h1M403 509.5h1M414 509.5h1M422 509.5h1M424 509.5h1M426 509.5h1M456 509.5h1M460 509.5h1M15 517.2h1M19 517.2h1M22 517.2h1M25 517.2h1M32 517.2h1M36 517.2h1M70 517.2h2M73 517.2h1M85 517.2h1M92 517.2h1M103 517.2h1M118 517.2h1M122 517.2h2M139 517.2h2M165 517.2h1M168 517.2h2M174 517.2h2M184 517.2h1M186 517.2h1M192 517.2h1M207 517.2h1M231 517.2h1M262 517.2h1M266 517.2h2M269 517.2h1M279 517.2h1M281 517.2h1M312 517.2h1M315 517.2h2M341 517.2h1M362 517.2h1M365 517.2h1M370 517.2h1M394 517.2h1M396 517.2h1M400 517.2h1M406 517.2h2M413 517.2h1M448 517.2h1M13 524.9h1M19 524.9h1M25 524.9h1M33 524.9h1M40 524.9h1M58 524.9h2M73 524.9h1M88 524.9h1M96 524.9h1M114 524.9h1M119 524.9h1M124 524.9h1M136 524.9h2M143 524.9h1M169 524.9h1M202 524.9h1M214 524.9h1M244 524.9h1M283 524.9h1M292 524.9h1M303 524.9h1M330 524.9h1M345 524.9h1M355 524.9h1M372 524.9h1M395 524.9h1M397 524.9h1M418 524.9h1M422 524.9h1M427 524.9h1M430 524.9h1M433 524.9h1M439 524.9h1M448 524.9h1M466 524.9h1M469 524.9h1M9 532.6h1M23 532.6h1M27 532.6h1M29 532.6h1M33 532.6h1M35 532.6h1M51 532.6h1M53 532.6h1M55 532.6h1M60 532.6h1M63 532.6h2M66 532.6h1M72 532.6h1M78 532.6h1M80 532.6h1M85 532.6h2M99 532.6h1M107 532.6h1M114 532.6h2M119 532.6h1M128 532.6h1M132 532.6h1M138 532.6h1M142 532.6h1M144 532.6h1M171 532.6h1M174 532.6h1M181 532.6h1M185 532.6h1M203 532.6h2M229 532.6h1M235 532.6h1M251 532.6h1M254 532.6h1M259 532.6h1M285 532.6h1M296 532.6h1M321 532.6h1M329 532.6h1M335 532.6h1M352 532.6h1M367 532.6h1M373 532.6h1M387 532.6h1M394 532.6h1M414 532.6h1M34 540.2h1M79 540.2h1M85 540.2h1M93 540.2h1M119 540.2h2M136 540.2h1M142 540.2h1M148 540.2h1M161 540.2h1M169 540.2h1M171 540.2h1M184 540.2h1M205 540.2h2M213 540.2h1M218 540.2h1M231 540.2h1M234 540.2h1M236 540.2h1M245 540.2h1M254 540.2h1M261 540.2h1M272 540.2h1M284 540.2h1M340 540.2h1M342 540.2h1M352 540.2h1M355 540.2h1M367 540.2h1M369 540.2h1M387 540.2h1M406 540.2h1M415 540.2h1M454 540.2h1M457 540.2h1M465 540.2h1" stroke="#faeae4" stroke-width="7.68"/><path d="M10 309.8h1M12 309.8h1M14 309.8h1M20 309.8h1M28 309.8h1M60 309.8h1M71 309.8h1M77 309.8h1M80 309.8h1M92 309.8h1M103 309.8h1M105 309.8h1M113 309.8h1M116 309.8h1M148 309.8h1M173 309.8h2M179 309.8h2M194 309.8h1M218 309.8h2M264 309.8h1M281 309.8h2M311 309.8h1M393 309.8h1M395 309.8h2M448 309.8h1M458 309.8h2M468 309.8h1M39 317.5h1M53 317.5h1M71 317.5h1M88 317.5h1M99 317.5h1M124 317.5h1M136 317.5h1M159 317.5h2M203 317.5h1M213 317.5h1M226 317.5h1M230 317.5h1M252 317.5h1M262 317.5h1M287 317.5h1M305 317.5h1M317 317.5h1M343 317.5h1M395 317.5h2M442 317.5h1M452 317.5h1M461 317.5h1M17 325.2h2M21 325.2h1M31 325.2h1M41 325.2h1M47 325.2h1M96 325.2h1M101 325.2h1M108 325.2h1M114 325.2h1M118 325.2h1M128 325.2h1M131 325.2h1M133 325.2h1M136 325.2h1M148 325.2h1M171 325.2h1M173 325.2h1M186 325.2h1M213 325.2h1M219 325.2h1M226 325.2h1M233 325.2h1M269 325.2h1M300 325.2h1M317 325.2h1M339 325.2h1M390 325.2h1M393 325.2h1M397 325.2h1M432 325.2h1M437 325.2h1M461 325.2h1M466 325.2h1M22 332.9h1M35 332.9h1M73 332.9h1M99 332.9h1M112 332.9h1M123 332.9h1M135 332.9h1M164 332.9h1M166 332.9h1M170 332.9h1M173 332.9h1M181 332.9h1M195 332.9h2M233 332.9h1M258 332.9h1M301 332.9h1M310 332.9h1M326 332.9h1M338 332.9h1M362 332.9h1M371 332.9h1M378 332.9h1M392 332.9h1M397 332.9h1M452 332.9h1M455 332.9h1M458 332.9h1M13 340.6h1M56 340.6h1M72 340.6h1M89 340.6h1M101 340.6h1M110 340.6h1M117 340.6h1M136 340.6h1M141 340.6h1M145 340.6h2M152 340.6h1M166 340.6h1M172 340.6h1M190 340.6h1M194 340.6h1M199 340.6h1M210 340.6h1M215 340.6h1M228 340.6h1M258 340.6h1M276 340.6h1M292 340.6h1M34 348.2h1M48 348.2h1M71 348.2h1M95 348.2h1M105 348.2h1M108 348.2h1M139 348.2h1M162 348.2h1M204 348.2h1M258 348.2h1M346 348.2h1M382 348.2h1M387 348.2h1M390 348.2h1M394 348.2h1M399 348.2h1M408 348.2h1M416 348.2h1M418 348.2h1M425 348.2h1M427 348.2h1M429 348.2h1M431 348.2h1M8 355.9h1M11 355.9h1M13 355.9h1M33 355.9h1M49 355.9h1M51 355.9h2M60 355.9h1M67 355.9h1M69 355.9h1M87 355.9h1M112 355.9h1M119 355.9h1M122 355.9h1M143 355.9h1M146 355.9h1M173 355.9h1M179 355.9h1M192 355.9h1M200 355.9h1M205 355.9h1M211 355.9h1M217 355.9h1M224 355.9h1M232 355.9h1M278 355.9h1M314 355.9h1M346 355.9h1M372 355.9h1M374 355.9h1M411 355.9h1M416 355.9h1M426 355.9h1M452 355.9h1M457 355.9h1M12 363.6h1M46 363.6h1M51 363.6h1M78 363.6h1M87 363.6h1M120 363.6h1M123 363.6h1M141 363.6h1M160 363.6h1M164 363.6h1M166 363.6h1M173 363.6h1M189 363.6h1M192 363.6h1M198 363.6h1M200 363.6h1M209 363.6h1M216 363.6h1M222 363.6h1M227 363.6h1M231 363.6h1M234 363.6h1M258 363.6h1M306 363.6h1M319 363.6h1M331 363.6h1M351 363.6h1M358 363.6h2M365 363.6h1M370 363.6h1M378 363.6h2M388 363.6h1M390 363.6h1M395 363.6h1M414 363.6h1M433 363.6h2M452 363.6h1M469 363.6h1M40 371.3h1M50 371.3h1M53 371.3h1M64 371.3h1M71 371.3h2M74 371.3h1M80 371.3h1M88 371.3h2M119 371.3h1M128 371.3h1M145 371.3h1M155 371.3h1M167 371.3h1M178 371.3h1M189 371.3h1M194 371.3h1M200 371.3h1M206 371.3h1M212 371.3h1M219 371.3h1M221 371.3h1M300 371.3h1M331 371.3h1M347 371.3h1M349 371.3h1M365 371.3h1M395 371.3h1M406 371.3h1M415 371.3h1M431 371.3h1M435 371.3h1M465 371.3h2M26 379.0h1M33 379.0h1M39 379.0h1M49 379.0h2M55 379.0h2M81 379.0h1M96 379.0h1M128 379.0h1M131 379.0h1M140 379.0h1M184 379.0h1M188 379.0h1M193 379.0h1M196 379.0h1M221 379.0h1M234 379.0h1M257 379.0h1M270 379.0h1M272 379.0h1M324 379.0h1M351 379.0h1M407 379.0h1M413 379.0h1M415 379.0h1M427 379.0h1M435 379.0h1M446 379.0h2M454 379.0h1M456 379.0h1M18 386.6h1M29 386.6h1M32 386.6h1M90 386.6h1M102 386.6h1M112 386.6h1M117 386.6h2M124 386.6h1M127 386.6h1M139 386.6h1M158 386.6h1M194 386.6h1M201 386.6h1M217 386.6h2M223 386.6h1M230 386.6h1M233 386.6h1M305 386.6h1M327 386.6h1M375 386.6h1M386 386.6h1M403 386.6h1M426 386.6h1M434 386.6h1M437 386.6h1M439 386.6h1M451 386.6h1M23 394.3h1M31 394.3h1M45 394.3h2M48 394.3h1M55 394.3h1M57 394.3h1M65 394.3h1M73 394.3h1M77 394.3h1M107 394.3h1M109 394.3h1M113 394.3h1M119 394.3h1M128 394.3h1M145 394.3h1M150 394.3h1M152 394.3h1M154 394.3h1M156 394.3h1M191 394.3h1M195 394.3h1M200 394.3h2M223 394.3h1M227 394.3h1M236 394.3h1M283 394.3h1M301 394.3h2M305 394.3h1M350 394.3h2M370 394.3h1M375 394.3h1M404 394.3h1M417 394.3h1M451 394.3h1M14 402.0h1M17 402.0h1M20 402.0h1M52 402.0h1M107 402.0h2M118 402.0h1M128 402.0h1M153 402.0h1M158 402.0h1M172 402.0h1M179 402.0h1M184 402.0h1M208 402.0h1M219 402.0h1M229 402.0h1M232 402.0h1M262 402.0h1M292 402.0h1M294 402.0h1M314 402.0h1M324 402.0h1M330 402.0h1M349 402.0h1M364 402.0h2M417 402.0h1M425 402.0h1M435 402.0h1M454 402.0h1M463 402.0h1M8 409.7h1M34 409.7h1M39 409.7h1M42 409.7h1M59 409.7h1M87 409.7h1M133 409.7h1M135 409.7h1M211 409.7h1M229 409.7h1M252 409.7h1M278 409.7h1M283 409.7h1M306 409.7h1M336 409.7h1M348 409.7h1M359 409.7h1M373 409.7h1M379 409.7h1M390 409.7h1M392 409.7h1M415 409.7h1M417 409.7h1M423 409.7h1M426 409.7h1M428 409.7h1M449 409.7h1M35 417.4h1M39 417.4h1M55 417.4h2M64 417.4h1M102 417.4h1M119 417.4h1M126 417.4h1M133 417.4h1M140 417.4h1M179 417.4h1M193 417.4h1M195 417.4h1M205 417.4h1M207 417.4h1M225 417.4h1M234 417.4h1M255 417.4h1M266 417.4h1M291 417.4h1M306 417.4h1M342 417.4h1M409 417.4h2M435 417.4h1M441 417.4h1M456 417.4h1M28 425.0h1M108 425.0h1M113 425.0h1M128 425.0h1M133 425.0h1M155 425.0h1M158 425.0h1M172 425.0h1M212 425.0h1M227 425.0h1M237 425.0h1M242 425.0h1M258 425.0h1M281 425.0h1M327 425.0h1M354 425.0h1M358 425.0h1M368 425.0h1M386 425.0h1M390 425.0h1M392 425.0h1M396 425.0h1M399 425.0h1M407 425.0h1M412 425.0h1M420 425.0h1M426 425.0h1M430 425.0h1M436 425.0h1M458 425.0h1M467 425.0h1M8 432.7h1M13 432.7h1M23 432.7h1M34 432.7h1M39 432.7h1M64 432.7h1M68 432.7h1M81 432.7h1M95 432.7h1M104 432.7h1M107 432.7h1M113 432.7h1M120 432.7h1M144 432.7h1M147 432.7h1M177 432.7h1M180 432.7h1M192 432.7h1M203 432.7h1M207 432.7h1M221 432.7h1M252 432.7h1M264 432.7h1M272 432.7h1M300 432.7h2M333 432.7h1M342 432.7h1M379 432.7h1M383 432.7h1M440 432.7h1M11 440.4h1M29 440.4h1M31 440.4h1M37 440.4h1M58 440.4h1M76 440.4h1M114 440.4h2M120 440.4h1M132 440.4h2M142 440.4h1M144 440.4h1M151 440.4h1M157 440.4h1M189 440.4h1M195 440.4h1M197 440.4h1M210 440.4h1M215 440.4h1M217 440.4h1M219 440.4h1M225 440.4h1M229 440.4h1M290 440.4h1M300 440.4h1M305 440.4h1M348 440.4h1M360 440.4h1M377 440.4h1M435 440.4h1M454 440.4h1M460 440.4h1M7 448.1h1M24 448.1h1M42 448.1h1M52 448.1h1M62 448.1h1M68 448.1h1M81 448.1h1M90 448.1h1M92 448.1h1M96 448.1h1M111 448.1h1M114 448.1h1M120 448.1h1M126 448.1h1M128 448.1h1M131 448.1h1M134 448.1h1M139 448.1h1M145 448.1h1M147 448.1h1M172 448.1h1M187 448.1h1M225 448.1h1M227 448.1h1M234 448.1h1M237 448.1h1M245 448.1h1M253 448.1h1M287 448.1h1M290 448.1h1M307 448.1h1M331 448.1h1M352 448.1h1M373 448.1h1M380 448.1h1M407 448.1h1M422 448.1h1M447 448.1h1M464 448.1h1M31 455.8h2M39 455.8h1M72 455.8h1M77 455.8h1M118 455.8h1M121 455.8h1M147 455.8h1M170 455.8h1M175 455.8h1M186 455.8h1M215 455.8h1M219 455.8h1M221 455.8h1M225 455.8h1M236 455.8h1M243 455.8h1M288 455.8h1M324 455.8h1M397 455.8h1M404 455.8h1M409 455.8h1M419 455.8h1M433 455.8h1M455 455.8h1M469 455.8h1M16 463.4h1M46 463.4h1M59 463.4h1M119 463.4h1M123 463.4h1M127 463.4h1M137 463.4h1M148 463.4h1M159 463.4h1M176 463.4h1M187 463.4h1M206 463.4h1M216 463.4h1M218 463.4h1M247 463.4h1M254 463.4h1M257 463.4h1M275 463.4h1M284 463.4h1M300 463.4h1M311 463.4h1M320 463.4h1M335 463.4h1M344 463.4h1M362 463.4h1M378 463.4h1M406 463.4h1M433 463.4h1M446 463.4h2M463 463.4h1M468 463.4h1M12 471.1h1M24 471.1h1M26 471.1h1M29 471.1h1M32 471.1h1M36 471.1h1M50 471.1h1M77 471.1h2M97 471.1h1M140 471.1h1M162 471.1h1M165 471.1h1M170 471.1h1M200 471.1h1M202 471.1h1M224 471.1h1M241 471.1h1M251 471.1h1M254 471.1h1M267 471.1h1M283 471.1h1M294 471.1h1M319 471.1h1M321 471.1h1M334 471.1h1M369 471.1h1M373 471.1h1M386 471.1h1M423 471.1h1M428 471.1h1M435 471.1h1M443 471.1h1M459 471.1h1M7 478.8h1M13 478.8h1M45 478.8h1M56 478.8h1M72 478.8h1M111 478.8h1M118 478.8h1M140 478.8h1M158 478.8h1M183 478.8h2M190 478.8h1M254 478.8h1M276 478.8h1M290 478.8h1M296 478.8h1M330 478.8h1M337 478.8h1M341 478.8h1M367 478.8h1M372 478.8h1M378 478.8h1M382 478.8h1M409 478.8h1M420 478.8h1M422 478.8h1M430 478.8h1M442 478.8h1M467 478.8h1M7 486.5h1M10 486.5h1M70 486.5h1M89 486.5h1M91 486.5h1M98 486.5h1M104 486.5h1M119 486.5h1M124 486.5h1M155 486.5h1M199 486.5h1M213 486.5h1M276 486.5h1M290 486.5h1M292 486.5h1M313 486.5h1M320 486.5h1M356 486.5h1M369 486.5h1M391 486.5h1M425 486.5h1M436 486.5h1M446 486.5h1M465 486.5h1M28 494.2h1M35 494.2h1M75 494.2h1M85 494.2h1M87 494.2h1M89 494.2h1M107 494.2h1M124 494.2h1M129 494.2h1M146 494.2h1M155 494.2h1M159 494.2h1M161 494.2h1M165 494.2h1M167 494.2h1M200 494.2h1M204 494.2h1M206 494.2h1M248 494.2h1M254 494.2h1M263 494.2h1M265 494.2h1M283 494.2h2M309 494.2h1M326 494.2h1M329 494.2h1M331 494.2h1M377 494.2h1M386 494.2h1M390 494.2h1M398 494.2h1M410 494.2h1M420 494.2h1M426 494.2h1M436 494.2h1M438 494.2h1M444 494.2h1M454 494.2h1M461 494.2h1M468 494.2h1M31 501.8h1M51 501.8h1M63 501.8h1M78 501.8h1M91 501.8h2M104 501.8h1M111 501.8h2M124 501.8h1M164 501.8h1M179 501.8h1M193 501.8h1M197 501.8h1M208 501.8h1M212 501.8h1M214 501.8h1M237 501.8h1M249 501.8h1M276 501.8h1M293 501.8h1M300 501.8h1M319 501.8h1M322 501.8h1M326 501.8h2M332 501.8h1M335 501.8h1M342 501.8h2M369 501.8h1M378 501.8h1M432 501.8h1M456 501.8h1M462 501.8h1M15 509.5h1M20 509.5h1M45 509.5h1M54 509.5h1M69 509.5h1M75 509.5h1M102 509.5h1M116 509.5h1M156 509.5h1M165 509.5h1M169 509.5h1M187 509.5h1M190 509.5h1M201 509.5h1M211 509.5h1M251 509.5h1M261 509.5h1M269 509.5h1M289 509.5h1M295 509.5h1M300 509.5h1M314 509.5h1M340 509.5h1M379 509.5h1M383 509.5h1M389 509.5h1M396 509.5h1M417 509.5h1M439 509.5h1M449 509.5h1M452 509.5h1M467 509.5h2M26 517.2h1M48 517.2h1M53 517.2h1M68 517.2h1M94 517.2h1M106 517.2h2M143 517.2h1M151 517.2h1M160 517.2h1M180 517.2h2M191 517.2h1M195 517.2h1M209 517.2h1M228 517.2h1M233 517.2h1M246 517.2h1M249 517.2h1M258 517.2h1M299 517.2h1M309 517.2h1M330 517.2h1M352 517.2h1M360 517.2h1M381 517.2h1M383 517.2h1M412 517.2h1M415 517.2h2M427 517.2h1M440 517.2h1M449 517.2h1M457 517.2h1M70 524.9h1M78 524.9h1M122 524.9h1M126 524.9h1M134 524.9h1M155 524.9h1M188 524.9h1M194 524.9h1M204 524.9h1M206 524.9h1M223 524.9h1M230 524.9h1M336 524.9h1M371 524.9h1M378 524.9h1M391 524.9h2M394 524.9h1M403 524.9h1M414 524.9h1M416 524.9h1M429 524.9h1M444 524.9h1M10 532.6h1M17 532.6h1M36 532.6h1M54 532.6h1M71 532.6h1M75 532.6h1M89 532.6h1M101 532.6h2M126 532.6h1M154 532.6h1M157 532.6h1M168 532.6h1M175 532.6h1M178 532.6h1M197 532.6h1M214 532.6h1M220 532.6h1M230 532.6h1M250 532.6h1M257 532.6h1M274 532.6h1M291 532.6h1M304 532.6h1M336 532.6h1M340 532.6h1M360 532.6h1M371 532.6h1M376 532.6h1M383 532.6h1M395 532.6h1M400 532.6h1M424 532.6h1M433 532.6h1M441 532.6h1M447 532.6h1M452 532.6h1M454 532.6h1M465 532.6h2M89 540.2h1M103 540.2h1M105 540.2h1M107 540.2h1M135 540.2h1M137 540.2h1M139 540.2h1M141 540.2h1M165 540.2h1M177 540.2h1M182 540.2h1M215 540.2h1M246 540.2h1M251 540.2h1M282 540.2h1M322 540.2h1M349 540.2h1M360 540.2h1M362 540.2h1M365 540.2h1M379 540.2h1M381 540.2h1M393 540.2h1M430 540.2h1M447 540.2h1M452 540.2h1M467 540.2h1" stroke="#faded2" stroke-width="7.68"/><path d="M13 309.8h1M24 309.8h1M38 309.8h1M47 309.8h1M55 309.8h1M136 309.8h1M204 309.8h1M207 309.8h1M211 309.8h1M230 309.8h1M247 309.8h1M268 309.8h1M275 309.8h1M286 309.8h1M292 309.8h1M310 309.8h1M321 309.8h1M366 309.8h1M394 309.8h1M7 317.5h2M19 317.5h1M22 317.5h1M27 317.5h1M37 317.5h1M75 317.5h1M98 317.5h1M114 317.5h1M119 317.5h1M122 317.5h1M127 317.5h2M133 317.5h1M165 317.5h1M171 317.5h1M180 317.5h1M201 317.5h1M264 317.5h1M278 317.5h1M295 317.5h1M389 317.5h1M436 317.5h1M90 325.2h1M93 325.2h1M110 325.2h2M142 325.2h1M157 325.2h1M163 325.2h1M176 325.2h1M198 325.2h1M202 325.2h1M231 325.2h1M261 325.2h1M264 325.2h1M292 325.2h1M318 325.2h1M324 325.2h1M366 325.2h1M373 325.2h1M389 325.2h1M394 325.2h1M398 325.2h1M433 325.2h1M469 325.2h1M8 332.9h1M10 332.9h1M23 332.9h1M31 332.9h1M48 332.9h1M51 332.9h1M63 332.9h1M70 332.9h1M75 332.9h1M97 332.9h1M102 332.9h1M131 332.9h1M156 332.9h1M161 332.9h1M174 332.9h1M177 332.9h1M209 332.9h1M211 332.9h1M227 332.9h1M234 332.9h1M243 332.9h1M281 332.9h1M346 332.9h1M365 332.9h1M399 332.9h1M435 332.9h1M447 332.9h1M449 332.9h1M462 332.9h1M10 340.6h1M19 340.6h1M37 340.6h1M46 340.6h1M52 340.6h1M75 340.6h1M77 340.6h1M104 340.6h1M112 340.6h1M151 340.6h1M159 340.6h3M168 340.6h1M196 340.6h1M213 340.6h1M217 340.6h1M233 340.6h1M285 340.6h1M314 340.6h1M322 340.6h1M336 340.6h1M389 340.6h1M399 340.6h1M421 340.6h1M433 340.6h1M452 340.6h1M14 348.2h1M18 348.2h1M37 348.2h1M41 348.2h1M77 348.2h1M93 348.2h1M96 348.2h1M100 348.2h1M110 348.2h1M128 348.2h1M142 348.2h3M156 348.2h1M189 348.2h1M197 348.2h1M219 348.2h1M228 348.2h1M235 348.2h1M306 348.2h1M323 348.2h1M454 348.2h1M31 355.9h1M35 355.9h1M40 355.9h1M57 355.9h1M81 355.9h1M96 355.9h1M99 355.9h1M116 355.9h2M126 355.9h1M138 355.9h1M153 355.9h1M207 355.9h1M255 355.9h1M279 355.9h1M291 355.9h1M348 355.9h1M366 355.9h1M386 355.9h1M394 355.9h2M398 355.9h2M427 355.9h1M433 355.9h1M435 355.9h1M441 355.9h2M26 363.6h1M67 363.6h1M91 363.6h1M111 363.6h1M115 363.6h1M122 363.6h1M126 363.6h1M129 363.6h1M132 363.6h1M134 363.6h2M139 363.6h1M151 363.6h1M163 363.6h1M179 363.6h1M184 363.6h1M202 363.6h1M217 363.6h1M223 363.6h1M228 363.6h1M255 363.6h1M264 363.6h1M281 363.6h1M335 363.6h1M339 363.6h1M355 363.6h1M368 363.6h1M403 363.6h1M426 363.6h1M430 363.6h1M464 363.6h1M7 371.3h1M23 371.3h1M32 371.3h1M37 371.3h1M52 371.3h1M90 371.3h1M93 371.3h1M115 371.3h1M118 371.3h1M122 371.3h1M139 371.3h1M168 371.3h1M184 371.3h1M188 371.3h1M211 371.3h1M216 371.3h1M259 371.3h1M285 371.3h1M306 371.3h1M319 371.3h1M322 371.3h1M359 371.3h1M392 371.3h1M404 371.3h1M423 371.3h2M23 379.0h1M25 379.0h1M28 379.0h1M43 379.0h1M51 379.0h1M58 379.0h1M62 379.0h1M65 379.0h1M78 379.0h1M114 379.0h1M121 379.0h1M125 379.0h2M132 379.0h1M213 379.0h1M220 379.0h1M237 379.0h1M258 379.0h1M285 379.0h1M290 379.0h1M331 379.0h2M389 379.0h1M416 379.0h1M423 379.0h1M443 379.0h1M448 379.0h1M460 379.0h1M465 379.0h1M13 386.6h1M36 386.6h1M40 386.6h1M57 386.6h1M65 386.6h1M107 386.6h2M111 386.6h1M135 386.6h1M165 386.6h1M172 386.6h1M183 386.6h1M186 386.6h1M202 386.6h1M205 386.6h1M211 386.6h1M219 386.6h1M231 386.6h1M235 386.6h1M255 386.6h1M301 386.6h1M306 386.6h1M336 386.6h1M339 386.6h1M377 386.6h1M395 386.6h1M436 386.6h1M452 386.6h1M7 394.3h1M11 394.3h2M32 394.3h1M68 394.3h1M76 394.3h1M86 394.3h1M111 394.3h1M127 394.3h1M133 394.3h1M143 394.3h1M155 394.3h1M164 394.3h1M186 394.3h1M190 394.3h1M197 394.3h1M225 394.3h1M232 394.3h1M307 394.3h1M322 394.3h1M337 394.3h1M339 394.3h1M378 394.3h1M387 394.3h1M428 394.3h1M455 394.3h1M11 402.0h1M36 402.0h1M38 402.0h1M42 402.0h1M44 402.0h1M51 402.0h1M129 402.0h1M150 402.0h2M160 402.0h1M167 402.0h1M182 402.0h1M216 402.0h1M237 402.0h1M275 402.0h1M279 402.0h1M287 402.0h1M310 402.0h1M315 402.0h1M331 402.0h1M336 402.0h1M399 402.0h1M421 402.0h1M446 402.0h1M41 409.7h1M43 409.7h1M64 409.7h1M75 409.7h1M81 409.7h1M89 409.7h1M96 409.7h1M119 409.7h1M130 409.7h1M177 409.7h1M208 409.7h1M214 409.7h1M236 409.7h1M246 409.7h1M276 409.7h1M305 409.7h1M307 409.7h1M322 409.7h2M335 409.7h1M351 409.7h1M378 409.7h1M387 409.7h1M402 409.7h1M419 409.7h1M424 409.7h1M433 409.7h1M436 409.7h1M440 409.7h1M447 409.7h1M25 417.4h1M44 417.4h1M48 417.4h2M65 417.4h1M117 417.4h1M136 417.4h1M139 417.4h1M149 417.4h1M187 417.4h1M203 417.4h1M224 417.4h1M228 417.4h1M265 417.4h1M272 417.4h1M279 417.4h1M395 417.4h2M8 425.0h1M18 425.0h2M34 425.0h1M39 425.0h1M50 425.0h1M55 425.0h1M59 425.0h1M79 425.0h1M105 425.0h1M119 425.0h1M131 425.0h2M138 425.0h1M171 425.0h1M195 425.0h1M257 425.0h1M272 425.0h1M298 425.0h1M300 425.0h1M307 425.0h1M353 425.0h1M395 425.0h1M452 425.0h1M24 432.7h1M26 432.7h1M45 432.7h1M85 432.7h1M91 432.7h1M123 432.7h1M145 432.7h1M150 432.7h1M152 432.7h1M157 432.7h1M162 432.7h1M200 432.7h1M211 432.7h1M214 432.7h1M227 432.7h1M229 432.7h1M329 432.7h1M347 432.7h1M387 432.7h1M397 432.7h1M429 432.7h1M435 432.7h1M18 440.4h1M28 440.4h1M46 440.4h1M50 440.4h1M53 440.4h1M55 440.4h1M72 440.4h1M77 440.4h1M87 440.4h1M108 440.4h2M117 440.4h1M136 440.4h1M145 440.4h1M166 440.4h1M173 440.4h1M179 440.4h1M211 440.4h1M216 440.4h1M226 440.4h1M250 440.4h1M257 440.4h1M301 440.4h1M408 440.4h1M414 440.4h1M467 440.4h1M20 448.1h1M25 448.1h1M34 448.1h1M36 448.1h2M51 448.1h1M60 448.1h1M79 448.1h1M91 448.1h1M115 448.1h1M130 448.1h1M148 448.1h2M179 448.1h1M199 448.1h1M298 448.1h1M300 448.1h1M370 448.1h1M375 448.1h1M431 448.1h1M445 448.1h1M57 455.8h1M66 455.8h1M69 455.8h1M81 455.8h1M88 455.8h1M95 455.8h1M105 455.8h1M108 455.8h1M112 455.8h1M133 455.8h1M141 455.8h1M145 455.8h1M156 455.8h1M198 455.8h1M207 455.8h1M272 455.8h1M339 455.8h1M352 455.8h1M407 455.8h1M454 455.8h1M13 463.4h1M15 463.4h1M19 463.4h1M47 463.4h1M49 463.4h1M77 463.4h1M146 463.4h1M243 463.4h1M252 463.4h1M255 463.4h1M260 463.4h1M263 463.4h1M314 463.4h1M327 463.4h1M339 463.4h1M370 463.4h1M373 463.4h1M398 463.4h1M420 463.4h1M443 463.4h1M461 463.4h1M469 463.4h1M11 471.1h1M23 471.1h1M41 471.1h1M60 471.1h1M81 471.1h1M118 471.1h1M196 471.1h1M234 471.1h1M244 471.1h1M275 471.1h2M284 471.1h2M332 471.1h1M343 471.1h1M350 471.1h1M356 471.1h1M395 471.1h1M426 471.1h1M439 471.1h1M446 471.1h1M8 478.8h1M29 478.8h1M37 478.8h1M40 478.8h2M68 478.8h1M70 478.8h1M99 478.8h1M136 478.8h1M162 478.8h1M174 478.8h1M181 478.8h1M209 478.8h1M217 478.8h1M235 478.8h1M249 478.8h1M261 478.8h1M265 478.8h1M275 478.8h1M278 478.8h1M301 478.8h1M310 478.8h1M329 478.8h1M392 478.8h1M406 478.8h2M413 478.8h1M433 478.8h1M441 478.8h1M445 478.8h1M465 478.8h1M14 486.5h1M53 486.5h1M72 486.5h1M78 486.5h1M88 486.5h1M95 486.5h1M102 486.5h1M128 486.5h1M153 486.5h1M158 486.5h1M179 486.5h2M202 486.5h1M225 486.5h1M248 486.5h1M251 486.5h1M277 486.5h1M284 486.5h1M299 486.5h1M317 486.5h1M336 486.5h1M352 486.5h2M358 486.5h1M362 486.5h1M365 486.5h1M372 486.5h1M381 486.5h1M404 486.5h1M459 486.5h1M18 494.2h1M46 494.2h1M86 494.2h1M94 494.2h1M126 494.2h1M149 494.2h2M172 494.2h1M177 494.2h1M188 494.2h1M199 494.2h1M212 494.2h1M219 494.2h1M223 494.2h1M249 494.2h2M272 494.2h1M275 494.2h1M301 494.2h1M337 494.2h1M379 494.2h1M396 494.2h1M399 494.2h1M406 494.2h1M422 494.2h1M462 494.2h1M465 494.2h1M8 501.8h1M27 501.8h1M33 501.8h1M79 501.8h1M99 501.8h1M121 501.8h1M129 501.8h1M163 501.8h1M167 501.8h2M190 501.8h1M199 501.8h1M205 501.8h1M216 501.8h1M242 501.8h1M248 501.8h1M278 501.8h1M291 501.8h1M331 501.8h1M391 501.8h1M399 501.8h1M428 501.8h1M440 501.8h1M467 501.8h1M10 509.5h1M29 509.5h1M33 509.5h1M35 509.5h1M37 509.5h1M44 509.5h1M71 509.5h1M73 509.5h1M103 509.5h2M106 509.5h1M145 509.5h2M157 509.5h1M171 509.5h1M202 509.5h2M227 509.5h1M230 509.5h1M243 509.5h1M299 509.5h1M316 509.5h1M353 509.5h1M356 509.5h3M360 509.5h1M373 509.5h1M388 509.5h1M416 509.5h1M420 509.5h1M423 509.5h1M444 509.5h1M447 509.5h1M31 517.2h1M112 517.2h1M115 517.2h1M125 517.2h1M190 517.2h1M198 517.2h1M223 517.2h1M245 517.2h1M253 517.2h1M259 517.2h1M277 517.2h1M298 517.2h1M303 517.2h1M336 517.2h1M339 517.2h1M342 517.2h1M369 517.2h1M390 517.2h1M395 517.2h1M425 517.2h1M435 517.2h1M441 517.2h1M446 517.2h1M465 517.2h1M29 524.9h1M44 524.9h1M49 524.9h1M53 524.9h1M95 524.9h1M110 524.9h1M144 524.9h1M154 524.9h1M157 524.9h1M183 524.9h1M203 524.9h1M212 524.9h1M232 524.9h1M257 524.9h1M259 524.9h1M278 524.9h2M300 524.9h1M318 524.9h1M354 524.9h1M359 524.9h1M393 524.9h1M398 524.9h1M464 524.9h1M467 524.9h1M16 532.6h1M34 532.6h1M40 532.6h1M58 532.6h1M70 532.6h1M90 532.6h1M97 532.6h1M104 532.6h1M113 532.6h1M121 532.6h1M131 532.6h1M140 532.6h1M146 532.6h1M186 532.6h1M199 532.6h1M242 532.6h1M264 532.6h1M276 532.6h1M292 532.6h1M309 532.6h1M319 532.6h1M327 532.6h1M333 532.6h1M365 532.6h1M388 532.6h1M398 532.6h1M428 532.6h1M435 532.6h1M11 540.2h1M15 540.2h1M19 540.2h1M22 540.2h1M35 540.2h1M56 540.2h1M59 540.2h1M88 540.2h1M95 540.2h1M98 540.2h1M100 540.2h1M114 540.2h1M140 540.2h1M170 540.2h1M178 540.2h1M181 540.2h1M187 540.2h1M195 540.2h2M208 540.2h1M250 540.2h1M279 540.2h1M296 540.2h1M303 540.2h1M306 540.2h1M335 540.2h1M338 540.2h1M356 540.2h1M373 540.2h2M382 540.2h1M398 540.2h1M400 540.2h2M408 540.2h1M410 540.2h1M422 540.2h1M424 540.2h1M431 540.2h1M443 540.2h1M455 540.2h1M462 540.2h1" stroke="#f8d0c2" stroke-width="7.68"/><path d="M23 309.8h1M27 309.8h1M29 309.8h1M63 309.8h1M69 309.8h1M76 309.8h1M89 309.8h1M132 309.8h1M147 309.8h1M161 309.8h1M193 309.8h1M202 309.8h1M206 309.8h1M215 309.8h1M266 309.8h1M319 309.8h1M15 317.5h1M21 317.5h1M25 317.5h1M48 317.5h1M50 317.5h1M62 317.5h1M70 317.5h1M91 317.5h1M95 317.5h2M100 317.5h1M116 317.5h1M123 317.5h1M130 317.5h1M134 317.5h2M140 317.5h2M178 317.5h1M206 317.5h1M219 317.5h1M228 317.5h1M237 317.5h1M265 317.5h1M300 317.5h1M322 317.5h1M392 317.5h1M456 317.5h1M36 325.2h1M44 325.2h1M144 325.2h2M155 325.2h1M200 325.2h1M253 325.2h1M267 325.2h1M281 325.2h1M295 325.2h1M325 325.2h1M338 325.2h1M374 325.2h1M386 325.2h1M460 325.2h1M7 332.9h1M18 332.9h1M30 332.9h1M58 332.9h1M66 332.9h1M91 332.9h1M93 332.9h1M142 332.9h1M176 332.9h1M179 332.9h1M187 332.9h1M199 332.9h1M214 332.9h1M223 332.9h2M228 332.9h1M321 332.9h1M327 332.9h1M370 332.9h1M29 340.6h1M42 340.6h1M44 340.6h1M73 340.6h1M79 340.6h1M81 340.6h1M99 340.6h2M123 340.6h1M126 340.6h1M165 340.6h1M207 340.6h1M209 340.6h1M211 340.6h1M236 340.6h1M373 340.6h1M393 340.6h1M19 348.2h1M53 348.2h1M85 348.2h1M134 348.2h1M136 348.2h1M154 348.2h1M160 348.2h1M166 348.2h1M177 348.2h1M213 348.2h1M216 348.2h1M225 348.2h1M233 348.2h1M324 348.2h1M410 348.2h1M412 348.2h1M437 348.2h1M442 348.2h1M465 348.2h1M17 355.9h1M23 355.9h1M26 355.9h1M30 355.9h1M43 355.9h1M68 355.9h1M95 355.9h1M103 355.9h1M107 355.9h1M118 355.9h1M123 355.9h1M152 355.9h1M157 355.9h1M168 355.9h1M184 355.9h1M198 355.9h1M281 355.9h1M353 355.9h1M362 355.9h1M419 355.9h1M436 355.9h1M33 363.6h1M95 363.6h1M104 363.6h1M117 363.6h1M125 363.6h1M180 363.6h1M210 363.6h1M236 363.6h1M252 363.6h1M345 363.6h1M375 363.6h1M404 363.6h1M421 363.6h1M448 363.6h1M451 363.6h1M465 363.6h1M19 371.3h1M24 371.3h1M39 371.3h1M46 371.3h1M85 371.3h1M104 371.3h1M134 371.3h1M137 371.3h1M183 371.3h1M185 371.3h1M187 371.3h1M207 371.3h1M214 371.3h1M275 371.3h1M280 371.3h2M342 371.3h1M381 371.3h1M410 371.3h1M428 371.3h1M452 371.3h1M467 371.3h1M32 379.0h1M57 379.0h1M64 379.0h1M68 379.0h1M77 379.0h1M103 379.0h1M105 379.0h1M107 379.0h1M143 379.0h1M173 379.0h1M183 379.0h1M204 379.0h1M223 379.0h1M255 379.0h1M268 379.0h1M287 379.0h2M366 379.0h1M401 379.0h1M428 379.0h1M464 379.0h1M30 386.6h1M41 386.6h1M59 386.6h1M78 386.6h1M101 386.6h1M134 386.6h1M145 386.6h2M173 386.6h1M228 386.6h1M236 386.6h2M269 386.6h1M342 386.6h1M360 386.6h1M379 386.6h1M408 386.6h3M429 386.6h1M441 386.6h1M448 386.6h1M454 386.6h1M467 386.6h1M9 394.3h1M30 394.3h1M38 394.3h1M49 394.3h1M88 394.3h1M94 394.3h1M125 394.3h1M129 394.3h1M141 394.3h1M147 394.3h1M174 394.3h1M193 394.3h1M205 394.3h1M208 394.3h1M214 394.3h1M316 394.3h1M341 394.3h1M366 394.3h1M368 394.3h1M373 394.3h1M377 394.3h1M402 394.3h1M405 394.3h1M413 394.3h1M430 394.3h1M433 394.3h1M446 394.3h1M452 394.3h1M456 394.3h1M9 402.0h1M12 402.0h1M50 402.0h1M65 402.0h1M77 402.0h1M91 402.0h1M94 402.0h1M112 402.0h1M119 402.0h1M169 402.0h1M180 402.0h2M254 402.0h1M281 402.0h1M323 402.0h1M333 402.0h1M373 402.0h1M395 402.0h1M437 402.0h1M7 409.7h1M40 409.7h1M52 409.7h1M65 409.7h1M107 409.7h2M110 409.7h1M187 409.7h1M201 409.7h3M221 409.7h1M234 409.7h1M265 409.7h1M316 409.7h1M370 409.7h1M374 409.7h1M414 409.7h1M430 409.7h1M33 417.4h1M37 417.4h1M50 417.4h1M66 417.4h1M115 417.4h1M131 417.4h1M156 417.4h1M160 417.4h1M163 417.4h1M174 417.4h1M177 417.4h1M180 417.4h1M183 417.4h1M214 417.4h1M216 417.4h1M320 417.4h1M340 417.4h1M373 417.4h1M429 417.4h1M468 417.4h1M29 425.0h1M66 425.0h1M72 425.0h1M99 425.0h3M110 425.0h1M127 425.0h1M146 425.0h1M152 425.0h1M166 425.0h1M168 425.0h1M177 425.0h2M208 425.0h1M322 425.0h1M339 425.0h1M373 425.0h1M408 425.0h1M416 425.0h2M429 425.0h1M461 425.0h1M16 432.7h1M25 432.7h1M29 432.7h1M32 432.7h2M77 432.7h1M88 432.7h1M111 432.7h1M115 432.7h1M119 432.7h1M128 432.7h1M140 432.7h1M142 432.7h1M165 432.7h1M189 432.7h1M193 432.7h1M195 432.7h1M199 432.7h1M224 432.7h1M237 432.7h1M247 432.7h1M266 432.7h1M316 432.7h1M336 432.7h1M367 432.7h1M377 432.7h1M388 432.7h1M417 432.7h1M445 432.7h1M24 440.4h1M79 440.4h1M81 440.4h1M90 440.4h1M135 440.4h1M165 440.4h1M172 440.4h1M185 440.4h1M212 440.4h2M221 440.4h1M276 440.4h1M413 440.4h1M436 440.4h1M445 440.4h1M8 448.1h1M12 448.1h1M19 448.1h1M40 448.1h1M49 448.1h1M151 448.1h1M184 448.1h1M229 448.1h1M355 448.1h1M382 448.1h1M403 448.1h1M410 448.1h1M430 448.1h1M449 448.1h1M16 455.8h1M18 455.8h1M23 455.8h2M27 455.8h1M54 455.8h1M85 455.8h1M91 455.8h1M101 455.8h1M107 455.8h1M126 455.8h1M166 455.8h1M168 455.8h1M176 455.8h1M178 455.8h2M184 455.8h1M192 455.8h1M204 455.8h1M220 455.8h1M373 455.8h1M435 455.8h1M448 455.8h1M453 455.8h1M37 463.4h1M39 463.4h1M51 463.4h1M57 463.4h1M69 463.4h1M87 463.4h1M104 463.4h1M124 463.4h1M135 463.4h1M160 463.4h1M166 463.4h1M230 463.4h1M241 463.4h1M251 463.4h1M266 463.4h1M268 463.4h1M278 463.4h1M302 463.4h1M307 463.4h1M341 463.4h1M351 463.4h1M353 463.4h1M359 463.4h1M405 463.4h1M415 463.4h1M437 463.4h1M445 463.4h1M462 463.4h1M20 471.1h1M33 471.1h1M39 471.1h1M59 471.1h1M88 471.1h1M98 471.1h1M112 471.1h1M138 471.1h1M191 471.1h1M198 471.1h1M263 471.1h1M277 471.1h2M310 471.1h1M355 471.1h1M359 471.1h1M370 471.1h1M415 471.1h1M429 471.1h1M438 471.1h1M455 471.1h1M462 471.1h1M10 478.8h1M27 478.8h1M34 478.8h1M42 478.8h1M47 478.8h2M59 478.8h1M75 478.8h1M87 478.8h1M165 478.8h1M195 478.8h1M197 478.8h1M213 478.8h1M216 478.8h1M271 478.8h1M282 478.8h2M289 478.8h1M294 478.8h1M299 478.8h1M331 478.8h1M339 478.8h1M358 478.8h1M383 478.8h1M388 478.8h1M455 478.8h1M17 486.5h1M22 486.5h1M56 486.5h1M61 486.5h1M99 486.5h1M118 486.5h1M147 486.5h1M157 486.5h1M162 486.5h1M173 486.5h1M223 486.5h1M235 486.5h1M257 486.5h1M281 486.5h2M306 486.5h1M357 486.5h1M379 486.5h1M396 486.5h2M413 486.5h1M441 486.5h1M466 486.5h1M469 486.5h1M23 494.2h1M60 494.2h1M63 494.2h1M72 494.2h1M102 494.2h1M114 494.2h1M178 494.2h1M195 494.2h1M201 494.2h1M241 494.2h1M243 494.2h1M267 494.2h1M314 494.2h1M317 494.2h2M347 494.2h1M360 494.2h1M371 494.2h1M380 494.2h1M421 494.2h1M437 494.2h1M443 494.2h1M452 494.2h1M34 501.8h1M40 501.8h1M85 501.8h1M102 501.8h1M105 501.8h1M136 501.8h1M142 501.8h1M195 501.8h1M201 501.8h1M206 501.8h1M270 501.8h1M290 501.8h1M299 501.8h1M313 501.8h1M324 501.8h1M330 501.8h1M357 501.8h1M412 501.8h1M416 501.8h1M419 501.8h1M423 501.8h1M430 501.8h1M441 501.8h1M443 501.8h2M468 501.8h2M7 509.5h1M81 509.5h1M85 509.5h1M114 509.5h1M118 509.5h1M154 509.5h1M160 509.5h2M173 509.5h1M180 509.5h1M198 509.5h1M231 509.5h1M246 509.5h1M262 509.5h2M278 509.5h1M312 509.5h1M331 509.5h1M365 509.5h1M374 509.5h1M378 509.5h1M433 509.5h1M20 517.2h1M49 517.2h1M97 517.2h1M101 517.2h1M120 517.2h1M134 517.2h1M155 517.2h1M167 517.2h1M263 517.2h1M314 517.2h1M334 517.2h1M371 517.2h1M409 517.2h1M437 517.2h1M469 517.2h1M16 524.9h1M30 524.9h1M38 524.9h2M118 524.9h1M162 524.9h1M263 524.9h1M265 524.9h1M290 524.9h1M306 524.9h1M308 524.9h1M365 524.9h1M367 524.9h1M369 524.9h1M379 524.9h1M410 524.9h1M435 524.9h1M446 524.9h1M457 524.9h1M45 532.6h1M59 532.6h1M81 532.6h1M91 532.6h1M100 532.6h1M124 532.6h2M155 532.6h1M180 532.6h1M192 532.6h1M201 532.6h1M237 532.6h1M265 532.6h1M293 532.6h1M305 532.6h1M312 532.6h1M330 532.6h1M338 532.6h1M347 532.6h1M351 532.6h1M369 532.6h1M412 532.6h1M432 532.6h1M439 532.6h2M444 532.6h1M461 532.6h1M58 540.2h1M63 540.2h1M70 540.2h1M76 540.2h1M81 540.2h1M91 540.2h1M125 540.2h1M128 540.2h1M131 540.2h1M204 540.2h1M224 540.2h1M235 540.2h1M285 540.2h1M318 540.2h1M336 540.2h1M407 540.2h1M425 540.2h1M445 540.2h1M468 540.2h1" stroke="#f7c3b2" stroke-width="7.68"/><path d="M40 309.8h1M85 309.8h1M90 309.8h1M124 309.8h1M137 309.8h1M146 309.8h1M152 309.8h1M155 309.8h1M171 309.8h1M181 309.8h1M188 309.8h1M257 309.8h1M284 309.8h1M352 309.8h1M390 309.8h1M442 309.8h1M453 309.8h1M10 317.5h1M13 317.5h2M31 317.5h1M33 317.5h1M35 317.5h1M51 317.5h1M66 317.5h1M69 317.5h1M80 317.5h1M93 317.5h1M101 317.5h1M113 317.5h1M150 317.5h1M173 317.5h1M183 317.5h1M204 317.5h1M217 317.5h1M227 317.5h1M231 317.5h1M263 317.5h1M283 317.5h1M359 317.5h1M445 317.5h2M455 317.5h1M464 317.5h1M13 325.2h1M23 325.2h1M30 325.2h1M43 325.2h1M50 325.2h1M117 325.2h1M119 325.2h1M141 325.2h1M169 325.2h1M178 325.2h1M184 325.2h1M192 325.2h1M209 325.2h1M211 325.2h1M260 325.2h1M275 325.2h1M280 325.2h1M322 325.2h1M380 325.2h1M395 325.2h1M462 325.2h1M14 332.9h2M20 332.9h1M26 332.9h1M34 332.9h1M40 332.9h1M55 332.9h1M80 332.9h1M88 332.9h1M101 332.9h1M105 332.9h1M113 332.9h1M125 332.9h1M127 332.9h1M145 332.9h1M180 332.9h1M184 332.9h1M204 332.9h1M206 332.9h1M215 332.9h1M230 332.9h1M257 332.9h1M16 340.6h1M36 340.6h1M38 340.6h1M49 340.6h1M58 340.6h1M69 340.6h1M88 340.6h1M102 340.6h1M108 340.6h1M128 340.6h1M133 340.6h1M140 340.6h1M150 340.6h1M175 340.6h1M202 340.6h1M204 340.6h1M206 340.6h1M220 340.6h1M223 340.6h1M346 340.6h1M447 340.6h1M449 340.6h1M7 348.2h1M35 348.2h1M51 348.2h1M55 348.2h1M64 348.2h1M68 348.2h1M79 348.2h2M109 348.2h1M113 348.2h1M117 348.2h1M126 348.2h1M171 348.2h1M176 348.2h1M230 348.2h1M433 348.2h1M448 348.2h1M457 348.2h1M7 355.9h1M28 355.9h2M79 355.9h2M132 355.9h1M140 355.9h1M159 355.9h1M171 355.9h1M180 355.9h1M183 355.9h1M185 355.9h1M234 355.9h1M377 355.9h1M389 355.9h1M392 355.9h1M402 355.9h1M423 355.9h1M449 355.9h1M57 363.6h1M69 363.6h1M103 363.6h1M105 363.6h1M114 363.6h1M119 363.6h1M127 363.6h1M147 363.6h1M176 363.6h1M203 363.6h1M220 363.6h2M276 363.6h1M347 363.6h1M374 363.6h1M409 363.6h1M412 363.6h1M423 363.6h1M457 363.6h2M460 363.6h1M10 371.3h1M14 371.3h1M33 371.3h1M69 371.3h1M77 371.3h1M91 371.3h2M99 371.3h1M109 371.3h1M125 371.3h1M130 371.3h1M160 371.3h2M276 371.3h1M346 371.3h1M388 371.3h1M396 371.3h1M413 371.3h1M427 371.3h1M430 371.3h1M446 371.3h1M462 371.3h1M13 379.0h1M38 379.0h1M48 379.0h1M69 379.0h1M108 379.0h1M116 379.0h1M144 379.0h1M180 379.0h2M278 379.0h1M280 379.0h1M286 379.0h1M298 379.0h1M396 379.0h1M404 379.0h1M406 379.0h1M412 379.0h1M426 379.0h1M429 379.0h1M123 386.6h1M138 386.6h1M163 386.6h1M198 386.6h1M203 386.6h2M232 386.6h1M258 386.6h1M261 386.6h1M264 386.6h1M365 386.6h2M389 386.6h2M66 394.3h2M81 394.3h1M118 394.3h1M131 394.3h1M134 394.3h2M138 394.3h1M166 394.3h1M183 394.3h1M185 394.3h1M207 394.3h1M231 394.3h1M233 394.3h1M259 394.3h1M279 394.3h1M296 394.3h1M340 394.3h1M363 394.3h1M380 394.3h1M382 394.3h1M390 394.3h1M418 394.3h1M422 394.3h1M444 394.3h1M447 394.3h1M457 394.3h1M32 402.0h1M71 402.0h1M125 402.0h2M135 402.0h1M170 402.0h1M173 402.0h1M185 402.0h1M199 402.0h1M209 402.0h1M233 402.0h1M359 402.0h1M407 402.0h2M427 402.0h1M465 402.0h1M17 409.7h1M19 409.7h2M25 409.7h1M30 409.7h1M72 409.7h1M117 409.7h1M124 409.7h1M145 409.7h1M154 409.7h1M181 409.7h1M184 409.7h1M204 409.7h1M232 409.7h1M245 409.7h1M248 409.7h1M266 409.7h1M277 409.7h1M279 409.7h1M301 409.7h1M319 409.7h1M331 409.7h1M342 409.7h1M352 409.7h1M366 409.7h1M410 409.7h1M12 417.4h1M23 417.4h1M34 417.4h1M36 417.4h1M77 417.4h1M105 417.4h1M114 417.4h1M138 417.4h1M141 417.4h1M150 417.4h1M194 417.4h1M198 417.4h1M215 417.4h1M227 417.4h1M229 417.4h1M231 417.4h1M236 417.4h1M281 417.4h1M331 417.4h1M417 417.4h1M449 417.4h1M452 417.4h1M12 425.0h1M25 425.0h1M33 425.0h1M38 425.0h1M65 425.0h1M121 425.0h1M186 425.0h1M199 425.0h1M202 425.0h1M214 425.0h1M241 425.0h1M266 425.0h1M434 425.0h1M448 425.0h1M454 425.0h1M44 432.7h1M56 432.7h1M65 432.7h1M118 432.7h1M125 432.7h1M158 432.7h1M179 432.7h1M184 432.7h3M250 432.7h1M366 432.7h1M16 440.4h1M25 440.4h1M45 440.4h1M101 440.4h1M134 440.4h1M207 440.4h1M223 440.4h1M228 440.4h1M237 440.4h1M258 440.4h1M447 440.4h2M13 448.1h1M31 448.1h1M39 448.1h1M44 448.1h3M65 448.1h1M67 448.1h1M78 448.1h1M103 448.1h1M108 448.1h1M118 448.1h1M132 448.1h1M137 448.1h1M161 448.1h1M167 448.1h1M186 448.1h1M231 448.1h1M255 448.1h1M272 448.1h1M324 448.1h1M8 455.8h1M30 455.8h1M46 455.8h2M65 455.8h1M89 455.8h1M97 455.8h1M102 455.8h1M115 455.8h1M123 455.8h1M132 455.8h1M135 455.8h2M139 455.8h1M144 455.8h1M180 455.8h1M196 455.8h1M285 455.8h1M331 455.8h1M399 455.8h1M430 455.8h1M445 455.8h1M461 455.8h1M29 463.4h1M34 463.4h2M88 463.4h1M134 463.4h1M164 463.4h1M169 463.4h1M225 463.4h1M258 463.4h1M270 463.4h1M274 463.4h1M277 463.4h1M293 463.4h1M295 463.4h2M301 463.4h1M329 463.4h1M332 463.4h2M349 463.4h1M360 463.4h1M422 463.4h1M427 463.4h1M432 463.4h1M439 463.4h1M13 471.1h1M86 471.1h1M164 471.1h1M190 471.1h1M261 471.1h1M265 471.1h1M290 471.1h1M300 471.1h1M311 471.1h1M357 471.1h1M388 471.1h1M390 471.1h1M457 471.1h1M76 478.8h1M104 478.8h1M115 478.8h1M144 478.8h1M196 478.8h1M204 478.8h1M241 478.8h1M263 478.8h1M303 478.8h1M306 478.8h1M312 478.8h1M387 478.8h1M402 478.8h1M16 486.5h1M19 486.5h2M39 486.5h2M69 486.5h1M114 486.5h1M117 486.5h1M159 486.5h1M161 486.5h1M167 486.5h1M229 486.5h1M247 486.5h1M258 486.5h1M271 486.5h2M291 486.5h1M324 486.5h1M367 486.5h1M373 486.5h1M382 486.5h1M400 486.5h1M415 486.5h1M417 486.5h1M427 486.5h1M429 486.5h1M19 494.2h2M49 494.2h1M53 494.2h1M56 494.2h1M164 494.2h1M222 494.2h1M235 494.2h1M294 494.2h1M296 494.2h1M302 494.2h1M353 494.2h1M361 494.2h2M381 494.2h1M411 494.2h1M419 494.2h1M429 494.2h1M447 494.2h1M460 494.2h1M38 501.8h1M86 501.8h1M95 501.8h1M118 501.8h1M161 501.8h1M218 501.8h1M253 501.8h1M268 501.8h1M271 501.8h1M279 501.8h1M285 501.8h1M289 501.8h1M317 501.8h1M338 501.8h1M353 501.8h1M370 501.8h1M390 501.8h1M413 501.8h1M427 501.8h1M442 501.8h1M446 501.8h1M41 509.5h1M50 509.5h1M56 509.5h1M79 509.5h1M87 509.5h1M136 509.5h1M194 509.5h1M196 509.5h1M217 509.5h1M257 509.5h2M266 509.5h1M284 509.5h1M313 509.5h1M336 509.5h3M341 509.5h1M372 509.5h1M428 509.5h1M457 509.5h1M23 517.2h1M46 517.2h1M78 517.2h1M81 517.2h1M162 517.2h1M208 517.2h1M213 517.2h1M244 517.2h1M255 517.2h1M265 517.2h1M302 517.2h1M340 517.2h1M361 517.2h1M389 517.2h1M405 517.2h1M434 517.2h1M436 517.2h1M458 517.2h1M464 517.2h1M142 524.9h1M218 524.9h1M352 524.9h1M432 524.9h1M462 524.9h2M465 524.9h1M11 532.6h1M19 532.6h1M110 532.6h1M162 532.6h1M193 532.6h1M202 532.6h1M313 532.6h1M318 532.6h1M355 532.6h1M364 532.6h1M381 532.6h1M386 532.6h1M390 532.6h1M434 532.6h1M443 532.6h1M449 532.6h1M24 540.2h1M45 540.2h1M48 540.2h1M52 540.2h1M68 540.2h1M99 540.2h1M121 540.2h1M123 540.2h1M168 540.2h1M220 540.2h1M230 540.2h1M237 540.2h1M248 540.2h1M314 540.2h1M392 540.2h1M417 540.2h1M423 540.2h1M436 540.2h1" stroke="#f5b6a3" stroke-width="7.68"/><path d="M67 309.8h1M100 309.8h1M130 309.8h1M186 309.8h1M272 309.8h1M373 309.8h1M397 309.8h1M399 309.8h1M445 309.8h1M465 309.8h1M469 309.8h1M20 317.5h1M23 317.5h1M111 317.5h1M126 317.5h1M147 317.5h1M377 317.5h1M459 317.5h1M463 317.5h1M10 325.2h1M19 325.2h1M33 325.2h1M45 325.2h1M124 325.2h1M130 325.2h1M132 325.2h1M138 325.2h1M154 325.2h1M158 325.2h1M201 325.2h1M274 325.2h1M363 325.2h1M440 325.2h1M451 325.2h2M455 325.2h1M24 332.9h1M28 332.9h1M33 332.9h1M89 332.9h1M104 332.9h1M107 332.9h1M128 332.9h1M141 332.9h1M144 332.9h1M154 332.9h2M175 332.9h1M186 332.9h1M193 332.9h1M203 332.9h1M212 332.9h1M217 332.9h1M237 332.9h1M342 332.9h1M382 332.9h1M454 332.9h1M28 340.6h1M31 340.6h2M105 340.6h1M114 340.6h1M134 340.6h1M181 340.6h1M232 340.6h1M342 340.6h1M24 348.2h1M36 348.2h1M42 348.2h1M49 348.2h1M78 348.2h1M116 348.2h1M131 348.2h1M135 348.2h1M137 348.2h1M146 348.2h1M184 348.2h1M206 348.2h1M217 348.2h1M290 348.2h1M449 348.2h1M9 355.9h1M14 355.9h1M19 355.9h1M25 355.9h1M44 355.9h1M88 355.9h1M90 355.9h1M106 355.9h1M136 355.9h1M233 355.9h1M235 355.9h1M417 355.9h1M456 355.9h1M23 363.6h1M25 363.6h1M98 363.6h1M140 363.6h1M167 363.6h1M172 363.6h1M178 363.6h1M182 363.6h1M185 363.6h1M225 363.6h1M253 363.6h1M402 363.6h1M410 363.6h1M416 363.6h1M424 363.6h1M447 363.6h1M456 363.6h1M29 371.3h1M95 371.3h2M107 371.3h1M140 371.3h1M146 371.3h1M149 371.3h1M180 371.3h1M202 371.3h1M209 371.3h1M296 371.3h1M399 371.3h1M436 371.3h1M439 371.3h1M447 371.3h2M12 379.0h1M80 379.0h1M133 379.0h2M152 379.0h1M154 379.0h1M174 379.0h1M176 379.0h1M236 379.0h1M266 379.0h1M277 379.0h1M321 379.0h1M367 379.0h1M390 379.0h1M408 379.0h1M424 379.0h1M432 379.0h1M445 379.0h1M62 386.6h1M97 386.6h1M105 386.6h1M113 386.6h1M168 386.6h1M180 386.6h1M184 386.6h1M200 386.6h1M279 386.6h1M284 386.6h1M295 386.6h1M396 386.6h1M406 386.6h1M411 386.6h1M457 386.6h1M26 394.3h1M47 394.3h1M90 394.3h1M92 394.3h1M95 394.3h2M106 394.3h1M132 394.3h1M139 394.3h1M171 394.3h1M184 394.3h1M187 394.3h1M202 394.3h1M210 394.3h1M215 394.3h1M230 394.3h1M359 394.3h1M389 394.3h1M419 394.3h1M426 394.3h1M436 394.3h1M442 394.3h2M448 394.3h1M465 394.3h1M68 402.0h2M81 402.0h1M85 402.0h1M87 402.0h1M93 402.0h1M113 402.0h1M123 402.0h1M163 402.0h1M165 402.0h1M168 402.0h1M171 402.0h1M207 402.0h1M210 402.0h2M213 402.0h2M228 402.0h1M278 402.0h1M368 402.0h1M426 402.0h1M432 402.0h1M461 402.0h1M11 409.7h1M13 409.7h1M23 409.7h1M26 409.7h1M28 409.7h1M49 409.7h1M67 409.7h1M78 409.7h1M128 409.7h1M136 409.7h1M155 409.7h1M159 409.7h1M161 409.7h1M198 409.7h1M206 409.7h1M209 409.7h1M216 409.7h1M220 409.7h1M237 409.7h1M317 409.7h1M421 409.7h1M16 417.4h1M47 417.4h1M80 417.4h2M99 417.4h1M110 417.4h1M142 417.4h1M145 417.4h1M152 417.4h1M184 417.4h1M220 417.4h1M232 417.4h1M276 417.4h1M415 417.4h1M11 425.0h1M23 425.0h1M46 425.0h1M69 425.0h1M81 425.0h1M154 425.0h1M173 425.0h1M250 425.0h1M292 425.0h1M319 425.0h2M361 425.0h1M401 425.0h1M406 425.0h1M435 425.0h1M445 425.0h1M11 432.7h1M30 432.7h1M35 432.7h2M40 432.7h1M43 432.7h1M48 432.7h1M90 432.7h1M96 432.7h1M135 432.7h1M141 432.7h1M154 432.7h1M169 432.7h1M171 432.7h1M183 432.7h1M196 432.7h1M201 432.7h1M324 432.7h1M335 432.7h1M359 432.7h1M30 440.4h1M59 440.4h1M64 440.4h1M69 440.4h1M78 440.4h1M94 440.4h1M96 440.4h1M98 440.4h1M110 440.4h1M123 440.4h1M127 440.4h2M148 440.4h1M161 440.4h1M191 440.4h1M208 440.4h1M234 440.4h1M236 440.4h1M323 440.4h1M330 440.4h1M59 448.1h1M77 448.1h1M98 448.1h1M105 448.1h2M127 448.1h1M133 448.1h1M146 448.1h1M152 448.1h1M157 448.1h1M166 448.1h1M180 448.1h1M203 448.1h1M220 448.1h1M230 448.1h1M404 448.1h1M11 455.8h1M26 455.8h1M42 455.8h1M53 455.8h1M67 455.8h1M100 455.8h1M110 455.8h1M114 455.8h1M117 455.8h1M163 455.8h1M165 455.8h1M187 455.8h1M189 455.8h1M203 455.8h1M217 455.8h1M417 455.8h1M7 463.4h1M10 463.4h1M23 463.4h1M30 463.4h1M56 463.4h1M61 463.4h1M63 463.4h1M109 463.4h1M244 463.4h1M265 463.4h1M299 463.4h1M324 463.4h1M348 463.4h1M361 463.4h1M376 463.4h1M383 463.4h1M444 463.4h1M458 463.4h1M44 471.1h1M58 471.1h1M69 471.1h1M266 471.1h1M326 471.1h1M349 471.1h1M381 471.1h1M441 471.1h1M62 478.8h1M110 478.8h1M243 478.8h1M250 478.8h1M281 478.8h1M285 478.8h1M315 478.8h1M428 478.8h1M437 478.8h2M457 478.8h1M469 478.8h1M30 486.5h1M75 486.5h1M126 486.5h1M143 486.5h1M165 486.5h1M198 486.5h1M221 486.5h1M241 486.5h1M254 486.5h1M302 486.5h1M378 486.5h1M432 486.5h1M452 486.5h1M90 494.2h1M96 494.2h1M106 494.2h1M134 494.2h1M148 494.2h1M151 494.2h1M202 494.2h1M279 494.2h1M332 494.2h1M29 501.8h1M58 501.8h1M173 501.8h1M188 501.8h1M224 501.8h1M252 501.8h1M336 501.8h1M362 501.8h1M375 501.8h1M405 501.8h1M437 501.8h1M448 501.8h1M11 509.5h1M31 509.5h1M53 509.5h1M68 509.5h1M74 509.5h1M77 509.5h1M110 509.5h1M197 509.5h1M235 509.5h1M250 509.5h1M292 509.5h1M302 509.5h2M308 509.5h1M359 509.5h1M434 509.5h1M455 509.5h1M7 517.2h1M35 517.2h1M63 517.2h1M129 517.2h1M135 517.2h1M185 517.2h1M188 517.2h1M202 517.2h1M243 517.2h1M294 517.2h1M373 517.2h1M398 517.2h1M455 517.2h1M18 524.9h1M55 524.9h1M68 524.9h1M117 524.9h1M167 524.9h1M196 524.9h1M231 524.9h1M277 524.9h1M285 524.9h1M361 524.9h1M388 524.9h1M406 524.9h1M436 524.9h1M454 524.9h2M39 532.6h1M123 532.6h1M135 532.6h1M190 532.6h1M210 532.6h1M244 532.6h1M270 532.6h1M277 532.6h1M308 532.6h1M354 532.6h1M393 532.6h1M417 532.6h1M47 540.2h1M53 540.2h1M110 540.2h1M132 540.2h1M134 540.2h1M145 540.2h1M186 540.2h1M191 540.2h1M193 540.2h1M202 540.2h2M210 540.2h1M247 540.2h1M252 540.2h1M257 540.2h1M263 540.2h1M404 540.2h1M421 540.2h1M429 540.2h1M437 540.2h1M446 540.2h1" stroke="#f3a894" stroke-width="7.68"/><path d="M33 309.8h1M44 309.8h1M142 309.8h1M157 309.8h1M386 309.8h1M26 317.5h1M29 317.5h1M41 317.5h2M73 317.5h1M77 317.5h1M81 317.5h1M85 317.5h1M89 317.5h1M142 317.5h1M148 317.5h1M182 317.5h1M188 317.5h2M192 317.5h1M196 317.5h1M202 317.5h1M216 317.5h1M220 317.5h1M225 317.5h1M232 317.5h1M247 317.5h1M267 317.5h1M281 317.5h1M324 317.5h1M435 317.5h1M448 317.5h1M107 325.2h1M116 325.2h1M203 325.2h1M454 325.2h1M11 332.9h1M16 332.9h1M19 332.9h1M25 332.9h1M43 332.9h1M50 332.9h1M69 332.9h1M85 332.9h1M90 332.9h1M111 332.9h1M119 332.9h1M134 332.9h1M136 332.9h1M165 332.9h1M247 332.9h1M324 332.9h1M359 332.9h1M11 340.6h1M35 340.6h1M51 340.6h1M57 340.6h1M66 340.6h1M71 340.6h1M120 340.6h1M132 340.6h1M135 340.6h1M139 340.6h1M142 340.6h1M158 340.6h1M182 340.6h1M230 340.6h1M445 340.6h1M454 340.6h1M21 348.2h1M45 348.2h1M59 348.2h2M81 348.2h1M103 348.2h1M106 348.2h1M112 348.2h1M114 348.2h1M118 348.2h1M125 348.2h1M138 348.2h1M150 348.2h1M158 348.2h1M196 348.2h1M207 348.2h1M413 348.2h1M24 355.9h1M56 355.9h1M59 355.9h1M128 355.9h1M141 355.9h1M178 355.9h1M181 355.9h1M196 355.9h1M208 355.9h1M216 355.9h1M296 355.9h1M373 355.9h1M403 355.9h1M410 355.9h1M415 355.9h1M429 355.9h1M454 355.9h1M465 355.9h1M88 363.6h1M108 363.6h1M143 363.6h1M152 363.6h1M323 363.6h1M348 363.6h1M386 363.6h1M419 363.6h1M432 363.6h1M435 363.6h1M461 363.6h1M30 371.3h1M66 371.3h1M68 371.3h1M78 371.3h1M111 371.3h1M135 371.3h1M152 371.3h1M179 371.3h1M204 371.3h1M220 371.3h1M223 371.3h1M229 371.3h1M233 371.3h1M258 371.3h1M279 371.3h1M330 371.3h1M368 371.3h1M407 371.3h1M429 371.3h1M10 379.0h1M14 379.0h1M46 379.0h1M59 379.0h1M72 379.0h1M93 379.0h1M113 379.0h1M135 379.0h1M137 379.0h1M141 379.0h1M149 379.0h1M162 379.0h1M200 379.0h1M263 379.0h1M265 379.0h1M275 379.0h1M283 379.0h1M373 379.0h1M8 386.6h1M16 386.6h1M104 386.6h1M116 386.6h1M122 386.6h1M141 386.6h1M148 386.6h1M150 386.6h1M179 386.6h1M193 386.6h1M207 386.6h1M373 386.6h1M401 386.6h1M417 386.6h1M421 386.6h1M64 394.3h1M78 394.3h1M93 394.3h1M99 394.3h1M102 394.3h1M121 394.3h1M213 394.3h1M226 394.3h1M255 394.3h1M281 394.3h1M383 394.3h1M401 394.3h1M421 394.3h1M431 394.3h2M445 394.3h1M453 394.3h1M468 394.3h1M60 402.0h1M98 402.0h2M146 402.0h1M152 402.0h1M155 402.0h1M175 402.0h1M221 402.0h1M231 402.0h1M322 402.0h1M447 402.0h1M16 409.7h1M69 409.7h1M80 409.7h1M99 409.7h1M104 409.7h2M115 409.7h1M123 409.7h1M144 409.7h1M148 409.7h1M156 409.7h1M163 409.7h1M193 409.7h1M195 409.7h1M223 409.7h2M230 409.7h1M242 409.7h1M320 409.7h1M346 409.7h1M396 409.7h1M413 409.7h1M432 409.7h1M46 417.4h1M68 417.4h1M79 417.4h1M85 417.4h1M96 417.4h1M122 417.4h1M196 417.4h1M223 417.4h1M323 417.4h1M413 417.4h1M445 417.4h1M10 425.0h1M31 425.0h1M41 425.0h1M44 425.0h1M64 425.0h1M74 425.0h1M115 425.0h1M142 425.0h1M188 425.0h1M228 425.0h1M246 425.0h1M253 425.0h1M278 425.0h1M419 425.0h1M14 432.7h1M110 432.7h1M112 432.7h1M130 432.7h1M134 432.7h1M137 432.7h1M149 432.7h1M172 432.7h1M178 432.7h1M202 432.7h1M210 432.7h1M279 432.7h1M308 432.7h1M382 432.7h1M10 440.4h1M67 440.4h1M118 440.4h1M147 440.4h1M181 440.4h1M231 440.4h1M373 440.4h1M16 448.1h1M26 448.1h1M57 448.1h1M93 448.1h1M143 448.1h1M173 448.1h1M192 448.1h1M204 448.1h1M209 448.1h1M213 448.1h1M359 448.1h1M364 448.1h1M418 448.1h1M454 448.1h1M29 455.8h1M80 455.8h1M90 455.8h1M143 455.8h1M161 455.8h1M182 455.8h1M232 455.8h1M235 455.8h1M422 455.8h1M429 455.8h1M33 463.4h1M50 463.4h1M64 463.4h1M70 463.4h1M73 463.4h1M80 463.4h1M138 463.4h1M245 463.4h1M269 463.4h1M310 463.4h1M323 463.4h1M325 463.4h1M352 463.4h1M354 463.4h1M369 463.4h1M423 463.4h1M441 463.4h1M22 471.1h1M71 471.1h1M73 471.1h1M127 471.1h1M154 471.1h1M185 471.1h1M243 471.1h1M296 471.1h1M302 471.1h1M360 471.1h1M417 471.1h1M425 471.1h1M187 478.8h1M230 478.8h1M343 478.8h1M352 478.8h1M408 478.8h1M412 478.8h1M35 486.5h1M45 486.5h2M62 486.5h1M77 486.5h1M164 486.5h1M204 486.5h1M219 486.5h1M237 486.5h1M245 486.5h1M303 486.5h1M311 486.5h2M412 486.5h1M437 486.5h1M47 494.2h1M88 494.2h1M185 494.2h2M213 494.2h1M237 494.2h1M282 494.2h1M290 494.2h1M343 494.2h1M382 494.2h1M457 494.2h1M463 494.2h1M42 501.8h1M87 501.8h1M97 501.8h1M162 501.8h1M191 501.8h1M194 501.8h1M235 501.8h1M349 501.8h1M447 501.8h1M42 509.5h1M57 509.5h1M148 509.5h1M177 509.5h1M249 509.5h1M297 509.5h1M301 509.5h1M355 509.5h1M404 509.5h1M443 509.5h1M99 517.2h1M137 517.2h2M147 517.2h1M211 517.2h2M321 517.2h1M356 517.2h1M359 517.2h1M408 517.2h1M414 517.2h1M418 517.2h1M422 517.2h1M23 524.9h1M140 524.9h1M153 524.9h1M186 524.9h1M211 524.9h1M213 524.9h1M224 524.9h1M301 524.9h1M338 524.9h1M405 524.9h1M459 524.9h1M50 532.6h1M129 532.6h1M164 532.6h1M169 532.6h1M176 532.6h1M196 532.6h1M249 532.6h1M252 532.6h1M342 532.6h1M410 532.6h1M462 532.6h1M50 540.2h1M90 540.2h1M157 540.2h1M198 540.2h1M243 540.2h1M330 540.2h1M337 540.2h1M359 540.2h1M405 540.2h1M434 540.2h1M441 540.2h1" stroke="#f09b86" stroke-width="7.68"/><path d="M41 309.8h1M68 309.8h1M107 309.8h1M138 309.8h1M154 309.8h1M269 309.8h1M288 309.8h1M295 309.8h1M377 309.8h1M449 309.8h1M464 309.8h1M12 317.5h1M18 317.5h1M32 317.5h1M47 317.5h1M57 317.5h1M108 317.5h1M131 317.5h1M152 317.5h1M155 317.5h1M163 317.5h1M172 317.5h1M187 317.5h1M266 317.5h1M393 317.5h1M12 325.2h1M89 325.2h1M103 325.2h1M106 325.2h1M146 325.2h1M181 325.2h1M282 325.2h1M375 325.2h1M449 325.2h1M453 325.2h1M21 332.9h1M32 332.9h1M36 332.9h1M72 332.9h1M76 332.9h1M100 332.9h1M121 332.9h1M157 332.9h1M168 332.9h1M188 332.9h1M213 332.9h1M373 332.9h1M436 332.9h1M14 340.6h1M18 340.6h1M20 340.6h1M26 340.6h1M50 340.6h1M59 340.6h1M96 340.6h1M103 340.6h1M111 340.6h1M118 340.6h1M137 340.6h1M171 340.6h1M173 340.6h1M184 340.6h1M192 340.6h1M10 348.2h1M25 348.2h1M122 348.2h1M127 348.2h1M130 348.2h1M140 348.2h1M186 348.2h1M188 348.2h1M455 348.2h1M131 355.9h1M142 355.9h1M202 355.9h1M206 355.9h1M228 355.9h1M93 363.6h1M113 363.6h1M116 363.6h1M146 363.6h1M181 363.6h1M207 363.6h1M401 363.6h1M446 363.6h1M49 371.3h1M55 371.3h1M58 371.3h1M79 371.3h1M117 371.3h1M132 371.3h1M177 371.3h1M193 371.3h1M199 371.3h1M263 371.3h1M265 371.3h2M370 371.3h1M449 371.3h1M67 379.0h1M124 379.0h1M142 379.0h1M147 379.0h1M186 379.0h1M433 379.0h1M14 386.6h1M34 386.6h1M51 386.6h1M69 386.6h1M96 386.6h1M133 386.6h1M142 386.6h1M188 386.6h1M424 386.6h1M427 386.6h1M435 386.6h1M449 386.6h1M461 386.6h1M40 394.3h1M120 394.3h1M136 394.3h1M199 394.3h1M217 394.3h1M300 394.3h1M331 394.3h1M409 394.3h1M412 394.3h1M110 402.0h1M131 402.0h1M133 402.0h1M140 402.0h1M176 402.0h1M178 402.0h1M200 402.0h1M259 402.0h1M410 402.0h1M433 402.0h1M448 402.0h1M458 402.0h1M9 409.7h1M33 409.7h1M44 409.7h1M47 409.7h1M88 409.7h1M91 409.7h1M132 409.7h1M143 409.7h1M147 409.7h1M174 409.7h1M196 409.7h1M205 409.7h1M215 409.7h1M225 409.7h1M435 409.7h1M30 417.4h1M132 417.4h1M134 417.4h1M137 417.4h1M171 417.4h1M9 425.0h1M40 425.0h1M97 425.0h1M135 425.0h2M148 425.0h1M209 425.0h1M231 425.0h1M243 425.0h1M245 425.0h1M346 425.0h1M377 425.0h1M447 425.0h1M18 432.7h1M42 432.7h1M69 432.7h1M98 432.7h1M155 432.7h1M167 432.7h1M175 432.7h1M194 432.7h1M236 432.7h1M331 432.7h1M431 432.7h1M460 432.7h1M464 432.7h1M9 440.4h1M17 440.4h1M48 440.4h1M52 440.4h1M99 440.4h1M107 440.4h1M116 440.4h1M119 440.4h1M121 440.4h2M146 440.4h1M182 440.4h1M193 440.4h1M196 440.4h1M449 440.4h1M452 440.4h1M66 448.1h1M74 448.1h1M89 448.1h1M121 448.1h1M142 448.1h1M215 448.1h2M226 448.1h1M228 448.1h1M20 455.8h1M25 455.8h1M44 455.8h1M64 455.8h1M103 455.8h1M122 455.8h1M125 455.8h1M137 455.8h1M154 455.8h1M208 455.8h1M216 455.8h1M226 455.8h2M366 455.8h1M416 455.8h1M8 463.4h1M40 463.4h1M42 463.4h1M167 463.4h1M213 463.4h1M250 463.4h1M294 463.4h1M306 463.4h1M317 463.4h1M381 463.4h1M46 471.1h1M55 471.1h1M63 471.1h1M237 471.1h1M259 471.1h1M289 471.1h1M394 471.1h1M97 478.8h1M145 478.8h1M314 478.8h1M350 478.8h1M359 478.8h1M411 478.8h1M427 478.8h1M452 478.8h1M135 486.5h1M148 486.5h1M195 486.5h1M222 486.5h1M244 486.5h1M259 486.5h1M294 486.5h1M297 486.5h1M327 486.5h1M366 486.5h1M405 486.5h1M443 486.5h1M137 494.2h1M140 494.2h1M160 494.2h1M187 494.2h1M209 494.2h1M244 494.2h1M322 494.2h1M338 494.2h1M354 494.2h1M416 494.2h1M440 494.2h1M41 501.8h1M60 501.8h1M257 501.8h1M294 501.8h1M303 501.8h1M312 501.8h1M352 501.8h1M382 501.8h1M395 501.8h1M410 501.8h1M454 501.8h1M63 509.5h1M141 509.5h1M209 509.5h1M265 509.5h1M332 509.5h1M382 509.5h1M405 509.5h1M458 509.5h1M462 509.5h1M465 509.5h1M50 517.2h1M86 517.2h1M121 517.2h1M149 517.2h1M154 517.2h1M194 517.2h1M216 517.2h1M254 517.2h1M378 517.2h1M392 517.2h1M461 517.2h1M22 524.9h1M92 524.9h1M191 524.9h1M225 524.9h1M294 524.9h1M341 524.9h1M137 532.6h1M160 532.6h1M188 532.6h1M219 532.6h1M299 532.6h1M415 532.6h1M429 532.6h1M450 532.6h1M44 540.2h1M78 540.2h1M166 540.2h1M179 540.2h1M211 540.2h1M216 540.2h1M458 540.2h1" stroke="#ee8e78" stroke-width="7.68"/><path d="M30 309.8h1M99 309.8h1M106 309.8h1M331 309.8h1M454 309.8h2M11 317.5h1M17 317.5h1M54 317.5h1M110 317.5h1M125 317.5h1M193 317.5h1M236 317.5h1M399 317.5h1M441 317.5h1M454 317.5h1M16 325.2h1M24 325.2h1M172 325.2h1M188 325.2h1M206 325.2h1M234 325.2h1M236 325.2h1M278 325.2h1M285 325.2h1M348 325.2h1M377 325.2h1M448 325.2h1M458 325.2h1M464 325.2h1M38 332.9h1M47 332.9h1M53 332.9h1M64 332.9h1M77 332.9h1M143 332.9h1M279 332.9h1M432 332.9h1M25 340.6h1M40 340.6h1M48 340.6h1M64 340.6h1M93 340.6h1M115 340.6h1M129 340.6h1M149 340.6h1M188 340.6h1M432 340.6h1M30 348.2h1M32 348.2h1M43 348.2h1M50 348.2h1M88 348.2h1M209 348.2h1M373 348.2h1M65 355.9h1M113 355.9h1M148 355.9h1M194 355.9h1M221 355.9h1M387 355.9h1M401 355.9h1M446 355.9h1M448 355.9h1M124 363.6h1M162 363.6h1M215 363.6h1M241 363.6h1M408 363.6h1M437 363.6h1M43 371.3h1M59 371.3h1M133 371.3h1M143 371.3h1M157 371.3h1M284 371.3h1M30 379.0h1M90 379.0h1M148 379.0h1M150 379.0h1M386 379.0h1M453 379.0h1M458 379.0h1M130 386.6h1M137 386.6h1M154 386.6h1M214 386.6h1M404 386.6h1M446 386.6h1M455 386.6h1M24 394.3h1M101 394.3h1M103 394.3h1M108 394.3h1M212 394.3h1M263 394.3h1M90 402.0h1M100 402.0h1M105 402.0h1M121 402.0h2M132 402.0h1M223 402.0h1M272 402.0h1M393 402.0h1M406 402.0h1M419 402.0h1M46 409.7h1M118 409.7h1M125 409.7h1M134 409.7h1M152 409.7h1M165 409.7h1M176 409.7h1M180 409.7h1M231 409.7h1M244 409.7h1M253 409.7h1M257 409.7h1M116 417.4h1M128 417.4h1M221 417.4h1M226 417.4h1M24 425.0h1M48 425.0h1M68 425.0h1M124 425.0h1M207 425.0h1M314 425.0h1M9 432.7h1M106 432.7h1M129 432.7h1M131 432.7h1M160 432.7h1M176 432.7h1M182 432.7h1M216 432.7h2M226 432.7h1M232 432.7h2M103 440.4h1M113 440.4h1M125 440.4h1M129 440.4h1M137 440.4h1M139 440.4h1M184 440.4h1M209 440.4h1M230 440.4h1M28 448.1h1M99 448.1h1M123 448.1h1M140 448.1h1M206 448.1h1M279 448.1h1M22 455.8h1M58 455.8h1M68 455.8h1M116 455.8h1M138 455.8h1M172 455.8h1M181 455.8h1M194 455.8h1M200 455.8h1M230 455.8h1M72 463.4h1M162 463.4h1M202 463.4h1M290 463.4h1M318 463.4h1M330 463.4h1M356 463.4h1M440 463.4h1M10 471.1h1M17 471.1h1M48 471.1h2M85 471.1h1M92 471.1h1M213 471.1h1M281 471.1h1M299 471.1h1M314 471.1h1M351 471.1h1M353 471.1h1M383 471.1h1M436 471.1h1M23 478.8h1M259 478.8h1M302 478.8h1M71 486.5h1M97 486.5h1M168 486.5h1M174 486.5h1M289 486.5h1M296 486.5h1M335 486.5h1M343 486.5h1M355 486.5h1M361 486.5h1M91 494.2h1M136 494.2h1M176 494.2h1M208 494.2h1M404 494.2h1M412 494.2h1M7 501.8h1M196 501.8h1M231 501.8h1M394 501.8h1M414 501.8h1M431 501.8h1M27 509.5h1M91 509.5h1M162 509.5h1M213 509.5h1M275 509.5h1M279 509.5h1M282 509.5h1M296 509.5h1M343 509.5h1M347 509.5h1M406 509.5h1M432 509.5h1M87 517.2h1M100 517.2h1M219 517.2h1M237 517.2h1M285 517.2h1M410 517.2h1M429 517.2h1M432 517.2h1M463 517.2h1M466 517.2h1M101 524.9h1M109 524.9h1M180 524.9h1M299 524.9h1M357 524.9h1M434 524.9h1M47 532.6h1M136 532.6h1M158 532.6h1M172 532.6h1M294 532.6h1M378 532.6h1M405 532.6h1M408 532.6h1M446 532.6h1M74 540.2h1M309 540.2h1M412 540.2h1" stroke="#ec826c" stroke-width="7.68"/><path d="M17 309.8h1M392 309.8h1M435 309.8h1M9 317.5h1M64 317.5h1M138 317.5h1M145 317.5h1M156 317.5h1M184 317.5h1M186 317.5h1M272 317.5h1M432 317.5h1M451 317.5h1M29 325.2h1M34 325.2h1M57 325.2h1M97 325.2h1M232 325.2h1M263 325.2h1M276 325.2h1M67 332.9h2M150 332.9h1M205 332.9h1M216 332.9h1M229 332.9h1M7 340.6h1M33 340.6h2M60 340.6h1M67 340.6h1M85 340.6h1M122 340.6h1M147 340.6h1M38 348.2h1M47 348.2h1M65 348.2h1M67 348.2h1M90 348.2h1M172 348.2h1M424 348.2h1M426 348.2h1M430 348.2h1M46 355.9h1M78 355.9h1M89 363.6h2M322 363.6h1M396 363.6h1M422 363.6h1M441 363.6h1M445 363.6h1M468 363.6h1M17 371.3h1M34 371.3h1M44 371.3h1M103 371.3h1M116 371.3h1M148 371.3h1M150 371.3h1M272 371.3h1M315 371.3h1M408 371.3h1M422 371.3h1M432 371.3h1M9 379.0h1M122 379.0h1M129 379.0h1M23 386.6h1M81 386.6h1M125 386.6h1M155 386.6h1M313 386.6h1M430 386.6h1M432 386.6h1M447 386.6h1M465 386.6h1M97 394.3h1M117 394.3h1M180 394.3h1M80 402.0h1M142 402.0h1M201 402.0h1M204 402.0h1M217 402.0h1M243 402.0h1M264 402.0h1M339 402.0h1M376 402.0h1M97 409.7h1M137 409.7h1M139 409.7h1M149 409.7h1M188 409.7h2M213 409.7h1M226 409.7h1M241 409.7h1M250 409.7h1M406 409.7h1M448 409.7h1M123 417.4h2M148 417.4h1M235 417.4h1M49 425.0h1M198 425.0h1M206 425.0h1M366 425.0h1M49 432.7h2M58 432.7h1M108 432.7h1M148 432.7h1M174 432.7h1M181 432.7h1M448 432.7h1M33 440.4h1M36 440.4h1M44 440.4h1M89 440.4h1M97 440.4h1M100 440.4h1M152 440.4h1M199 440.4h2M48 448.1h1M50 448.1h1M88 448.1h1M193 448.1h1M233 448.1h1M48 455.8h1M93 455.8h1M113 455.8h1M127 455.8h1M142 455.8h1M152 455.8h1M223 455.8h1M27 463.4h1M58 463.4h1M62 463.4h1M345 463.4h1M355 463.4h1M414 463.4h1M51 471.1h1M235 471.1h1M269 471.1h1M354 471.1h1M427 471.1h1M17 478.8h1M49 478.8h1M53 478.8h1M63 478.8h1M454 478.8h1M460 478.8h1M468 478.8h1M49 486.5h1M263 486.5h1M135 494.2h1M341 494.2h1M357 494.2h1M389 494.2h1M50 501.8h1M154 501.8h1M274 501.8h1M388 501.8h1M40 509.5h1M59 509.5h1M294 509.5h1M345 509.5h1M221 517.2h1M278 517.2h1M81 524.9h1M176 524.9h1M458 524.9h1M116 532.6h1M198 532.6h1M295 532.6h1M382 532.6h1M469 532.6h1M28 540.2h1M97 540.2h1M112 540.2h1M116 540.2h1M155 540.2h1M172 540.2h1M201 540.2h1M265 540.2h1M271 540.2h1M440 540.2h1" stroke="#e97660" stroke-width="7.68"/><path d="M51 309.8h1M114 309.8h1M140 309.8h1M279 309.8h1M30 317.5h1M74 317.5h1M78 317.5h1M176 317.5h1M369 317.5h1M46 325.2h1M255 325.2h1M257 325.2h1M435 325.2h1M17 332.9h1M45 332.9h1M110 332.9h1M122 332.9h1M146 332.9h1M163 332.9h1M8 340.6h1M21 340.6h1M127 340.6h1M143 340.6h1M11 348.2h1M17 348.2h1M89 348.2h1M180 348.2h1M38 355.9h1M97 355.9h1M108 355.9h1M133 355.9h1M135 355.9h1M163 355.9h1M176 355.9h2M136 363.6h1M186 363.6h1M454 363.6h1M67 371.3h1M278 371.3h1M417 371.3h1M101 379.0h1M422 379.0h1M9 386.6h1M47 386.6h1M50 386.6h1M68 386.6h1M132 386.6h1M176 386.6h1M181 386.6h1M216 386.6h1M266 386.6h1M362 386.6h1M16 394.3h1M89 394.3h1M148 394.3h2M176 394.3h1M178 394.3h1M220 394.3h1M228 394.3h1M277 394.3h1M469 394.3h1M103 402.0h1M117 402.0h1M130 402.0h1M139 402.0h1M148 402.0h2M206 402.0h1M445 402.0h1M12 409.7h1M51 409.7h1M106 409.7h1M114 409.7h1M127 409.7h1M186 409.7h1M210 409.7h1M272 409.7h1M67 417.4h1M173 417.4h1M176 417.4h1M202 417.4h1M230 417.4h1M57 425.0h1M103 425.0h1M180 425.0h1M210 425.0h1M215 425.0h1M220 425.0h1M330 425.0h1M67 432.7h1M78 432.7h1M99 432.7h1M215 432.7h1M447 432.7h1M20 440.4h1M171 440.4h1M186 440.4h1M202 440.4h1M205 440.4h1M122 448.1h1M163 448.1h1M78 455.8h1M148 455.8h1M150 455.8h1M171 455.8h1M177 455.8h1M188 455.8h1M214 455.8h1M55 463.4h1M259 463.4h1M280 463.4h1M285 463.4h1M303 463.4h1M412 463.4h1M62 471.1h1M248 471.1h1M330 471.1h1M412 471.1h1M52 478.8h1M394 478.8h1M439 478.8h1M444 478.8h1M50 486.5h1M123 486.5h1M127 486.5h1M145 486.5h1M175 486.5h1M265 486.5h1M295 486.5h1M316 486.5h1M331 486.5h1M359 486.5h1M59 494.2h1M162 494.2h1M255 494.2h1M403 494.2h1M408 494.2h1M458 494.2h1M259 501.8h1M266 501.8h1M365 501.8h1M420 501.8h1M186 509.5h1M330 509.5h1M412 509.5h1M98 517.2h1M218 517.2h1M282 517.2h1M284 517.2h1M331 517.2h1M399 517.2h1M462 517.2h1M89 524.9h1M417 524.9h1M443 524.9h1M161 532.6h1M455 532.6h1M77 540.2h1M173 540.2h1M294 540.2h1M343 540.2h1M388 540.2h1M411 540.2h1M433 540.2h1M444 540.2h1" stroke="#e66953" stroke-width="7.68"/><path d="M11 309.8h1M97 309.8h1M285 309.8h1M16 317.5h1M34 317.5h1M49 317.5h1M59 317.5h1M137 317.5h1M449 317.5h1M9 325.2h1M127 325.2h1M42 332.9h1M59 332.9h1M103 332.9h1M132 332.9h1M172 332.9h1M219 332.9h1M55 340.6h1M91 340.6h1M176 340.6h1M179 340.6h1M133 348.2h1M147 348.2h1M152 348.2h1M178 348.2h1M137 355.9h1M186 355.9h1M203 355.9h1M215 355.9h1M106 363.6h1M121 363.6h1M154 363.6h1M188 363.6h1M226 363.6h1M266 363.6h1M81 371.3h1M186 371.3h1M17 379.0h1M60 379.0h1M106 379.0h1M139 379.0h1M12 386.6h1M60 386.6h1M99 386.6h1M103 386.6h1M324 386.6h1M418 386.6h2M163 394.3h1M181 394.3h1M206 394.3h1M234 394.3h1M410 394.3h1M124 402.0h1M157 402.0h1M32 409.7h1M57 409.7h1M68 409.7h1M113 409.7h1M146 409.7h1M172 409.7h1M207 409.7h1M217 409.7h1M347 409.7h1M9 417.4h1M32 417.4h1M106 417.4h1M144 417.4h1M209 417.4h1M163 425.0h1M176 425.0h1M204 425.0h1M248 425.0h1M348 425.0h1M55 432.7h1M80 432.7h1M93 432.7h1M103 432.7h1M116 432.7h2M121 432.7h1M127 432.7h1M12 440.4h1M19 440.4h1M105 440.4h2M131 440.4h1M155 440.4h1M170 440.4h1M23 448.1h1M55 448.1h1M69 448.1h1M138 448.1h1M182 448.1h1M40 455.8h1M185 455.8h1M202 455.8h1M209 455.8h1M228 455.8h1M261 463.4h1M282 463.4h1M331 463.4h1M8 471.1h1M45 471.1h1M327 471.1h1M336 471.1h1M458 471.1h1M211 478.8h1M365 478.8h1M163 486.5h1M255 486.5h1M270 486.5h1M308 486.5h1M394 486.5h1M428 486.5h1M425 494.2h1M135 501.8h1M457 501.8h1M241 517.2h1M343 517.2h1M419 517.2h1M249 524.9h1M382 524.9h1M411 524.9h1M30 532.6h1M112 532.6h1M216 532.6h1M248 532.6h1M263 532.6h1M138 540.2h1M154 540.2h1M227 540.2h1M312 540.2h1" stroke="#e45c46" stroke-width="7.68"/><path d="M131 309.8h1M447 309.8h1M36 317.5h1M40 317.5h1M46 317.5h1M276 317.5h1M49 325.2h1M137 325.2h1M246 325.2h1M277 325.2h1M46 332.9h1M78 332.9h1M171 332.9h1M221 332.9h1M45 340.6h1M78 340.6h1M90 340.6h1M148 340.6h1M40 348.2h1M46 348.2h1M132 348.2h1M124 355.9h1M138 363.6h1M449 363.6h1M124 371.3h1M142 371.3h1M171 371.3h1M176 371.3h1M445 371.3h1M29 379.0h1M89 379.0h1M117 379.0h1M155 379.0h1M430 379.0h1M24 386.6h1M38 386.6h1M119 386.6h1M34 394.3h1M203 394.3h1M272 394.3h1M324 394.3h1M67 402.0h1M111 402.0h1M138 402.0h1M186 402.0h1M225 402.0h1M103 409.7h1M178 409.7h1M40 417.4h1M89 417.4h1M186 417.4h1M30 425.0h1M106 425.0h1M111 425.0h1M130 425.0h1M179 425.0h1M203 425.0h1M247 425.0h1M46 432.7h1M101 432.7h1M126 432.7h1M133 432.7h1M23 440.4h1M143 440.4h1M175 440.4h1M181 448.1h1M9 455.8h1M49 455.8h1M55 455.8h1M124 455.8h1M157 455.8h1M183 455.8h1M17 463.4h1M28 463.4h1M38 463.4h1M68 463.4h1M81 463.4h1M246 463.4h1M30 471.1h1M40 471.1h1M42 471.1h1M230 471.1h1M338 471.1h1M31 478.8h1M160 478.8h1M308 478.8h1M417 478.8h1M466 478.8h1M160 486.5h1M209 486.5h1M252 486.5h1M301 486.5h1M97 494.2h1M90 501.8h1M110 501.8h1M195 509.5h1M172 517.2h1M230 517.2h1M308 517.2h1M439 517.2h1M447 517.2h1M250 524.9h1M312 524.9h1M343 524.9h1M404 524.9h1M87 532.6h1M122 532.6h1M148 532.6h1M404 532.6h1M87 540.2h1M122 540.2h1M126 540.2h1M259 540.2h1M301 540.2h1" stroke="#e24f3c" stroke-width="7.68"/><path d="M157 317.5h1M279 317.5h1M447 317.5h1M122 325.2h1M147 325.2h1M9 332.9h1M81 332.9h1M117 332.9h1M139 332.9h1M194 332.9h1M202 332.9h1M210 332.9h1M23 340.6h1M41 340.6h1M130 340.6h1M12 348.2h1M44 348.2h1M52 348.2h1M157 348.2h1M188 355.9h1M393 355.9h1M148 363.6h1M406 363.6h1M413 363.6h1M11 371.3h1M121 371.3h1M97 379.0h1M130 379.0h1M43 386.6h1M48 386.6h1M171 386.6h1M105 394.3h1M97 402.0h1M203 402.0h1M50 409.7h1M116 409.7h1M126 409.7h1M131 409.7h1M138 409.7h1M97 417.4h1M37 425.0h1M161 425.0h1M232 425.0h1M244 425.0h1M97 432.7h1M139 432.7h1M225 432.7h1M230 432.7h1M65 440.4h1M126 440.4h1M163 440.4h1M203 440.4h1M206 440.4h1M30 448.1h1M32 448.1h1M129 448.1h1M130 455.8h1M312 463.4h1M338 463.4h1M249 471.1h1M361 471.1h1M405 478.8h1M110 486.5h1M191 494.2h1M277 494.2h1M466 494.2h1M417 501.8h1M99 509.5h1M410 509.5h1M89 517.2h1M86 524.9h1M118 532.6h1M302 532.6h1M164 540.2h1M439 540.2h1" stroke="#e04233" stroke-width="7.68"/><path d="M276 309.8h1M146 317.5h1M386 317.5h1M272 325.2h1M447 325.2h1M27 332.9h1M133 332.9h1M178 332.9h1M124 340.6h1M163 340.6h1M180 340.6h1M163 348.2h1M42 355.9h1M156 355.9h1M366 363.6h1M108 371.3h1M449 379.0h1M37 386.6h1M46 386.6h1M142 394.3h1M188 394.3h1M89 402.0h1M188 402.0h1M243 409.7h1M118 417.4h1M178 417.4h1M114 432.7h1M132 432.7h1M138 432.7h1M143 432.7h1M180 440.4h1M232 440.4h1M38 455.8h1M106 455.8h1M417 463.4h1M126 471.1h1M357 478.8h1M410 478.8h1M63 486.5h1M314 486.5h1M123 501.8h1M209 501.8h1M230 501.8h1M263 501.8h1M439 501.8h1M16 517.2h1M72 524.9h1M216 524.9h1M282 524.9h1M225 532.6h1M86 540.2h1M124 540.2h1M428 540.2h1" stroke="#de352a" stroke-width="7.68"/><path d="M446 309.8h1M24 317.5h1M44 317.5h1M65 317.5h1M67 317.5h2M97 317.5h1M106 317.5h1M121 317.5h1M132 317.5h1M181 317.5h1M397 317.5h1M258 325.2h1M279 325.2h1M283 325.2h1M289 325.2h1M396 325.2h1M12 332.9h1M44 332.9h1M49 332.9h1M57 332.9h1M65 332.9h1M106 332.9h1M108 332.9h2M114 332.9h1M116 332.9h1M124 332.9h1M130 332.9h1M137 332.9h2M140 332.9h1M148 332.9h1M24 340.6h1M30 340.6h1M65 340.6h1M68 340.6h1M76 340.6h1M97 340.6h1M106 340.6h1M138 340.6h1M16 348.2h1M69 348.2h1M97 348.2h1M124 348.2h1M155 348.2h1M202 348.2h1M435 348.2h1M447 348.2h1M34 355.9h1M130 355.9h1M445 355.9h1M453 355.9h1M99 363.6h1M453 363.6h1M16 371.3h1M57 371.3h1M97 371.3h1M101 371.3h1M106 371.3h1M138 371.3h1M147 371.3h1M163 371.3h1M232 371.3h1M276 379.0h1M279 379.0h1M25 386.6h1M35 386.6h1M44 386.6h1M67 386.6h1M106 386.6h1M196 386.6h1M413 386.6h1M122 394.3h1M124 394.3h1M137 394.3h1M140 394.3h1M106 402.0h1M136 402.0h2M202 402.0h1M226 402.0h1M230 402.0h1M122 409.7h1M157 409.7h1M171 409.7h1M247 409.7h1M324 409.7h1M103 417.4h1M130 417.4h1M188 417.4h1M206 417.4h1M216 425.0h1M12 432.7h1M17 432.7h1M59 432.7h1M122 432.7h1M124 432.7h1M173 432.7h1M188 432.7h1M206 432.7h1M34 440.4h1M124 440.4h1M130 440.4h1M176 440.4h1M178 440.4h1M188 440.4h1M204 440.4h1M11 448.1h1M171 448.1h1M176 448.1h1M188 448.1h1M217 448.1h1M12 455.8h1M60 455.8h1M140 455.8h1M213 455.8h1M97 463.4h1M264 463.4h1M281 463.4h1M326 463.4h1M337 463.4h1M343 463.4h1M465 463.4h1M19 471.1h1M31 471.1h1M298 471.1h1M365 471.1h1M232 478.8h1M257 478.8h1M390 478.8h1M397 478.8h1M285 486.5h1M318 486.5h1M330 486.5h1M349 486.5h1M439 486.5h1M395 494.2h1M405 494.2h1M446 494.2h1M186 501.8h1M220 501.8h1M354 501.8h1M381 501.8h1M458 501.8h1M280 509.5h1M390 509.5h1M136 517.2h1M357 517.2h1M388 517.2h1M404 517.2h1M417 517.2h1M49 532.6h1M189 532.6h1M209 532.6h1M246 532.6h1M303 532.6h1M343 532.6h1M101 540.2h1M158 540.2h1M160 540.2h1M390 540.2h1M394 540.2h1M435 540.2h1M463 540.2h1" stroke="#dc2820" stroke-width="7.68"/></g>
<defs><linearGradient id="lg" x1="0" x2="1" y1="0" y2="0"><stop offset="0" stop-color="#2a2090"/><stop offset="0.25" stop-color="#3a2f9e"/><stop offset="0.4" stop-color="#9a92cc"/><stop offset="0.5" stop-color="#ffffff"/><stop offset="0.6" stop-color="#f8c0a8"/><stop offset="0.74" stop-color="#f05a3c"/><stop offset="1" stop-color="#e02020"/></linearGradient></defs>
<rect x="234" y="555.1" width="45.2" height="8.9" fill="url(#lg)"/>
<path d="M234.2 555v9M256.6 561.5v2.5M279 555v9" stroke="#222" stroke-width="0.6"/>
<text x="234.6" y="573" font-size="7.2" fill="#333" text-anchor="middle" font-family="Liberation Sans, sans-serif" >&#8722;4</text>
<text x="256.6" y="573" font-size="7.2" fill="#333" text-anchor="middle" font-family="Liberation Sans, sans-serif" >0</text>
<text x="278.8" y="573" font-size="7.2" fill="#333" text-anchor="middle" font-family="Liberation Sans, sans-serif" >4</text>
<path d="M0.5 0.5H519M0.5 0.5V580.5" stroke="#5e5e5e" stroke-width="1" fill="none"/>
<path d="M519.5 0V581" stroke="#4a4a4a" stroke-width="1" fill="none"/>
<path d="M0 580.2H520" stroke="#4a4a4a" stroke-width="1.6" fill="none"/>
</g></svg>
</body></html>
